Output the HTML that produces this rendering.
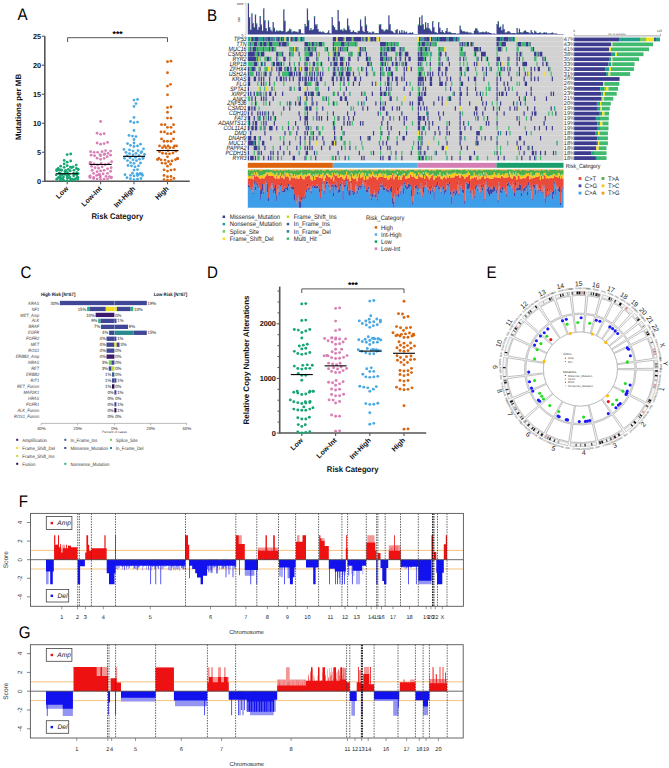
<!DOCTYPE html>
<html><head><meta charset="utf-8"><title>Figure</title>
<style>
html,body{margin:0;padding:0;background:#fff;}
body{width:669px;height:768px;overflow:hidden;}
svg{display:block;font-family:"Liberation Sans", sans-serif;text-rendering:geometricPrecision;}
</style></head><body>
<svg width="669" height="768" viewBox="0 0 669 768" font-family='"Liberation Sans", sans-serif'>
<rect width="669" height="768" fill="#fff"/>
<text transform="translate(17.6 19.8) scale(0.9 1)" font-size="16.8">A</text>
<line x1="44.8" y1="36.2" x2="44.8" y2="181.9" stroke="#555" stroke-width="1.6"/>
<line x1="44.2" y1="181.3" x2="189.8" y2="181.3" stroke="#555" stroke-width="1.6"/>
<line x1="41.8" y1="181.3" x2="44.8" y2="181.3" stroke="#555" stroke-width="1.1"/>
<text x="41" y="183.9" font-size="7.3" text-anchor="end" font-weight="bold" fill="#111">0</text>
<line x1="41.8" y1="152.28" x2="44.8" y2="152.28" stroke="#555" stroke-width="1.1"/>
<text x="41" y="154.88" font-size="7.3" text-anchor="end" font-weight="bold" fill="#111">5</text>
<line x1="41.8" y1="123.26" x2="44.8" y2="123.26" stroke="#555" stroke-width="1.1"/>
<text x="41" y="125.86" font-size="7.3" text-anchor="end" font-weight="bold" fill="#111">10</text>
<line x1="41.8" y1="94.24" x2="44.8" y2="94.24" stroke="#555" stroke-width="1.1"/>
<text x="41" y="96.84" font-size="7.3" text-anchor="end" font-weight="bold" fill="#111">15</text>
<line x1="41.8" y1="65.22" x2="44.8" y2="65.22" stroke="#555" stroke-width="1.1"/>
<text x="41" y="67.82" font-size="7.3" text-anchor="end" font-weight="bold" fill="#111">20</text>
<line x1="41.8" y1="36.2" x2="44.8" y2="36.2" stroke="#555" stroke-width="1.1"/>
<text x="41" y="38.8" font-size="7.3" text-anchor="end" font-weight="bold" fill="#111">25</text>
<text transform="translate(21 107) rotate(-90)" font-size="7.9" text-anchor="middle" font-weight="bold" fill="#111">Mutations per MB</text>
<line x1="67.2" y1="181.3" x2="67.2" y2="184.3" stroke="#555" stroke-width="1.1"/>
<text transform="translate(68.8 189.1) rotate(-45)" font-size="7.1" text-anchor="end" font-weight="bold" fill="#111">Low</text>
<line x1="100.6" y1="181.3" x2="100.6" y2="184.3" stroke="#555" stroke-width="1.1"/>
<text transform="translate(102.2 189.1) rotate(-45)" font-size="7.1" text-anchor="end" font-weight="bold" fill="#111">Low-Int</text>
<line x1="134" y1="181.3" x2="134" y2="184.3" stroke="#555" stroke-width="1.1"/>
<text transform="translate(135.6 189.1) rotate(-45)" font-size="7.1" text-anchor="end" font-weight="bold" fill="#111">Int-High</text>
<line x1="167.5" y1="181.3" x2="167.5" y2="184.3" stroke="#555" stroke-width="1.1"/>
<text transform="translate(169.1 189.1) rotate(-45)" font-size="7.1" text-anchor="end" font-weight="bold" fill="#111">High</text>
<text transform="translate(117.4 218.6) scale(0.94 1)" font-size="8.2" text-anchor="middle" font-weight="bold" fill="#111">Risk Category</text>
<path d="M67.6 42 V37.7 H167.5 V42" fill="none" stroke="#444" stroke-width="0.9"/>
<text x="117.6" y="36.6" font-size="8.6" text-anchor="middle" font-weight="bold">***</text>
<circle cx="67.2" cy="180.72" r="1.4" fill="#17a673"/>
<circle cx="70.7" cy="180.51" r="1.4" fill="#17a673"/>
<circle cx="63.7" cy="180.3" r="1.4" fill="#17a673"/>
<circle cx="74.2" cy="180.23" r="1.4" fill="#17a673"/>
<circle cx="60.2" cy="180.21" r="1.4" fill="#17a673"/>
<circle cx="77.7" cy="179.39" r="1.4" fill="#17a673"/>
<circle cx="56.7" cy="179.26" r="1.4" fill="#17a673"/>
<circle cx="70.57" cy="179.12" r="1.4" fill="#17a673"/>
<circle cx="72.55" cy="179.03" r="1.4" fill="#17a673"/>
<circle cx="62.72" cy="178.78" r="1.4" fill="#17a673"/>
<circle cx="75.48" cy="178.71" r="1.4" fill="#17a673"/>
<circle cx="60.83" cy="178.52" r="1.4" fill="#17a673"/>
<circle cx="67.53" cy="178.03" r="1.4" fill="#17a673"/>
<circle cx="58.02" cy="177.95" r="1.4" fill="#17a673"/>
<circle cx="67.65" cy="177.93" r="1.4" fill="#17a673"/>
<circle cx="77.29" cy="177.65" r="1.4" fill="#17a673"/>
<circle cx="77.43" cy="177.53" r="1.4" fill="#17a673"/>
<circle cx="77.85" cy="177.49" r="1.4" fill="#17a673"/>
<circle cx="69.81" cy="177.45" r="1.4" fill="#17a673"/>
<circle cx="59.42" cy="177.24" r="1.4" fill="#17a673"/>
<circle cx="63.43" cy="177.1" r="1.4" fill="#17a673"/>
<circle cx="60.15" cy="176.26" r="1.4" fill="#17a673"/>
<circle cx="67.15" cy="176.11" r="1.4" fill="#17a673"/>
<circle cx="73.7" cy="175.79" r="1.4" fill="#17a673"/>
<circle cx="67.35" cy="175.38" r="1.4" fill="#17a673"/>
<circle cx="56.2" cy="174.87" r="1.4" fill="#17a673"/>
<circle cx="69.09" cy="174.85" r="1.4" fill="#17a673"/>
<circle cx="76.81" cy="174.82" r="1.4" fill="#17a673"/>
<circle cx="62.41" cy="174.82" r="1.4" fill="#17a673"/>
<circle cx="64.75" cy="174.38" r="1.4" fill="#17a673"/>
<circle cx="61.22" cy="174.05" r="1.4" fill="#17a673"/>
<circle cx="76.95" cy="173.89" r="1.4" fill="#17a673"/>
<circle cx="75.29" cy="173.78" r="1.4" fill="#17a673"/>
<circle cx="77.23" cy="173.77" r="1.4" fill="#17a673"/>
<circle cx="78.15" cy="173.65" r="1.4" fill="#17a673"/>
<circle cx="73.53" cy="173.48" r="1.4" fill="#17a673"/>
<circle cx="59.92" cy="173.15" r="1.4" fill="#17a673"/>
<circle cx="59.27" cy="173.13" r="1.4" fill="#17a673"/>
<circle cx="76.82" cy="172.7" r="1.4" fill="#17a673"/>
<circle cx="67.36" cy="172.52" r="1.4" fill="#17a673"/>
<circle cx="64.93" cy="171.73" r="1.4" fill="#17a673"/>
<circle cx="70.2" cy="170.74" r="1.4" fill="#17a673"/>
<circle cx="56.7" cy="170.65" r="1.4" fill="#17a673"/>
<circle cx="73.96" cy="170.37" r="1.4" fill="#17a673"/>
<circle cx="65.68" cy="170.34" r="1.4" fill="#17a673"/>
<circle cx="61.7" cy="170.23" r="1.4" fill="#17a673"/>
<circle cx="59.25" cy="170.02" r="1.4" fill="#17a673"/>
<circle cx="60.95" cy="169.83" r="1.4" fill="#17a673"/>
<circle cx="56.71" cy="169.65" r="1.4" fill="#17a673"/>
<circle cx="78.2" cy="169.55" r="1.4" fill="#17a673"/>
<circle cx="68.3" cy="169.39" r="1.4" fill="#17a673"/>
<circle cx="78.02" cy="169.13" r="1.4" fill="#17a673"/>
<circle cx="76.35" cy="168.46" r="1.4" fill="#17a673"/>
<circle cx="58.11" cy="168.35" r="1.4" fill="#17a673"/>
<circle cx="71.7" cy="167.59" r="1.4" fill="#17a673"/>
<circle cx="64.2" cy="167.32" r="1.4" fill="#17a673"/>
<circle cx="70.48" cy="167.2" r="1.4" fill="#17a673"/>
<circle cx="73.17" cy="166.79" r="1.4" fill="#17a673"/>
<circle cx="60.7" cy="166.21" r="1.4" fill="#17a673"/>
<circle cx="67.2" cy="165.63" r="1.4" fill="#17a673"/>
<circle cx="76.2" cy="165.05" r="1.4" fill="#17a673"/>
<circle cx="64.2" cy="163.89" r="1.4" fill="#17a673"/>
<circle cx="67.2" cy="162.15" r="1.4" fill="#17a673"/>
<circle cx="70.7" cy="160.99" r="1.4" fill="#17a673"/>
<circle cx="64.2" cy="160.41" r="1.4" fill="#17a673"/>
<circle cx="67.2" cy="154.6" r="1.4" fill="#17a673"/>
<circle cx="70.7" cy="154.02" r="1.4" fill="#17a673"/>
<line x1="56.2" y1="173.75" x2="78.2" y2="173.75" stroke="#000" stroke-width="1.1"/>
<circle cx="100.6" cy="179.53" r="1.4" fill="#d97fb4"/>
<circle cx="104.1" cy="179.26" r="1.4" fill="#d97fb4"/>
<circle cx="97.1" cy="179.09" r="1.4" fill="#d97fb4"/>
<circle cx="107.6" cy="178.83" r="1.4" fill="#d97fb4"/>
<circle cx="93.6" cy="178.59" r="1.4" fill="#d97fb4"/>
<circle cx="111.1" cy="177.83" r="1.4" fill="#d97fb4"/>
<circle cx="90.1" cy="177.62" r="1.4" fill="#d97fb4"/>
<circle cx="93.74" cy="177.3" r="1.4" fill="#d97fb4"/>
<circle cx="100.23" cy="177.26" r="1.4" fill="#d97fb4"/>
<circle cx="111.44" cy="177.25" r="1.4" fill="#d97fb4"/>
<circle cx="109.48" cy="176.77" r="1.4" fill="#d97fb4"/>
<circle cx="89.67" cy="176.52" r="1.4" fill="#d97fb4"/>
<circle cx="106.04" cy="176.34" r="1.4" fill="#d97fb4"/>
<circle cx="90.18" cy="175.9" r="1.4" fill="#d97fb4"/>
<circle cx="100.21" cy="175.78" r="1.4" fill="#d97fb4"/>
<circle cx="96.6" cy="175.37" r="1.4" fill="#d97fb4"/>
<circle cx="98.78" cy="174.68" r="1.4" fill="#d97fb4"/>
<circle cx="99.44" cy="174.31" r="1.4" fill="#d97fb4"/>
<circle cx="103.1" cy="173.88" r="1.4" fill="#d97fb4"/>
<circle cx="93.6" cy="173.45" r="1.4" fill="#d97fb4"/>
<circle cx="107.6" cy="173.35" r="1.4" fill="#d97fb4"/>
<circle cx="97.1" cy="171.63" r="1.4" fill="#d97fb4"/>
<circle cx="110.6" cy="171.25" r="1.4" fill="#d97fb4"/>
<circle cx="100.6" cy="170.95" r="1.4" fill="#d97fb4"/>
<circle cx="104.1" cy="170.29" r="1.4" fill="#d97fb4"/>
<circle cx="92.1" cy="170.26" r="1.4" fill="#d97fb4"/>
<circle cx="107.6" cy="168.83" r="1.4" fill="#d97fb4"/>
<circle cx="98.6" cy="168.16" r="1.4" fill="#d97fb4"/>
<circle cx="95.1" cy="167.77" r="1.4" fill="#d97fb4"/>
<circle cx="111.1" cy="167.66" r="1.4" fill="#d97fb4"/>
<circle cx="102.1" cy="166.83" r="1.4" fill="#d97fb4"/>
<circle cx="91.6" cy="166.34" r="1.4" fill="#d97fb4"/>
<circle cx="97.6" cy="164.94" r="1.4" fill="#d97fb4"/>
<circle cx="105.1" cy="164.64" r="1.4" fill="#d97fb4"/>
<circle cx="94.1" cy="163.98" r="1.4" fill="#d97fb4"/>
<circle cx="108.6" cy="163.76" r="1.4" fill="#d97fb4"/>
<circle cx="89.97" cy="163.65" r="1.4" fill="#d97fb4"/>
<circle cx="101.1" cy="163.51" r="1.4" fill="#d97fb4"/>
<circle cx="90.34" cy="162.47" r="1.4" fill="#d97fb4"/>
<circle cx="90.27" cy="162.28" r="1.4" fill="#d97fb4"/>
<circle cx="111.6" cy="161.77" r="1.4" fill="#d97fb4"/>
<circle cx="100.6" cy="159.35" r="1.4" fill="#d97fb4"/>
<circle cx="104.1" cy="158.31" r="1.4" fill="#d97fb4"/>
<circle cx="97.1" cy="158.14" r="1.4" fill="#d97fb4"/>
<circle cx="107.1" cy="156.63" r="1.4" fill="#d97fb4"/>
<circle cx="100.6" cy="155.76" r="1.4" fill="#d97fb4"/>
<circle cx="94.6" cy="155.76" r="1.4" fill="#d97fb4"/>
<circle cx="91.1" cy="155.18" r="1.4" fill="#d97fb4"/>
<circle cx="110.6" cy="155.18" r="1.4" fill="#d97fb4"/>
<circle cx="104.1" cy="154.6" r="1.4" fill="#d97fb4"/>
<circle cx="100.07" cy="154.6" r="1.4" fill="#d97fb4"/>
<circle cx="104.68" cy="154.02" r="1.4" fill="#d97fb4"/>
<circle cx="108.08" cy="153.44" r="1.4" fill="#d97fb4"/>
<circle cx="97.6" cy="152.28" r="1.4" fill="#d97fb4"/>
<circle cx="94.1" cy="152.28" r="1.4" fill="#d97fb4"/>
<circle cx="102.1" cy="151.7" r="1.4" fill="#d97fb4"/>
<circle cx="90.6" cy="151.7" r="1.4" fill="#d97fb4"/>
<circle cx="110.6" cy="151.12" r="1.4" fill="#d97fb4"/>
<circle cx="105.6" cy="150.54" r="1.4" fill="#d97fb4"/>
<circle cx="100.6" cy="144.15" r="1.4" fill="#d97fb4"/>
<circle cx="104.1" cy="143.57" r="1.4" fill="#d97fb4"/>
<circle cx="97.1" cy="142.99" r="1.4" fill="#d97fb4"/>
<circle cx="107.6" cy="142.41" r="1.4" fill="#d97fb4"/>
<circle cx="100.6" cy="134.29" r="1.4" fill="#d97fb4"/>
<circle cx="104.1" cy="133.71" r="1.4" fill="#d97fb4"/>
<circle cx="97.1" cy="133.13" r="1.4" fill="#d97fb4"/>
<circle cx="100.6" cy="121.52" r="1.4" fill="#d97fb4"/>
<line x1="89.6" y1="164.47" x2="111.6" y2="164.47" stroke="#000" stroke-width="1.1"/>
<circle cx="134" cy="179.74" r="1.4" fill="#4ba9e3"/>
<circle cx="137.5" cy="179.22" r="1.4" fill="#4ba9e3"/>
<circle cx="130.5" cy="178.7" r="1.4" fill="#4ba9e3"/>
<circle cx="141" cy="178.5" r="1.4" fill="#4ba9e3"/>
<circle cx="127" cy="177.67" r="1.4" fill="#4ba9e3"/>
<circle cx="134" cy="175.96" r="1.4" fill="#4ba9e3"/>
<circle cx="137.5" cy="175.62" r="1.4" fill="#4ba9e3"/>
<circle cx="142.5" cy="175.46" r="1.4" fill="#4ba9e3"/>
<circle cx="130.5" cy="175.29" r="1.4" fill="#4ba9e3"/>
<circle cx="125" cy="174.7" r="1.4" fill="#4ba9e3"/>
<circle cx="137.68" cy="174.47" r="1.4" fill="#4ba9e3"/>
<circle cx="140.22" cy="174.2" r="1.4" fill="#4ba9e3"/>
<circle cx="142.03" cy="174.02" r="1.4" fill="#4ba9e3"/>
<circle cx="137.05" cy="173.73" r="1.4" fill="#4ba9e3"/>
<circle cx="140.16" cy="173.47" r="1.4" fill="#4ba9e3"/>
<circle cx="132.44" cy="173.16" r="1.4" fill="#4ba9e3"/>
<circle cx="134" cy="170.11" r="1.4" fill="#4ba9e3"/>
<circle cx="137.5" cy="169.53" r="1.4" fill="#4ba9e3"/>
<circle cx="135" cy="166.83" r="1.4" fill="#4ba9e3"/>
<circle cx="131.5" cy="165.95" r="1.4" fill="#4ba9e3"/>
<circle cx="138.5" cy="165.78" r="1.4" fill="#4ba9e3"/>
<circle cx="128" cy="165.52" r="1.4" fill="#4ba9e3"/>
<circle cx="134" cy="163.37" r="1.4" fill="#4ba9e3"/>
<circle cx="140.5" cy="163" r="1.4" fill="#4ba9e3"/>
<circle cx="130.5" cy="162.54" r="1.4" fill="#4ba9e3"/>
<circle cx="136.5" cy="160.68" r="1.4" fill="#4ba9e3"/>
<circle cx="127.5" cy="160.54" r="1.4" fill="#4ba9e3"/>
<circle cx="133" cy="159.86" r="1.4" fill="#4ba9e3"/>
<circle cx="139.5" cy="159.15" r="1.4" fill="#4ba9e3"/>
<circle cx="143" cy="158.52" r="1.4" fill="#4ba9e3"/>
<circle cx="124.5" cy="158.31" r="1.4" fill="#4ba9e3"/>
<circle cx="130" cy="157.76" r="1.4" fill="#4ba9e3"/>
<circle cx="143.01" cy="157.53" r="1.4" fill="#4ba9e3"/>
<circle cx="135.5" cy="157.23" r="1.4" fill="#4ba9e3"/>
<circle cx="127" cy="155.85" r="1.4" fill="#4ba9e3"/>
<circle cx="139" cy="155.76" r="1.4" fill="#4ba9e3"/>
<circle cx="133" cy="154.8" r="1.4" fill="#4ba9e3"/>
<circle cx="144.5" cy="154.51" r="1.4" fill="#4ba9e3"/>
<circle cx="129.5" cy="153.58" r="1.4" fill="#4ba9e3"/>
<circle cx="136" cy="153.28" r="1.4" fill="#4ba9e3"/>
<circle cx="141" cy="152.86" r="1.4" fill="#4ba9e3"/>
<circle cx="126" cy="152.28" r="1.4" fill="#4ba9e3"/>
<circle cx="141.68" cy="151.7" r="1.4" fill="#4ba9e3"/>
<circle cx="133" cy="151.12" r="1.4" fill="#4ba9e3"/>
<circle cx="138" cy="150.54" r="1.4" fill="#4ba9e3"/>
<circle cx="129.5" cy="149.96" r="1.4" fill="#4ba9e3"/>
<circle cx="124" cy="149.38" r="1.4" fill="#4ba9e3"/>
<circle cx="143.5" cy="148.8" r="1.4" fill="#4ba9e3"/>
<circle cx="134" cy="146.48" r="1.4" fill="#4ba9e3"/>
<circle cx="137.5" cy="145.9" r="1.4" fill="#4ba9e3"/>
<circle cx="130.5" cy="145.32" r="1.4" fill="#4ba9e3"/>
<circle cx="140.5" cy="144.15" r="1.4" fill="#4ba9e3"/>
<circle cx="127.5" cy="143.57" r="1.4" fill="#4ba9e3"/>
<circle cx="134" cy="142.99" r="1.4" fill="#4ba9e3"/>
<circle cx="134" cy="139.51" r="1.4" fill="#4ba9e3"/>
<circle cx="136" cy="136.61" r="1.4" fill="#4ba9e3"/>
<circle cx="132.5" cy="136.03" r="1.4" fill="#4ba9e3"/>
<circle cx="129" cy="135.45" r="1.4" fill="#4ba9e3"/>
<circle cx="134" cy="130.51" r="1.4" fill="#4ba9e3"/>
<circle cx="134" cy="122.68" r="1.4" fill="#4ba9e3"/>
<circle cx="137.5" cy="122.1" r="1.4" fill="#4ba9e3"/>
<circle cx="130.5" cy="121.52" r="1.4" fill="#4ba9e3"/>
<circle cx="134" cy="117.46" r="1.4" fill="#4ba9e3"/>
<circle cx="134" cy="106.43" r="1.4" fill="#4ba9e3"/>
<circle cx="136" cy="103.53" r="1.4" fill="#4ba9e3"/>
<circle cx="134" cy="100.04" r="1.4" fill="#4ba9e3"/>
<circle cx="137.5" cy="99.46" r="1.4" fill="#4ba9e3"/>
<line x1="123" y1="156.34" x2="145" y2="156.34" stroke="#000" stroke-width="1.1"/>
<circle cx="167.5" cy="180.18" r="1.4" fill="#d9650f"/>
<circle cx="171" cy="180.08" r="1.4" fill="#d9650f"/>
<circle cx="164" cy="179.66" r="1.4" fill="#d9650f"/>
<circle cx="174" cy="178.45" r="1.4" fill="#d9650f"/>
<circle cx="167.5" cy="176.75" r="1.4" fill="#d9650f"/>
<circle cx="171" cy="176.48" r="1.4" fill="#d9650f"/>
<circle cx="164" cy="175.4" r="1.4" fill="#d9650f"/>
<circle cx="167.5" cy="171.09" r="1.4" fill="#d9650f"/>
<circle cx="171" cy="170.1" r="1.4" fill="#d9650f"/>
<circle cx="164" cy="169.79" r="1.4" fill="#d9650f"/>
<circle cx="174.5" cy="169.59" r="1.4" fill="#d9650f"/>
<circle cx="167.5" cy="166.17" r="1.4" fill="#d9650f"/>
<circle cx="170.5" cy="164.24" r="1.4" fill="#d9650f"/>
<circle cx="165.5" cy="163.45" r="1.4" fill="#d9650f"/>
<circle cx="162" cy="163.08" r="1.4" fill="#d9650f"/>
<circle cx="168.5" cy="161.52" r="1.4" fill="#d9650f"/>
<circle cx="172" cy="160.89" r="1.4" fill="#d9650f"/>
<circle cx="165" cy="160.04" r="1.4" fill="#d9650f"/>
<circle cx="161" cy="159.86" r="1.4" fill="#d9650f"/>
<circle cx="175.5" cy="159.56" r="1.4" fill="#d9650f"/>
<circle cx="157.5" cy="159.48" r="1.4" fill="#d9650f"/>
<circle cx="177.76" cy="158.67" r="1.4" fill="#d9650f"/>
<circle cx="158.81" cy="158.48" r="1.4" fill="#d9650f"/>
<circle cx="177.42" cy="158.47" r="1.4" fill="#d9650f"/>
<circle cx="167.5" cy="156.78" r="1.4" fill="#d9650f"/>
<circle cx="169.5" cy="153.83" r="1.4" fill="#d9650f"/>
<circle cx="166" cy="153.55" r="1.4" fill="#d9650f"/>
<circle cx="162.5" cy="153.25" r="1.4" fill="#d9650f"/>
<circle cx="173" cy="153.1" r="1.4" fill="#d9650f"/>
<circle cx="159.5" cy="151.66" r="1.4" fill="#d9650f"/>
<circle cx="176" cy="151.13" r="1.4" fill="#d9650f"/>
<circle cx="168" cy="150.56" r="1.4" fill="#d9650f"/>
<circle cx="166" cy="147.64" r="1.4" fill="#d9650f"/>
<circle cx="170" cy="147.64" r="1.4" fill="#d9650f"/>
<circle cx="162.5" cy="147.64" r="1.4" fill="#d9650f"/>
<circle cx="173.5" cy="147.64" r="1.4" fill="#d9650f"/>
<circle cx="159.5" cy="145.9" r="1.4" fill="#d9650f"/>
<circle cx="176.5" cy="145.9" r="1.4" fill="#d9650f"/>
<circle cx="168.1" cy="145.9" r="1.4" fill="#d9650f"/>
<circle cx="174.53" cy="145.9" r="1.4" fill="#d9650f"/>
<circle cx="164.4" cy="145.9" r="1.4" fill="#d9650f"/>
<circle cx="167.5" cy="141.25" r="1.4" fill="#d9650f"/>
<circle cx="171" cy="141.25" r="1.4" fill="#d9650f"/>
<circle cx="164" cy="141.25" r="1.4" fill="#d9650f"/>
<circle cx="173.5" cy="138.93" r="1.4" fill="#d9650f"/>
<circle cx="161.5" cy="138.93" r="1.4" fill="#d9650f"/>
<circle cx="167.5" cy="133.71" r="1.4" fill="#d9650f"/>
<circle cx="171" cy="133.71" r="1.4" fill="#d9650f"/>
<circle cx="164.5" cy="131.97" r="1.4" fill="#d9650f"/>
<circle cx="174" cy="131.97" r="1.4" fill="#d9650f"/>
<circle cx="161" cy="131.97" r="1.4" fill="#d9650f"/>
<circle cx="167.5" cy="127.32" r="1.4" fill="#d9650f"/>
<circle cx="171" cy="127.32" r="1.4" fill="#d9650f"/>
<circle cx="165" cy="124.71" r="1.4" fill="#d9650f"/>
<circle cx="173.5" cy="124.71" r="1.4" fill="#d9650f"/>
<circle cx="161.5" cy="124.71" r="1.4" fill="#d9650f"/>
<circle cx="167.5" cy="118.04" r="1.4" fill="#d9650f"/>
<circle cx="171" cy="118.04" r="1.4" fill="#d9650f"/>
<circle cx="167.5" cy="112.23" r="1.4" fill="#d9650f"/>
<circle cx="167.5" cy="107.59" r="1.4" fill="#d9650f"/>
<circle cx="171" cy="107.01" r="1.4" fill="#d9650f"/>
<circle cx="167.5" cy="94.82" r="1.4" fill="#d9650f"/>
<circle cx="167.5" cy="86.11" r="1.4" fill="#d9650f"/>
<circle cx="170.5" cy="84.37" r="1.4" fill="#d9650f"/>
<circle cx="167.5" cy="72.77" r="1.4" fill="#d9650f"/>
<circle cx="167.5" cy="61.74" r="1.4" fill="#d9650f"/>
<circle cx="171" cy="61.16" r="1.4" fill="#d9650f"/>
<line x1="156.5" y1="150.54" x2="178.5" y2="150.54" stroke="#000" stroke-width="1.1"/>
<text transform="translate(206.9 20.9) scale(0.9 1)" font-size="16.8">B</text>
<rect x="247.8" y="36.7" width="315.7" height="123.9" fill="#d2d2d2"/>
<path fill="#21a08a" d="M247.8 37h2.36v4.59h-2.36zM253.7 37h1.18v4.59h-1.18zM258.43 37h4.72v4.59h-4.72zM264.33 37h1.18v4.59h-1.18zM266.69 37h1.18v4.59h-1.18zM270.23 37h1.18v4.59h-1.18zM272.59 37h2.36v4.59h-2.36zM282.04 37h1.18v4.59h-1.18zM285.58 37h1.18v4.59h-1.18zM292.66 37h2.36v4.59h-2.36zM297.38 37h1.18v4.59h-1.18zM299.74 37h1.18v4.59h-1.18zM302.11 37h2.36v4.59h-2.36zM343.43 37h1.18v4.59h-1.18zM352.87 37h1.18v4.59h-1.18zM364.68 37h1.18v4.59h-1.18zM367.04 37h1.18v4.59h-1.18zM369.4 37h1.18v4.59h-1.18zM372.94 37h1.18v4.59h-1.18zM378.84 37h1.18v4.59h-1.18zM420.18 37h1.19v4.59h-1.19zM422.57 37h1.19v4.59h-1.19zM432.11 37h2.38v4.59h-2.38zM435.69 37h1.19v4.59h-1.19zM438.07 37h1.19v4.59h-1.19zM446.42 37h2.38v4.59h-2.38zM453.57 37h2.38v4.59h-2.38zM457.15 37h2.38v4.59h-2.38zM500.03 37h1.18v4.59h-1.18zM502.38 37h1.18v4.59h-1.18zM508.25 37h1.18v4.59h-1.18zM510.61 37h2.35v4.59h-2.35zM514.13 37h1.18v4.59h-1.18zM290.3 51.83h1.18v4.59h-1.18zM384.74 51.83h1.18v4.59h-1.18zM429.72 51.83h1.19v4.59h-1.19zM251.34 61.72h1.18v4.59h-1.18zM261.97 61.72h1.18v4.59h-1.18zM279.68 61.72h1.18v4.59h-1.18zM547.04 61.72h1.18v4.59h-1.18zM300.93 66.66h1.18v4.59h-1.18zM332.8 66.66h1.18v4.59h-1.18zM348.15 66.66h1.18v4.59h-1.18zM371.76 66.66h1.18v4.59h-1.18zM500.03 66.66h1.18v4.59h-1.18zM507.08 66.66h1.18v4.59h-1.18zM287.94 71.61h1.18v4.59h-1.18zM335.16 71.61h1.18v4.59h-1.18zM464.3 71.61h1.19v4.59h-1.19zM264.33 86.44h1.18v4.59h-1.18zM317.45 86.44h1.18v4.59h-1.18zM390.65 86.44h1.18v4.59h-1.18zM489.35 86.44h1.19v4.59h-1.19zM332.8 91.38h1.18v4.59h-1.18zM349.33 91.38h1.18v4.59h-1.18zM286.76 101.27h1.18v4.59h-1.18zM290.3 101.27h1.18v4.59h-1.18zM304.47 101.27h1.18v4.59h-1.18zM312.73 101.27h1.18v4.59h-1.18zM357.59 101.27h1.18v4.59h-1.18zM363.49 101.27h1.18v4.59h-1.18zM516.48 101.27h1.18v4.59h-1.18zM524.71 101.27h1.18v4.59h-1.18zM254.88 106.22h1.18v4.59h-1.18zM304.47 106.22h1.18v4.59h-1.18zM350.51 106.22h1.18v4.59h-1.18zM554.1 106.22h1.18v4.59h-1.18zM387.11 111.16h1.18v4.59h-1.18zM426.15 111.16h1.19v4.59h-1.19zM259.61 116.1h1.18v4.59h-1.18zM247.8 121.05h1.18v4.59h-1.18zM467.88 121.05h1.19v4.59h-1.19zM259.61 125.99h1.18v4.59h-1.18zM423.76 125.99h1.19v4.59h-1.19zM289.12 130.94h1.18v4.59h-1.18zM500.03 130.94h1.18v4.59h-1.18zM418.99 135.88h1.19v4.59h-1.19zM460.73 135.88h1.19v4.59h-1.19zM464.3 135.88h1.19v4.59h-1.19zM496.5 135.88h1.18v4.59h-1.18zM253.7 140.82h1.18v4.59h-1.18zM378.84 140.82h1.18v4.59h-1.18zM556.45 140.82h1.18v4.59h-1.18zM257.24 150.71h1.18v4.59h-1.18zM298.56 150.71h1.18v4.59h-1.18zM555.27 150.71h1.18v4.59h-1.18zM348.15 155.66h1.18v4.59h-1.18zM446.42 155.66h1.19v4.59h-1.19z"/>
<path fill="#74c95a" d="M250.16 37h1.18v4.59h-1.18zM274.95 37h1.18v4.59h-1.18zM279.68 37h1.18v4.59h-1.18zM298.56 37h1.18v4.59h-1.18zM351.69 37h1.18v4.59h-1.18zM361.13 37h1.18v4.59h-1.18zM363.49 37h1.18v4.59h-1.18zM273.77 86.44h1.18v4.59h-1.18z"/>
<path fill="#3d3b8e" d="M251.34 37h2.36v4.59h-2.36zM254.88 37h3.54v4.59h-3.54zM263.15 37h1.18v4.59h-1.18zM265.51 37h1.18v4.59h-1.18zM267.87 37h2.36v4.59h-2.36zM271.41 37h1.18v4.59h-1.18zM277.31 37h2.36v4.59h-2.36zM280.86 37h1.18v4.59h-1.18zM283.22 37h1.18v4.59h-1.18zM286.76 37h1.18v4.59h-1.18zM290.3 37h2.36v4.59h-2.36zM295.02 37h2.36v4.59h-2.36zM300.93 37h1.18v4.59h-1.18zM332.8 37h3.54v4.59h-3.54zM337.52 37h5.9v4.59h-5.9zM345.79 37h5.9v4.59h-5.9zM354.05 37h7.08v4.59h-7.08zM362.31 37h1.18v4.59h-1.18zM365.86 37h1.18v4.59h-1.18zM370.58 37h2.36v4.59h-2.36zM374.12 37h2.36v4.59h-2.36zM418.99 37h1.19v4.59h-1.19zM426.15 37h3.58v4.59h-3.58zM430.92 37h1.19v4.59h-1.19zM434.49 37h1.19v4.59h-1.19zM436.88 37h1.19v4.59h-1.19zM439.26 37h7.15v4.59h-7.15zM448.8 37h4.77v4.59h-4.77zM455.96 37h1.19v4.59h-1.19zM496.5 37h3.53v4.59h-3.53zM501.2 37h1.18v4.59h-1.18zM503.55 37h4.7v4.59h-4.7zM509.43 37h1.18v4.59h-1.18zM250.16 41.94h1.18v4.59h-1.18zM253.7 41.94h3.54v4.59h-3.54zM259.61 41.94h2.36v4.59h-2.36zM263.15 41.94h3.54v4.59h-3.54zM269.05 41.94h3.54v4.59h-3.54zM278.49 41.94h2.36v4.59h-2.36zM282.04 41.94h4.72v4.59h-4.72zM304.47 41.94h3.54v4.59h-3.54zM309.19 41.94h1.18v4.59h-1.18zM311.55 41.94h2.36v4.59h-2.36zM316.27 41.94h1.18v4.59h-1.18zM318.63 41.94h3.54v4.59h-3.54zM332.8 41.94h1.18v4.59h-1.18zM341.06 41.94h3.54v4.59h-3.54zM348.15 41.94h1.18v4.59h-1.18zM355.23 41.94h1.18v4.59h-1.18zM380.02 41.94h5.9v4.59h-5.9zM387.11 41.94h1.18v4.59h-1.18zM390.65 41.94h1.18v4.59h-1.18zM394.19 41.94h1.18v4.59h-1.18zM418.99 41.94h1.19v4.59h-1.19zM421.38 41.94h3.58v4.59h-3.58zM427.34 41.94h1.19v4.59h-1.19zM429.72 41.94h1.19v4.59h-1.19zM434.49 41.94h1.19v4.59h-1.19zM459.53 41.94h1.19v4.59h-1.19zM461.92 41.94h1.19v4.59h-1.19zM464.3 41.94h1.19v4.59h-1.19zM466.69 41.94h2.38v4.59h-2.38zM470.27 41.94h2.38v4.59h-2.38zM496.5 41.94h2.35v4.59h-2.35zM501.2 41.94h4.7v4.59h-4.7zM517.66 41.94h3.53v4.59h-3.53zM525.89 41.94h2.35v4.59h-2.35zM529.41 41.94h1.18v4.59h-1.18zM250.16 46.89h1.18v4.59h-1.18zM252.52 46.89h3.54v4.59h-3.54zM257.24 46.89h1.18v4.59h-1.18zM263.15 46.89h1.18v4.59h-1.18zM269.05 46.89h1.18v4.59h-1.18zM271.41 46.89h2.36v4.59h-2.36zM292.66 46.89h1.18v4.59h-1.18zM296.2 46.89h1.18v4.59h-1.18zM304.47 46.89h1.18v4.59h-1.18zM308.01 46.89h2.36v4.59h-2.36zM311.55 46.89h1.18v4.59h-1.18zM315.09 46.89h1.18v4.59h-1.18zM326.9 46.89h1.18v4.59h-1.18zM332.8 46.89h1.18v4.59h-1.18zM335.16 46.89h1.18v4.59h-1.18zM337.52 46.89h1.18v4.59h-1.18zM339.88 46.89h1.18v4.59h-1.18zM342.24 46.89h1.18v4.59h-1.18zM346.97 46.89h1.18v4.59h-1.18zM359.95 46.89h1.18v4.59h-1.18zM362.31 46.89h1.18v4.59h-1.18zM364.68 46.89h1.18v4.59h-1.18zM381.2 46.89h1.18v4.59h-1.18zM383.56 46.89h1.18v4.59h-1.18zM387.11 46.89h2.36v4.59h-2.36zM390.65 46.89h4.72v4.59h-4.72zM400.09 46.89h1.18v4.59h-1.18zM402.45 46.89h1.18v4.59h-1.18zM420.18 46.89h2.38v4.59h-2.38zM424.95 46.89h2.38v4.59h-2.38zM428.53 46.89h1.19v4.59h-1.19zM439.26 46.89h1.19v4.59h-1.19zM460.73 46.89h1.19v4.59h-1.19zM473.84 46.89h4.77v4.59h-4.77zM479.81 46.89h1.19v4.59h-1.19zM497.68 46.89h3.53v4.59h-3.53zM532.94 46.89h1.18v4.59h-1.18zM247.8 51.83h7.08v4.59h-7.08zM257.24 51.83h2.36v4.59h-2.36zM260.79 51.83h3.54v4.59h-3.54zM276.13 51.83h2.36v4.59h-2.36zM282.04 51.83h1.18v4.59h-1.18zM289.12 51.83h1.18v4.59h-1.18zM298.56 51.83h1.18v4.59h-1.18zM309.19 51.83h3.54v4.59h-3.54zM316.27 51.83h1.18v4.59h-1.18zM333.98 51.83h2.36v4.59h-2.36zM337.52 51.83h2.36v4.59h-2.36zM350.51 51.83h1.18v4.59h-1.18zM358.77 51.83h2.36v4.59h-2.36zM365.86 51.83h1.18v4.59h-1.18zM380.02 51.83h2.36v4.59h-2.36zM383.56 51.83h1.18v4.59h-1.18zM385.93 51.83h1.18v4.59h-1.18zM398.91 51.83h2.36v4.59h-2.36zM404.81 51.83h3.54v4.59h-3.54zM417.8 51.83h1.19v4.59h-1.19zM420.18 51.83h2.38v4.59h-2.38zM439.26 51.83h2.38v4.59h-2.38zM445.23 51.83h1.19v4.59h-1.19zM464.3 51.83h1.19v4.59h-1.19zM475.04 51.83h1.19v4.59h-1.19zM481 51.83h4.77v4.59h-4.77zM516.48 51.83h1.18v4.59h-1.18zM520.01 51.83h1.18v4.59h-1.18zM534.11 51.83h2.35v4.59h-2.35zM537.64 51.83h1.18v4.59h-1.18zM539.99 51.83h2.35v4.59h-2.35zM247.8 56.78h8.26v4.59h-8.26zM257.24 56.78h1.18v4.59h-1.18zM266.69 56.78h2.36v4.59h-2.36zM276.13 56.78h1.18v4.59h-1.18zM283.22 56.78h2.36v4.59h-2.36zM305.65 56.78h3.54v4.59h-3.54zM316.27 56.78h1.18v4.59h-1.18zM328.08 56.78h1.18v4.59h-1.18zM332.8 56.78h2.36v4.59h-2.36zM336.34 56.78h1.18v4.59h-1.18zM339.88 56.78h3.54v4.59h-3.54zM348.15 56.78h2.36v4.59h-2.36zM357.59 56.78h1.18v4.59h-1.18zM365.86 56.78h2.36v4.59h-2.36zM369.4 56.78h1.18v4.59h-1.18zM380.02 56.78h3.54v4.59h-3.54zM385.93 56.78h1.18v4.59h-1.18zM388.29 56.78h1.18v4.59h-1.18zM390.65 56.78h1.18v4.59h-1.18zM395.37 56.78h1.18v4.59h-1.18zM400.09 56.78h1.18v4.59h-1.18zM404.81 56.78h1.18v4.59h-1.18zM408.36 56.78h2.36v4.59h-2.36zM417.8 56.78h5.96v4.59h-5.96zM424.95 56.78h1.19v4.59h-1.19zM439.26 56.78h1.19v4.59h-1.19zM447.61 56.78h1.19v4.59h-1.19zM459.53 56.78h1.19v4.59h-1.19zM463.11 56.78h1.19v4.59h-1.19zM477.42 56.78h1.19v4.59h-1.19zM481 56.78h1.19v4.59h-1.19zM486.96 56.78h1.19v4.59h-1.19zM496.5 56.78h3.53v4.59h-3.53zM508.25 56.78h1.18v4.59h-1.18zM516.48 56.78h1.18v4.59h-1.18zM518.83 56.78h1.18v4.59h-1.18zM542.34 56.78h1.18v4.59h-1.18zM544.69 56.78h1.18v4.59h-1.18zM253.7 61.72h3.54v4.59h-3.54zM260.79 61.72h1.18v4.59h-1.18zM264.33 61.72h1.18v4.59h-1.18zM272.59 61.72h2.36v4.59h-2.36zM276.13 61.72h3.54v4.59h-3.54zM280.86 61.72h1.18v4.59h-1.18zM289.12 61.72h1.18v4.59h-1.18zM298.56 61.72h1.18v4.59h-1.18zM304.47 61.72h1.18v4.59h-1.18zM312.73 61.72h2.36v4.59h-2.36zM320.99 61.72h1.18v4.59h-1.18zM330.44 61.72h1.18v4.59h-1.18zM333.98 61.72h3.54v4.59h-3.54zM339.88 61.72h3.54v4.59h-3.54zM345.79 61.72h1.18v4.59h-1.18zM348.15 61.72h1.18v4.59h-1.18zM367.04 61.72h2.36v4.59h-2.36zM370.58 61.72h1.18v4.59h-1.18zM381.2 61.72h2.36v4.59h-2.36zM384.74 61.72h1.18v4.59h-1.18zM391.83 61.72h1.18v4.59h-1.18zM395.37 61.72h2.36v4.59h-2.36zM402.45 61.72h1.18v4.59h-1.18zM404.81 61.72h2.36v4.59h-2.36zM417.8 61.72h1.19v4.59h-1.19zM420.18 61.72h1.19v4.59h-1.19zM429.72 61.72h1.19v4.59h-1.19zM439.26 61.72h1.19v4.59h-1.19zM441.65 61.72h1.19v4.59h-1.19zM448.8 61.72h1.19v4.59h-1.19zM473.84 61.72h1.19v4.59h-1.19zM476.23 61.72h1.19v4.59h-1.19zM496.5 61.72h1.18v4.59h-1.18zM500.03 61.72h1.18v4.59h-1.18zM516.48 61.72h1.18v4.59h-1.18zM522.36 61.72h4.7v4.59h-4.7zM542.34 61.72h1.18v4.59h-1.18zM545.87 61.72h1.18v4.59h-1.18zM247.8 66.66h1.18v4.59h-1.18zM251.34 66.66h3.54v4.59h-3.54zM259.61 66.66h1.18v4.59h-1.18zM271.41 66.66h1.18v4.59h-1.18zM276.13 66.66h1.18v4.59h-1.18zM278.49 66.66h3.54v4.59h-3.54zM284.4 66.66h1.18v4.59h-1.18zM286.76 66.66h2.36v4.59h-2.36zM290.3 66.66h1.18v4.59h-1.18zM295.02 66.66h1.18v4.59h-1.18zM298.56 66.66h1.18v4.59h-1.18zM304.47 66.66h3.54v4.59h-3.54zM311.55 66.66h1.18v4.59h-1.18zM317.45 66.66h1.18v4.59h-1.18zM333.98 66.66h1.18v4.59h-1.18zM337.52 66.66h1.18v4.59h-1.18zM342.24 66.66h1.18v4.59h-1.18zM346.97 66.66h1.18v4.59h-1.18zM361.13 66.66h1.18v4.59h-1.18zM365.86 66.66h1.18v4.59h-1.18zM380.02 66.66h1.18v4.59h-1.18zM385.93 66.66h1.18v4.59h-1.18zM388.29 66.66h2.36v4.59h-2.36zM403.63 66.66h1.18v4.59h-1.18zM405.99 66.66h1.18v4.59h-1.18zM410.72 66.66h1.18v4.59h-1.18zM421.38 66.66h1.19v4.59h-1.19zM438.07 66.66h2.38v4.59h-2.38zM445.23 66.66h2.38v4.59h-2.38zM459.53 66.66h2.38v4.59h-2.38zM466.69 66.66h2.38v4.59h-2.38zM482.19 66.66h1.19v4.59h-1.19zM485.77 66.66h1.19v4.59h-1.19zM490.54 66.66h1.19v4.59h-1.19zM501.2 66.66h1.18v4.59h-1.18zM503.55 66.66h1.18v4.59h-1.18zM509.43 66.66h1.18v4.59h-1.18zM518.83 66.66h1.18v4.59h-1.18zM530.59 66.66h1.18v4.59h-1.18zM534.11 66.66h1.18v4.59h-1.18zM537.64 66.66h2.35v4.59h-2.35zM548.22 66.66h1.18v4.59h-1.18zM247.8 71.61h1.18v4.59h-1.18zM256.06 71.61h1.18v4.59h-1.18zM258.43 71.61h1.18v4.59h-1.18zM264.33 71.61h2.36v4.59h-2.36zM270.23 71.61h1.18v4.59h-1.18zM278.49 71.61h1.18v4.59h-1.18zM289.12 71.61h3.54v4.59h-3.54zM293.84 71.61h1.18v4.59h-1.18zM296.2 71.61h1.18v4.59h-1.18zM298.56 71.61h2.36v4.59h-2.36zM305.65 71.61h1.18v4.59h-1.18zM309.19 71.61h1.18v4.59h-1.18zM311.55 71.61h1.18v4.59h-1.18zM313.91 71.61h1.18v4.59h-1.18zM317.45 71.61h1.18v4.59h-1.18zM319.81 71.61h1.18v4.59h-1.18zM322.18 71.61h1.18v4.59h-1.18zM332.8 71.61h2.36v4.59h-2.36zM338.7 71.61h1.18v4.59h-1.18zM341.06 71.61h2.36v4.59h-2.36zM345.79 71.61h4.72v4.59h-4.72zM352.87 71.61h1.18v4.59h-1.18zM365.86 71.61h1.18v4.59h-1.18zM380.02 71.61h1.18v4.59h-1.18zM390.65 71.61h2.36v4.59h-2.36zM403.63 71.61h1.18v4.59h-1.18zM418.99 71.61h2.38v4.59h-2.38zM427.34 71.61h1.19v4.59h-1.19zM429.72 71.61h1.19v4.59h-1.19zM432.11 71.61h1.19v4.59h-1.19zM438.07 71.61h1.19v4.59h-1.19zM441.65 71.61h1.19v4.59h-1.19zM445.23 71.61h1.19v4.59h-1.19zM460.73 71.61h1.19v4.59h-1.19zM485.77 71.61h1.19v4.59h-1.19zM498.85 71.61h1.18v4.59h-1.18zM508.25 71.61h1.18v4.59h-1.18zM518.83 71.61h1.18v4.59h-1.18zM524.71 71.61h1.18v4.59h-1.18zM530.59 71.61h1.18v4.59h-1.18zM247.8 76.55h2.36v4.59h-2.36zM253.7 76.55h2.36v4.59h-2.36zM258.43 76.55h1.18v4.59h-1.18zM260.79 76.55h1.18v4.59h-1.18zM263.15 76.55h1.18v4.59h-1.18zM269.05 76.55h1.18v4.59h-1.18zM276.13 76.55h1.18v4.59h-1.18zM279.68 76.55h2.36v4.59h-2.36zM283.22 76.55h1.18v4.59h-1.18zM285.58 76.55h1.18v4.59h-1.18zM289.12 76.55h1.18v4.59h-1.18zM292.66 76.55h1.18v4.59h-1.18zM298.56 76.55h2.36v4.59h-2.36zM302.11 76.55h1.18v4.59h-1.18zM304.47 76.55h2.36v4.59h-2.36zM308.01 76.55h1.18v4.59h-1.18zM310.37 76.55h2.36v4.59h-2.36zM313.91 76.55h1.18v4.59h-1.18zM316.27 76.55h1.18v4.59h-1.18zM319.81 76.55h2.36v4.59h-2.36zM331.62 76.55h2.36v4.59h-2.36zM336.34 76.55h1.18v4.59h-1.18zM339.88 76.55h2.36v4.59h-2.36zM343.43 76.55h1.18v4.59h-1.18zM346.97 76.55h2.36v4.59h-2.36zM354.05 76.55h2.36v4.59h-2.36zM359.95 76.55h1.18v4.59h-1.18zM380.02 76.55h1.18v4.59h-1.18zM387.11 76.55h2.36v4.59h-2.36zM391.83 76.55h1.18v4.59h-1.18zM395.37 76.55h2.36v4.59h-2.36zM401.27 76.55h1.18v4.59h-1.18zM403.63 76.55h1.18v4.59h-1.18zM417.8 76.55h5.96v4.59h-5.96zM424.95 76.55h1.19v4.59h-1.19zM429.72 76.55h2.38v4.59h-2.38zM439.26 76.55h1.19v4.59h-1.19zM446.42 76.55h1.19v4.59h-1.19zM450 76.55h1.19v4.59h-1.19zM459.53 76.55h1.19v4.59h-1.19zM467.88 76.55h1.19v4.59h-1.19zM473.84 76.55h2.38v4.59h-2.38zM483.38 76.55h1.19v4.59h-1.19zM496.5 76.55h1.18v4.59h-1.18zM500.03 76.55h1.18v4.59h-1.18zM510.61 76.55h1.18v4.59h-1.18zM523.54 76.55h1.18v4.59h-1.18zM530.59 76.55h1.18v4.59h-1.18zM534.11 76.55h1.18v4.59h-1.18zM537.64 76.55h1.18v4.59h-1.18zM551.75 76.55h1.18v4.59h-1.18zM247.8 81.5h2.36v4.59h-2.36zM260.79 81.5h1.18v4.59h-1.18zM263.15 81.5h1.18v4.59h-1.18zM269.05 81.5h1.18v4.59h-1.18zM298.56 81.5h1.18v4.59h-1.18zM304.47 81.5h2.36v4.59h-2.36zM316.27 81.5h2.36v4.59h-2.36zM332.8 81.5h1.18v4.59h-1.18zM343.43 81.5h1.18v4.59h-1.18zM352.87 81.5h1.18v4.59h-1.18zM358.77 81.5h1.18v4.59h-1.18zM371.76 81.5h1.18v4.59h-1.18zM375.3 81.5h1.18v4.59h-1.18zM387.11 81.5h2.36v4.59h-2.36zM396.55 81.5h1.18v4.59h-1.18zM405.99 81.5h1.18v4.59h-1.18zM417.8 81.5h1.19v4.59h-1.19zM420.18 81.5h1.19v4.59h-1.19zM422.57 81.5h1.19v4.59h-1.19zM429.72 81.5h2.38v4.59h-2.38zM439.26 81.5h3.58v4.59h-3.58zM445.23 81.5h1.19v4.59h-1.19zM460.73 81.5h2.38v4.59h-2.38zM496.5 81.5h1.18v4.59h-1.18zM503.55 81.5h1.18v4.59h-1.18zM507.08 81.5h1.18v4.59h-1.18zM524.71 81.5h2.35v4.59h-2.35zM247.8 86.44h1.18v4.59h-1.18zM271.41 86.44h1.18v4.59h-1.18zM290.3 86.44h1.18v4.59h-1.18zM298.56 86.44h2.36v4.59h-2.36zM328.08 86.44h1.18v4.59h-1.18zM345.79 86.44h1.18v4.59h-1.18zM380.02 86.44h1.18v4.59h-1.18zM385.93 86.44h1.18v4.59h-1.18zM388.29 86.44h1.18v4.59h-1.18zM403.63 86.44h1.18v4.59h-1.18zM422.57 86.44h1.19v4.59h-1.19zM424.95 86.44h1.19v4.59h-1.19zM450 86.44h1.19v4.59h-1.19zM459.53 86.44h1.19v4.59h-1.19zM466.69 86.44h1.19v4.59h-1.19zM475.04 86.44h1.19v4.59h-1.19zM496.5 86.44h1.18v4.59h-1.18zM504.73 86.44h1.18v4.59h-1.18zM508.25 86.44h1.18v4.59h-1.18zM530.59 86.44h1.18v4.59h-1.18zM247.8 91.38h1.18v4.59h-1.18zM250.16 91.38h1.18v4.59h-1.18zM253.7 91.38h1.18v4.59h-1.18zM257.24 91.38h1.18v4.59h-1.18zM259.61 91.38h1.18v4.59h-1.18zM265.51 91.38h1.18v4.59h-1.18zM269.05 91.38h2.36v4.59h-2.36zM274.95 91.38h1.18v4.59h-1.18zM282.04 91.38h1.18v4.59h-1.18zM304.47 91.38h2.36v4.59h-2.36zM308.01 91.38h1.18v4.59h-1.18zM310.37 91.38h3.54v4.59h-3.54zM317.45 91.38h2.36v4.59h-2.36zM337.52 91.38h1.18v4.59h-1.18zM343.43 91.38h1.18v4.59h-1.18zM361.13 91.38h1.18v4.59h-1.18zM371.76 91.38h1.18v4.59h-1.18zM380.02 91.38h2.36v4.59h-2.36zM383.56 91.38h2.36v4.59h-2.36zM388.29 91.38h1.18v4.59h-1.18zM409.54 91.38h1.18v4.59h-1.18zM418.99 91.38h1.19v4.59h-1.19zM421.38 91.38h1.19v4.59h-1.19zM423.76 91.38h2.38v4.59h-2.38zM453.57 91.38h1.19v4.59h-1.19zM459.53 91.38h2.38v4.59h-2.38zM466.69 91.38h1.19v4.59h-1.19zM476.23 91.38h1.19v4.59h-1.19zM479.81 91.38h1.19v4.59h-1.19zM496.5 91.38h1.18v4.59h-1.18zM498.85 91.38h1.18v4.59h-1.18zM501.2 91.38h2.35v4.59h-2.35zM505.9 91.38h1.18v4.59h-1.18zM516.48 91.38h1.18v4.59h-1.18zM525.89 91.38h1.18v4.59h-1.18zM530.59 91.38h1.18v4.59h-1.18zM550.57 91.38h1.18v4.59h-1.18zM552.92 91.38h1.18v4.59h-1.18zM251.34 96.33h1.18v4.59h-1.18zM254.88 96.33h1.18v4.59h-1.18zM260.79 96.33h1.18v4.59h-1.18zM263.15 96.33h1.18v4.59h-1.18zM265.51 96.33h1.18v4.59h-1.18zM272.59 96.33h1.18v4.59h-1.18zM299.74 96.33h1.18v4.59h-1.18zM305.65 96.33h1.18v4.59h-1.18zM311.55 96.33h1.18v4.59h-1.18zM325.72 96.33h1.18v4.59h-1.18zM339.88 96.33h2.36v4.59h-2.36zM344.61 96.33h2.36v4.59h-2.36zM365.86 96.33h1.18v4.59h-1.18zM389.47 96.33h2.36v4.59h-2.36zM417.8 96.33h4.77v4.59h-4.77zM438.07 96.33h1.19v4.59h-1.19zM441.65 96.33h1.19v4.59h-1.19zM448.8 96.33h2.38v4.59h-2.38zM459.53 96.33h1.19v4.59h-1.19zM481 96.33h1.19v4.59h-1.19zM496.5 96.33h1.18v4.59h-1.18zM518.83 96.33h1.18v4.59h-1.18zM524.71 96.33h1.18v4.59h-1.18zM534.11 96.33h1.18v4.59h-1.18zM545.87 96.33h1.18v4.59h-1.18zM254.88 101.27h1.18v4.59h-1.18zM269.05 101.27h1.18v4.59h-1.18zM289.12 101.27h1.18v4.59h-1.18zM295.02 101.27h1.18v4.59h-1.18zM298.56 101.27h2.36v4.59h-2.36zM311.55 101.27h1.18v4.59h-1.18zM316.27 101.27h1.18v4.59h-1.18zM332.8 101.27h1.18v4.59h-1.18zM346.97 101.27h1.18v4.59h-1.18zM361.13 101.27h1.18v4.59h-1.18zM375.3 101.27h1.18v4.59h-1.18zM380.02 101.27h1.18v4.59h-1.18zM384.74 101.27h1.18v4.59h-1.18zM409.54 101.27h1.18v4.59h-1.18zM411.9 101.27h1.18v4.59h-1.18zM417.8 101.27h2.38v4.59h-2.38zM422.57 101.27h1.19v4.59h-1.19zM433.3 101.27h1.19v4.59h-1.19zM441.65 101.27h1.19v4.59h-1.19zM459.53 101.27h1.19v4.59h-1.19zM469.07 101.27h1.19v4.59h-1.19zM482.19 101.27h1.19v4.59h-1.19zM485.77 101.27h1.19v4.59h-1.19zM500.03 101.27h1.18v4.59h-1.18zM512.96 101.27h1.18v4.59h-1.18zM520.01 101.27h1.18v4.59h-1.18zM247.8 106.22h2.36v4.59h-2.36zM251.34 106.22h1.18v4.59h-1.18zM253.7 106.22h1.18v4.59h-1.18zM283.22 106.22h1.18v4.59h-1.18zM289.12 106.22h1.18v4.59h-1.18zM305.65 106.22h2.36v4.59h-2.36zM309.19 106.22h2.36v4.59h-2.36zM322.18 106.22h1.18v4.59h-1.18zM362.31 106.22h1.18v4.59h-1.18zM367.04 106.22h1.18v4.59h-1.18zM380.02 106.22h1.18v4.59h-1.18zM382.38 106.22h2.36v4.59h-2.36zM391.83 106.22h1.18v4.59h-1.18zM396.55 106.22h1.18v4.59h-1.18zM398.91 106.22h1.18v4.59h-1.18zM417.8 106.22h1.19v4.59h-1.19zM420.18 106.22h1.19v4.59h-1.19zM423.76 106.22h1.19v4.59h-1.19zM426.15 106.22h1.19v4.59h-1.19zM454.77 106.22h1.19v4.59h-1.19zM475.04 106.22h2.38v4.59h-2.38zM484.58 106.22h1.19v4.59h-1.19zM492.92 106.22h1.19v4.59h-1.19zM498.85 106.22h1.18v4.59h-1.18zM509.43 106.22h1.18v4.59h-1.18zM514.13 106.22h1.18v4.59h-1.18zM516.48 106.22h1.18v4.59h-1.18zM527.06 106.22h1.18v4.59h-1.18zM534.11 106.22h1.18v4.59h-1.18zM550.57 106.22h1.18v4.59h-1.18zM247.8 111.16h1.18v4.59h-1.18zM251.34 111.16h1.18v4.59h-1.18zM257.24 111.16h1.18v4.59h-1.18zM259.61 111.16h1.18v4.59h-1.18zM261.97 111.16h1.18v4.59h-1.18zM264.33 111.16h1.18v4.59h-1.18zM267.87 111.16h1.18v4.59h-1.18zM272.59 111.16h1.18v4.59h-1.18zM298.56 111.16h1.18v4.59h-1.18zM306.83 111.16h1.18v4.59h-1.18zM316.27 111.16h1.18v4.59h-1.18zM332.8 111.16h1.18v4.59h-1.18zM346.97 111.16h1.18v4.59h-1.18zM354.05 111.16h1.18v4.59h-1.18zM377.66 111.16h1.18v4.59h-1.18zM385.93 111.16h1.18v4.59h-1.18zM401.27 111.16h1.18v4.59h-1.18zM417.8 111.16h1.19v4.59h-1.19zM427.34 111.16h1.19v4.59h-1.19zM438.07 111.16h1.19v4.59h-1.19zM442.84 111.16h1.19v4.59h-1.19zM459.53 111.16h1.19v4.59h-1.19zM473.84 111.16h1.19v4.59h-1.19zM476.23 111.16h1.19v4.59h-1.19zM482.19 111.16h1.19v4.59h-1.19zM496.5 111.16h1.18v4.59h-1.18zM503.55 111.16h1.18v4.59h-1.18zM523.54 111.16h1.18v4.59h-1.18zM531.76 111.16h1.18v4.59h-1.18zM534.11 111.16h2.35v4.59h-2.35zM555.27 111.16h1.18v4.59h-1.18zM247.8 116.1h2.36v4.59h-2.36zM253.7 116.1h1.18v4.59h-1.18zM258.43 116.1h1.18v4.59h-1.18zM263.15 116.1h1.18v4.59h-1.18zM267.87 116.1h1.18v4.59h-1.18zM270.23 116.1h1.18v4.59h-1.18zM274.95 116.1h1.18v4.59h-1.18zM299.74 116.1h1.18v4.59h-1.18zM304.47 116.1h3.54v4.59h-3.54zM316.27 116.1h1.18v4.59h-1.18zM318.63 116.1h1.18v4.59h-1.18zM320.99 116.1h1.18v4.59h-1.18zM326.9 116.1h1.18v4.59h-1.18zM337.52 116.1h1.18v4.59h-1.18zM343.43 116.1h1.18v4.59h-1.18zM348.15 116.1h1.18v4.59h-1.18zM352.87 116.1h1.18v4.59h-1.18zM382.38 116.1h1.18v4.59h-1.18zM389.47 116.1h1.18v4.59h-1.18zM398.91 116.1h1.18v4.59h-1.18zM403.63 116.1h1.18v4.59h-1.18zM405.99 116.1h1.18v4.59h-1.18zM417.8 116.1h3.58v4.59h-3.58zM422.57 116.1h2.38v4.59h-2.38zM427.34 116.1h1.19v4.59h-1.19zM439.26 116.1h1.19v4.59h-1.19zM459.53 116.1h1.19v4.59h-1.19zM477.42 116.1h1.19v4.59h-1.19zM486.96 116.1h1.19v4.59h-1.19zM516.48 116.1h1.18v4.59h-1.18zM530.59 116.1h1.18v4.59h-1.18zM544.69 116.1h1.18v4.59h-1.18zM248.98 121.05h1.18v4.59h-1.18zM252.52 121.05h1.18v4.59h-1.18zM254.88 121.05h2.36v4.59h-2.36zM263.15 121.05h1.18v4.59h-1.18zM265.51 121.05h1.18v4.59h-1.18zM273.77 121.05h1.18v4.59h-1.18zM295.02 121.05h1.18v4.59h-1.18zM304.47 121.05h1.18v4.59h-1.18zM306.83 121.05h1.18v4.59h-1.18zM332.8 121.05h1.18v4.59h-1.18zM343.43 121.05h1.18v4.59h-1.18zM346.97 121.05h1.18v4.59h-1.18zM349.33 121.05h1.18v4.59h-1.18zM359.95 121.05h1.18v4.59h-1.18zM362.31 121.05h1.18v4.59h-1.18zM381.2 121.05h1.18v4.59h-1.18zM387.11 121.05h1.18v4.59h-1.18zM403.63 121.05h1.18v4.59h-1.18zM417.8 121.05h2.38v4.59h-2.38zM424.95 121.05h1.19v4.59h-1.19zM428.53 121.05h1.19v4.59h-1.19zM432.11 121.05h1.19v4.59h-1.19zM448.8 121.05h1.19v4.59h-1.19zM459.53 121.05h1.19v4.59h-1.19zM463.11 121.05h1.19v4.59h-1.19zM485.77 121.05h1.19v4.59h-1.19zM488.15 121.05h1.19v4.59h-1.19zM496.5 121.05h1.18v4.59h-1.18zM518.83 121.05h1.18v4.59h-1.18zM543.52 121.05h1.18v4.59h-1.18zM247.8 125.99h1.18v4.59h-1.18zM251.34 125.99h2.36v4.59h-2.36zM254.88 125.99h2.36v4.59h-2.36zM264.33 125.99h1.18v4.59h-1.18zM269.05 125.99h3.54v4.59h-3.54zM276.13 125.99h1.18v4.59h-1.18zM287.94 125.99h1.18v4.59h-1.18zM297.38 125.99h1.18v4.59h-1.18zM305.65 125.99h1.18v4.59h-1.18zM308.01 125.99h1.18v4.59h-1.18zM316.27 125.99h1.18v4.59h-1.18zM333.98 125.99h1.18v4.59h-1.18zM341.06 125.99h1.18v4.59h-1.18zM387.11 125.99h1.18v4.59h-1.18zM390.65 125.99h1.18v4.59h-1.18zM417.8 125.99h2.38v4.59h-2.38zM422.57 125.99h1.19v4.59h-1.19zM428.53 125.99h1.19v4.59h-1.19zM438.07 125.99h1.19v4.59h-1.19zM446.42 125.99h1.19v4.59h-1.19zM459.53 125.99h1.19v4.59h-1.19zM464.3 125.99h1.19v4.59h-1.19zM470.27 125.99h1.19v4.59h-1.19zM534.11 125.99h1.18v4.59h-1.18zM538.82 125.99h1.18v4.59h-1.18zM545.87 125.99h1.18v4.59h-1.18zM551.75 125.99h1.18v4.59h-1.18zM250.16 130.94h1.18v4.59h-1.18zM264.33 130.94h1.18v4.59h-1.18zM284.4 130.94h1.18v4.59h-1.18zM296.2 130.94h1.18v4.59h-1.18zM304.47 130.94h1.18v4.59h-1.18zM306.83 130.94h1.18v4.59h-1.18zM312.73 130.94h1.18v4.59h-1.18zM318.63 130.94h1.18v4.59h-1.18zM333.98 130.94h1.18v4.59h-1.18zM343.43 130.94h1.18v4.59h-1.18zM372.94 130.94h1.18v4.59h-1.18zM381.2 130.94h1.18v4.59h-1.18zM388.29 130.94h1.18v4.59h-1.18zM398.91 130.94h1.18v4.59h-1.18zM405.99 130.94h1.18v4.59h-1.18zM421.38 130.94h1.19v4.59h-1.19zM434.49 130.94h1.19v4.59h-1.19zM439.26 130.94h1.19v4.59h-1.19zM446.42 130.94h1.19v4.59h-1.19zM448.8 130.94h1.19v4.59h-1.19zM459.53 130.94h2.38v4.59h-2.38zM476.23 130.94h3.58v4.59h-3.58zM497.68 130.94h1.18v4.59h-1.18zM505.9 130.94h1.18v4.59h-1.18zM525.89 130.94h1.18v4.59h-1.18zM247.8 135.88h3.54v4.59h-3.54zM253.7 135.88h2.36v4.59h-2.36zM259.61 135.88h1.18v4.59h-1.18zM270.23 135.88h1.18v4.59h-1.18zM299.74 135.88h1.18v4.59h-1.18zM304.47 135.88h1.18v4.59h-1.18zM309.19 135.88h1.18v4.59h-1.18zM312.73 135.88h1.18v4.59h-1.18zM316.27 135.88h1.18v4.59h-1.18zM322.18 135.88h1.18v4.59h-1.18zM333.98 135.88h1.18v4.59h-1.18zM341.06 135.88h1.18v4.59h-1.18zM359.95 135.88h1.18v4.59h-1.18zM368.22 135.88h2.36v4.59h-2.36zM387.11 135.88h1.18v4.59h-1.18zM402.45 135.88h2.36v4.59h-2.36zM421.38 135.88h1.19v4.59h-1.19zM459.53 135.88h1.19v4.59h-1.19zM476.23 135.88h1.19v4.59h-1.19zM484.58 135.88h1.19v4.59h-1.19zM490.54 135.88h1.19v4.59h-1.19zM518.83 135.88h2.35v4.59h-2.35zM539.99 135.88h1.18v4.59h-1.18zM247.8 140.82h5.9v4.59h-5.9zM254.88 140.82h1.18v4.59h-1.18zM261.97 140.82h2.36v4.59h-2.36zM283.22 140.82h1.18v4.59h-1.18zM289.12 140.82h1.18v4.59h-1.18zM299.74 140.82h1.18v4.59h-1.18zM309.19 140.82h1.18v4.59h-1.18zM323.36 140.82h1.18v4.59h-1.18zM331.62 140.82h2.36v4.59h-2.36zM335.16 140.82h1.18v4.59h-1.18zM382.38 140.82h1.18v4.59h-1.18zM385.93 140.82h1.18v4.59h-1.18zM396.55 140.82h1.18v4.59h-1.18zM417.8 140.82h1.19v4.59h-1.19zM421.38 140.82h1.19v4.59h-1.19zM446.42 140.82h1.19v4.59h-1.19zM459.53 140.82h1.19v4.59h-1.19zM476.23 140.82h2.38v4.59h-2.38zM496.5 140.82h1.18v4.59h-1.18zM516.48 140.82h1.18v4.59h-1.18zM523.54 140.82h1.18v4.59h-1.18zM247.8 145.77h1.18v4.59h-1.18zM253.7 145.77h3.54v4.59h-3.54zM258.43 145.77h1.18v4.59h-1.18zM264.33 145.77h1.18v4.59h-1.18zM279.68 145.77h1.18v4.59h-1.18zM296.2 145.77h1.18v4.59h-1.18zM304.47 145.77h1.18v4.59h-1.18zM306.83 145.77h1.18v4.59h-1.18zM309.19 145.77h1.18v4.59h-1.18zM311.55 145.77h1.18v4.59h-1.18zM320.99 145.77h1.18v4.59h-1.18zM329.26 145.77h1.18v4.59h-1.18zM341.06 145.77h1.18v4.59h-1.18zM349.33 145.77h1.18v4.59h-1.18zM380.02 145.77h1.18v4.59h-1.18zM387.11 145.77h1.18v4.59h-1.18zM389.47 145.77h1.18v4.59h-1.18zM417.8 145.77h1.19v4.59h-1.19zM420.18 145.77h1.19v4.59h-1.19zM427.34 145.77h1.19v4.59h-1.19zM441.65 145.77h2.38v4.59h-2.38zM460.73 145.77h1.19v4.59h-1.19zM466.69 145.77h1.19v4.59h-1.19zM517.66 145.77h1.18v4.59h-1.18zM520.01 145.77h1.18v4.59h-1.18zM528.24 145.77h1.18v4.59h-1.18zM531.76 145.77h1.18v4.59h-1.18zM247.8 150.71h1.18v4.59h-1.18zM258.43 150.71h1.18v4.59h-1.18zM260.79 150.71h1.18v4.59h-1.18zM270.23 150.71h1.18v4.59h-1.18zM272.59 150.71h1.18v4.59h-1.18zM277.31 150.71h1.18v4.59h-1.18zM283.22 150.71h1.18v4.59h-1.18zM289.12 150.71h1.18v4.59h-1.18zM305.65 150.71h2.36v4.59h-2.36zM313.91 150.71h1.18v4.59h-1.18zM337.52 150.71h1.18v4.59h-1.18zM358.77 150.71h1.18v4.59h-1.18zM372.94 150.71h1.18v4.59h-1.18zM395.37 150.71h1.18v4.59h-1.18zM410.72 150.71h1.18v4.59h-1.18zM420.18 150.71h1.19v4.59h-1.19zM423.76 150.71h1.19v4.59h-1.19zM435.69 150.71h1.19v4.59h-1.19zM473.84 150.71h1.19v4.59h-1.19zM496.5 150.71h1.18v4.59h-1.18zM523.54 150.71h1.18v4.59h-1.18zM531.76 150.71h2.35v4.59h-2.35zM535.29 150.71h1.18v4.59h-1.18zM539.99 150.71h1.18v4.59h-1.18zM544.69 150.71h1.18v4.59h-1.18zM552.92 150.71h1.18v4.59h-1.18zM247.8 155.66h1.18v4.59h-1.18zM250.16 155.66h3.54v4.59h-3.54zM254.88 155.66h1.18v4.59h-1.18zM263.15 155.66h1.18v4.59h-1.18zM267.87 155.66h1.18v4.59h-1.18zM270.23 155.66h1.18v4.59h-1.18zM277.31 155.66h1.18v4.59h-1.18zM292.66 155.66h2.36v4.59h-2.36zM304.47 155.66h1.18v4.59h-1.18zM315.09 155.66h1.18v4.59h-1.18zM335.16 155.66h1.18v4.59h-1.18zM344.61 155.66h1.18v4.59h-1.18zM361.13 155.66h1.18v4.59h-1.18zM363.49 155.66h1.18v4.59h-1.18zM380.02 155.66h1.18v4.59h-1.18zM382.38 155.66h1.18v4.59h-1.18zM388.29 155.66h2.36v4.59h-2.36zM401.27 155.66h1.18v4.59h-1.18zM418.99 155.66h1.19v4.59h-1.19zM421.38 155.66h2.38v4.59h-2.38zM451.19 155.66h1.19v4.59h-1.19zM459.53 155.66h1.19v4.59h-1.19zM469.07 155.66h2.38v4.59h-2.38zM497.68 155.66h1.18v4.59h-1.18zM503.55 155.66h1.18v4.59h-1.18zM521.18 155.66h1.18v4.59h-1.18zM529.41 155.66h1.18v4.59h-1.18zM534.11 155.66h1.18v4.59h-1.18z"/>
<path fill="#3a5f96" d="M276.13 37h1.18v4.59h-1.18zM287.94 37h1.18v4.59h-1.18zM421.38 37h1.19v4.59h-1.19zM423.76 37h2.38v4.59h-2.38zM512.96 37h1.18v4.59h-1.18z"/>
<path fill="#f7e21f" d="M284.4 37h1.18v4.59h-1.18zM289.12 37h1.18v4.59h-1.18zM336.34 37h1.18v4.59h-1.18zM344.61 37h1.18v4.59h-1.18zM368.22 37h1.18v4.59h-1.18zM376.48 37h2.36v4.59h-2.36zM417.8 37h1.19v4.59h-1.19zM429.72 37h1.19v4.59h-1.19zM515.31 37h1.18v4.59h-1.18zM436.88 41.94h1.19v4.59h-1.19zM469.07 41.94h1.19v4.59h-1.19zM293.84 46.89h1.18v4.59h-1.18zM336.34 46.89h1.18v4.59h-1.18zM357.59 46.89h1.18v4.59h-1.18zM444.03 46.89h1.19v4.59h-1.19zM317.45 51.83h1.18v4.59h-1.18zM329.26 51.83h1.18v4.59h-1.18zM258.43 56.78h1.18v4.59h-1.18zM344.61 61.72h1.18v4.59h-1.18zM478.61 61.72h1.19v4.59h-1.19zM502.38 61.72h1.18v4.59h-1.18zM260.79 66.66h1.18v4.59h-1.18zM267.87 66.66h1.18v4.59h-1.18zM272.59 66.66h1.18v4.59h-1.18zM299.74 66.66h1.18v4.59h-1.18zM310.37 66.66h1.18v4.59h-1.18zM318.63 66.66h1.18v4.59h-1.18zM352.87 66.66h1.18v4.59h-1.18zM408.36 66.66h1.18v4.59h-1.18zM422.57 71.61h1.19v4.59h-1.19zM475.04 71.61h1.19v4.59h-1.19zM528.24 71.61h1.18v4.59h-1.18zM543.52 71.61h1.18v4.59h-1.18zM376.48 81.5h1.18v4.59h-1.18zM258.43 86.44h1.18v4.59h-1.18zM265.51 86.44h2.36v4.59h-2.36zM304.47 86.44h1.18v4.59h-1.18zM304.47 96.33h1.18v4.59h-1.18zM403.63 96.33h1.18v4.59h-1.18zM446.42 101.27h1.19v4.59h-1.19zM475.04 101.27h1.19v4.59h-1.19zM459.53 106.22h1.19v4.59h-1.19zM518.83 106.22h1.18v4.59h-1.18zM332.8 130.94h1.18v4.59h-1.18zM417.8 130.94h1.19v4.59h-1.19zM306.83 140.82h1.18v4.59h-1.18zM316.27 140.82h1.18v4.59h-1.18zM333.98 140.82h1.18v4.59h-1.18zM428.53 140.82h1.19v4.59h-1.19zM445.23 145.77h2.38v4.59h-2.38zM475.04 145.77h1.19v4.59h-1.19zM516.48 145.77h1.18v4.59h-1.18z"/>
<path fill="#3fba6f" d="M247.8 41.94h2.36v4.59h-2.36zM251.34 41.94h2.36v4.59h-2.36zM257.24 41.94h2.36v4.59h-2.36zM261.97 41.94h1.18v4.59h-1.18zM266.69 41.94h2.36v4.59h-2.36zM272.59 41.94h5.9v4.59h-5.9zM280.86 41.94h1.18v4.59h-1.18zM286.76 41.94h2.36v4.59h-2.36zM308.01 41.94h1.18v4.59h-1.18zM310.37 41.94h1.18v4.59h-1.18zM313.91 41.94h2.36v4.59h-2.36zM317.45 41.94h1.18v4.59h-1.18zM322.18 41.94h2.36v4.59h-2.36zM333.98 41.94h7.08v4.59h-7.08zM344.61 41.94h3.54v4.59h-3.54zM349.33 41.94h5.9v4.59h-5.9zM356.41 41.94h1.18v4.59h-1.18zM385.93 41.94h1.18v4.59h-1.18zM388.29 41.94h2.36v4.59h-2.36zM391.83 41.94h2.36v4.59h-2.36zM395.37 41.94h3.54v4.59h-3.54zM417.8 41.94h1.19v4.59h-1.19zM420.18 41.94h1.19v4.59h-1.19zM424.95 41.94h2.38v4.59h-2.38zM428.53 41.94h1.19v4.59h-1.19zM430.92 41.94h3.58v4.59h-3.58zM435.69 41.94h1.19v4.59h-1.19zM460.73 41.94h1.19v4.59h-1.19zM463.11 41.94h1.19v4.59h-1.19zM465.5 41.94h1.19v4.59h-1.19zM472.65 41.94h1.19v4.59h-1.19zM498.85 41.94h2.35v4.59h-2.35zM516.48 41.94h1.18v4.59h-1.18zM521.18 41.94h4.7v4.59h-4.7zM528.24 41.94h1.18v4.59h-1.18zM247.8 46.89h2.36v4.59h-2.36zM251.34 46.89h1.18v4.59h-1.18zM256.06 46.89h1.18v4.59h-1.18zM258.43 46.89h4.72v4.59h-4.72zM264.33 46.89h4.72v4.59h-4.72zM270.23 46.89h1.18v4.59h-1.18zM273.77 46.89h2.36v4.59h-2.36zM289.12 46.89h3.54v4.59h-3.54zM295.02 46.89h1.18v4.59h-1.18zM297.38 46.89h1.18v4.59h-1.18zM305.65 46.89h2.36v4.59h-2.36zM310.37 46.89h1.18v4.59h-1.18zM312.73 46.89h2.36v4.59h-2.36zM324.54 46.89h2.36v4.59h-2.36zM333.98 46.89h1.18v4.59h-1.18zM338.7 46.89h1.18v4.59h-1.18zM341.06 46.89h1.18v4.59h-1.18zM343.43 46.89h3.54v4.59h-3.54zM358.77 46.89h1.18v4.59h-1.18zM361.13 46.89h1.18v4.59h-1.18zM363.49 46.89h1.18v4.59h-1.18zM380.02 46.89h1.18v4.59h-1.18zM382.38 46.89h1.18v4.59h-1.18zM384.74 46.89h2.36v4.59h-2.36zM389.47 46.89h1.18v4.59h-1.18zM398.91 46.89h1.18v4.59h-1.18zM401.27 46.89h1.18v4.59h-1.18zM403.63 46.89h1.18v4.59h-1.18zM417.8 46.89h2.38v4.59h-2.38zM422.57 46.89h2.38v4.59h-2.38zM427.34 46.89h1.19v4.59h-1.19zM438.07 46.89h1.19v4.59h-1.19zM440.46 46.89h3.58v4.59h-3.58zM459.53 46.89h1.19v4.59h-1.19zM461.92 46.89h1.19v4.59h-1.19zM478.61 46.89h1.19v4.59h-1.19zM496.5 46.89h1.18v4.59h-1.18zM501.2 46.89h1.18v4.59h-1.18zM505.9 46.89h1.18v4.59h-1.18zM516.48 46.89h2.35v4.59h-2.35zM530.59 46.89h2.35v4.59h-2.35zM254.88 51.83h2.36v4.59h-2.36zM259.61 51.83h1.18v4.59h-1.18zM278.49 51.83h3.54v4.59h-3.54zM291.48 51.83h2.36v4.59h-2.36zM304.47 51.83h4.72v4.59h-4.72zM318.63 51.83h1.18v4.59h-1.18zM328.08 51.83h1.18v4.59h-1.18zM332.8 51.83h1.18v4.59h-1.18zM336.34 51.83h1.18v4.59h-1.18zM348.15 51.83h2.36v4.59h-2.36zM351.69 51.83h1.18v4.59h-1.18zM357.59 51.83h1.18v4.59h-1.18zM382.38 51.83h1.18v4.59h-1.18zM395.37 51.83h2.36v4.59h-2.36zM401.27 51.83h1.18v4.59h-1.18zM418.99 51.83h1.19v4.59h-1.19zM422.57 51.83h5.96v4.59h-5.96zM430.92 51.83h1.19v4.59h-1.19zM438.07 51.83h1.19v4.59h-1.19zM459.53 51.83h4.77v4.59h-4.77zM473.84 51.83h1.19v4.59h-1.19zM496.5 51.83h1.18v4.59h-1.18zM518.83 51.83h1.18v4.59h-1.18zM521.18 51.83h1.18v4.59h-1.18zM536.46 51.83h1.18v4.59h-1.18zM538.82 51.83h1.18v4.59h-1.18zM256.06 56.78h1.18v4.59h-1.18zM259.61 56.78h1.18v4.59h-1.18zM264.33 56.78h2.36v4.59h-2.36zM269.05 56.78h2.36v4.59h-2.36zM277.31 56.78h1.18v4.59h-1.18zM289.12 56.78h1.18v4.59h-1.18zM299.74 56.78h1.18v4.59h-1.18zM304.47 56.78h1.18v4.59h-1.18zM317.45 56.78h1.18v4.59h-1.18zM335.16 56.78h1.18v4.59h-1.18zM343.43 56.78h1.18v4.59h-1.18zM368.22 56.78h1.18v4.59h-1.18zM383.56 56.78h2.36v4.59h-2.36zM387.11 56.78h1.18v4.59h-1.18zM389.47 56.78h1.18v4.59h-1.18zM398.91 56.78h1.18v4.59h-1.18zM423.76 56.78h1.19v4.59h-1.19zM429.72 56.78h1.19v4.59h-1.19zM438.07 56.78h1.19v4.59h-1.19zM446.42 56.78h1.19v4.59h-1.19zM465.5 56.78h1.19v4.59h-1.19zM476.23 56.78h1.19v4.59h-1.19zM485.77 56.78h1.19v4.59h-1.19zM507.08 56.78h1.18v4.59h-1.18zM522.36 56.78h1.18v4.59h-1.18zM534.11 56.78h2.35v4.59h-2.35zM543.52 56.78h1.18v4.59h-1.18zM247.8 61.72h3.54v4.59h-3.54zM252.52 61.72h1.18v4.59h-1.18zM257.24 61.72h1.18v4.59h-1.18zM271.41 61.72h1.18v4.59h-1.18zM283.22 61.72h1.18v4.59h-1.18zM293.84 61.72h1.18v4.59h-1.18zM305.65 61.72h2.36v4.59h-2.36zM309.19 61.72h1.18v4.59h-1.18zM316.27 61.72h2.36v4.59h-2.36zM319.81 61.72h1.18v4.59h-1.18zM332.8 61.72h1.18v4.59h-1.18zM369.4 61.72h1.18v4.59h-1.18zM380.02 61.72h1.18v4.59h-1.18zM383.56 61.72h1.18v4.59h-1.18zM387.11 61.72h1.18v4.59h-1.18zM393.01 61.72h1.18v4.59h-1.18zM398.91 61.72h1.18v4.59h-1.18zM401.27 61.72h1.18v4.59h-1.18zM418.99 61.72h1.19v4.59h-1.19zM421.38 61.72h1.19v4.59h-1.19zM426.15 61.72h1.19v4.59h-1.19zM438.07 61.72h1.19v4.59h-1.19zM459.53 61.72h1.19v4.59h-1.19zM463.11 61.72h1.19v4.59h-1.19zM466.69 61.72h1.19v4.59h-1.19zM488.15 61.72h1.19v4.59h-1.19zM497.68 61.72h1.18v4.59h-1.18zM507.08 61.72h2.35v4.59h-2.35zM536.46 61.72h1.18v4.59h-1.18zM248.98 66.66h2.36v4.59h-2.36zM254.88 66.66h1.18v4.59h-1.18zM258.43 66.66h1.18v4.59h-1.18zM264.33 66.66h3.54v4.59h-3.54zM285.58 66.66h1.18v4.59h-1.18zM293.84 66.66h1.18v4.59h-1.18zM309.19 66.66h1.18v4.59h-1.18zM312.73 66.66h1.18v4.59h-1.18zM315.09 66.66h2.36v4.59h-2.36zM322.18 66.66h1.18v4.59h-1.18zM328.08 66.66h1.18v4.59h-1.18zM335.16 66.66h1.18v4.59h-1.18zM339.88 66.66h2.36v4.59h-2.36zM344.61 66.66h1.18v4.59h-1.18zM349.33 66.66h2.36v4.59h-2.36zM357.59 66.66h1.18v4.59h-1.18zM362.31 66.66h1.18v4.59h-1.18zM381.2 66.66h2.36v4.59h-2.36zM395.37 66.66h2.36v4.59h-2.36zM417.8 66.66h3.58v4.59h-3.58zM422.57 66.66h1.19v4.59h-1.19zM429.72 66.66h1.19v4.59h-1.19zM465.5 66.66h1.19v4.59h-1.19zM475.04 66.66h1.19v4.59h-1.19zM489.35 66.66h1.19v4.59h-1.19zM497.68 66.66h1.18v4.59h-1.18zM523.54 66.66h1.18v4.59h-1.18zM549.39 66.66h1.18v4.59h-1.18zM248.98 71.61h4.72v4.59h-4.72zM260.79 71.61h1.18v4.59h-1.18zM263.15 71.61h1.18v4.59h-1.18zM269.05 71.61h1.18v4.59h-1.18zM282.04 71.61h5.9v4.59h-5.9zM304.47 71.61h1.18v4.59h-1.18zM306.83 71.61h1.18v4.59h-1.18zM310.37 71.61h1.18v4.59h-1.18zM316.27 71.61h1.18v4.59h-1.18zM339.88 71.61h1.18v4.59h-1.18zM358.77 71.61h1.18v4.59h-1.18zM367.04 71.61h1.18v4.59h-1.18zM372.94 71.61h2.36v4.59h-2.36zM381.2 71.61h3.54v4.59h-3.54zM387.11 71.61h3.54v4.59h-3.54zM417.8 71.61h1.19v4.59h-1.19zM421.38 71.61h1.19v4.59h-1.19zM423.76 71.61h1.19v4.59h-1.19zM459.53 71.61h1.19v4.59h-1.19zM476.23 71.61h1.19v4.59h-1.19zM483.38 71.61h1.19v4.59h-1.19zM496.5 71.61h1.18v4.59h-1.18zM500.03 71.61h1.18v4.59h-1.18zM516.48 71.61h1.18v4.59h-1.18zM527.06 71.61h1.18v4.59h-1.18zM550.57 71.61h1.18v4.59h-1.18zM257.24 81.5h1.18v4.59h-1.18zM265.51 81.5h1.18v4.59h-1.18zM273.77 81.5h1.18v4.59h-1.18zM283.22 81.5h1.18v4.59h-1.18zM306.83 81.5h4.72v4.59h-4.72zM315.09 81.5h1.18v4.59h-1.18zM324.54 81.5h1.18v4.59h-1.18zM339.88 81.5h1.18v4.59h-1.18zM348.15 81.5h1.18v4.59h-1.18zM380.02 81.5h1.18v4.59h-1.18zM384.74 81.5h1.18v4.59h-1.18zM390.65 81.5h1.18v4.59h-1.18zM409.54 81.5h1.18v4.59h-1.18zM418.99 81.5h1.19v4.59h-1.19zM451.19 81.5h1.19v4.59h-1.19zM459.53 81.5h1.19v4.59h-1.19zM475.04 81.5h1.19v4.59h-1.19zM488.15 81.5h1.19v4.59h-1.19zM516.48 81.5h1.18v4.59h-1.18zM518.83 81.5h1.18v4.59h-1.18zM259.61 86.44h1.18v4.59h-1.18zM289.12 86.44h1.18v4.59h-1.18zM293.84 86.44h1.18v4.59h-1.18zM306.83 86.44h1.18v4.59h-1.18zM315.09 86.44h2.36v4.59h-2.36zM339.88 86.44h1.18v4.59h-1.18zM411.9 86.44h1.18v4.59h-1.18zM417.8 86.44h2.38v4.59h-2.38zM445.23 86.44h1.19v4.59h-1.19zM485.77 86.44h1.19v4.59h-1.19zM488.15 86.44h1.19v4.59h-1.19zM511.78 86.44h1.18v4.59h-1.18zM256.06 91.38h1.18v4.59h-1.18zM258.43 91.38h1.18v4.59h-1.18zM260.79 91.38h1.18v4.59h-1.18zM263.15 91.38h1.18v4.59h-1.18zM309.19 91.38h1.18v4.59h-1.18zM316.27 91.38h1.18v4.59h-1.18zM333.98 91.38h1.18v4.59h-1.18zM363.49 91.38h2.36v4.59h-2.36zM385.93 91.38h1.18v4.59h-1.18zM389.47 91.38h1.18v4.59h-1.18zM417.8 91.38h1.19v4.59h-1.19zM452.38 91.38h1.19v4.59h-1.19zM482.19 91.38h1.19v4.59h-1.19zM485.77 91.38h1.19v4.59h-1.19zM247.8 96.33h2.36v4.59h-2.36zM297.38 96.33h1.18v4.59h-1.18zM306.83 96.33h1.18v4.59h-1.18zM322.18 96.33h2.36v4.59h-2.36zM328.08 96.33h1.18v4.59h-1.18zM380.02 96.33h1.18v4.59h-1.18zM396.55 96.33h1.18v4.59h-1.18zM447.61 96.33h1.19v4.59h-1.19zM523.54 96.33h1.18v4.59h-1.18zM251.34 101.27h1.18v4.59h-1.18zM256.06 101.27h1.18v4.59h-1.18zM263.15 101.27h1.18v4.59h-1.18zM265.51 101.27h1.18v4.59h-1.18zM279.68 101.27h1.18v4.59h-1.18zM305.65 101.27h1.18v4.59h-1.18zM328.08 101.27h1.18v4.59h-1.18zM333.98 101.27h1.18v4.59h-1.18zM336.34 101.27h1.18v4.59h-1.18zM382.38 101.27h1.18v4.59h-1.18zM401.27 101.27h1.18v4.59h-1.18zM491.73 101.27h1.19v4.59h-1.19zM496.5 101.27h1.18v4.59h-1.18zM258.43 106.22h1.18v4.59h-1.18zM316.27 106.22h1.18v4.59h-1.18zM352.87 106.22h1.18v4.59h-1.18zM411.9 106.22h1.18v4.59h-1.18zM496.5 106.22h1.18v4.59h-1.18zM265.51 111.16h1.18v4.59h-1.18zM280.86 111.16h1.18v4.59h-1.18zM304.47 111.16h1.18v4.59h-1.18zM326.9 111.16h1.18v4.59h-1.18zM380.02 111.16h1.18v4.59h-1.18zM461.92 111.16h1.19v4.59h-1.19zM548.22 111.16h1.18v4.59h-1.18zM551.75 111.16h1.18v4.59h-1.18zM257.24 116.1h1.18v4.59h-1.18zM265.51 116.1h1.18v4.59h-1.18zM273.77 116.1h1.18v4.59h-1.18zM312.73 116.1h1.18v4.59h-1.18zM333.98 116.1h1.18v4.59h-1.18zM338.7 116.1h1.18v4.59h-1.18zM393.01 116.1h1.18v4.59h-1.18zM475.04 116.1h1.19v4.59h-1.19zM483.38 116.1h1.19v4.59h-1.19zM496.5 116.1h1.18v4.59h-1.18zM518.83 116.1h1.18v4.59h-1.18zM525.89 116.1h1.18v4.59h-1.18zM260.79 121.05h1.18v4.59h-1.18zM287.94 121.05h1.18v4.59h-1.18zM333.98 121.05h1.18v4.59h-1.18zM351.69 121.05h1.18v4.59h-1.18zM411.9 121.05h1.18v4.59h-1.18zM446.42 121.05h1.19v4.59h-1.19zM248.98 125.99h1.18v4.59h-1.18zM260.79 125.99h1.18v4.59h-1.18zM263.15 125.99h1.18v4.59h-1.18zM282.04 125.99h1.18v4.59h-1.18zM292.66 125.99h1.18v4.59h-1.18zM306.83 125.99h1.18v4.59h-1.18zM310.37 125.99h1.18v4.59h-1.18zM317.45 125.99h1.18v4.59h-1.18zM322.18 125.99h1.18v4.59h-1.18zM332.8 125.99h1.18v4.59h-1.18zM380.02 125.99h1.18v4.59h-1.18zM405.99 125.99h1.18v4.59h-1.18zM421.38 125.99h1.19v4.59h-1.19zM479.81 125.99h2.38v4.59h-2.38zM496.5 125.99h1.18v4.59h-1.18zM508.25 125.99h1.18v4.59h-1.18zM524.71 125.99h1.18v4.59h-1.18zM290.3 130.94h1.18v4.59h-1.18zM310.37 130.94h2.36v4.59h-2.36zM319.81 130.94h1.18v4.59h-1.18zM342.24 130.94h1.18v4.59h-1.18zM380.02 130.94h1.18v4.59h-1.18zM418.99 130.94h1.19v4.59h-1.19zM424.95 130.94h1.19v4.59h-1.19zM509.43 130.94h1.18v4.59h-1.18zM530.59 130.94h1.18v4.59h-1.18zM258.43 135.88h1.18v4.59h-1.18zM279.68 135.88h1.18v4.59h-1.18zM283.22 135.88h1.18v4.59h-1.18zM295.02 135.88h1.18v4.59h-1.18zM310.37 135.88h1.18v4.59h-1.18zM335.16 135.88h1.18v4.59h-1.18zM339.88 135.88h1.18v4.59h-1.18zM367.04 135.88h1.18v4.59h-1.18zM380.02 135.88h1.18v4.59h-1.18zM388.29 135.88h1.18v4.59h-1.18zM396.55 135.88h1.18v4.59h-1.18zM417.8 135.88h1.19v4.59h-1.19zM420.18 135.88h1.19v4.59h-1.19zM433.3 135.88h1.19v4.59h-1.19zM445.23 135.88h1.19v4.59h-1.19zM481 135.88h1.19v4.59h-1.19zM258.43 140.82h1.18v4.59h-1.18zM304.47 140.82h1.18v4.59h-1.18zM343.43 140.82h2.36v4.59h-2.36zM349.33 140.82h1.18v4.59h-1.18zM361.13 140.82h1.18v4.59h-1.18zM413.08 140.82h1.18v4.59h-1.18zM420.18 140.82h1.19v4.59h-1.19zM438.07 140.82h1.19v4.59h-1.19zM475.04 140.82h1.19v4.59h-1.19zM507.08 140.82h1.18v4.59h-1.18zM257.24 145.77h1.18v4.59h-1.18zM272.59 145.77h1.18v4.59h-1.18zM286.76 145.77h1.18v4.59h-1.18zM299.74 145.77h1.18v4.59h-1.18zM344.61 145.77h1.18v4.59h-1.18zM355.23 145.77h1.18v4.59h-1.18zM362.31 145.77h1.18v4.59h-1.18zM411.9 145.77h1.18v4.59h-1.18zM418.99 145.77h1.19v4.59h-1.19zM496.5 145.77h1.18v4.59h-1.18zM500.03 145.77h1.18v4.59h-1.18zM527.06 145.77h1.18v4.59h-1.18zM253.7 150.71h1.18v4.59h-1.18zM316.27 150.71h1.18v4.59h-1.18zM370.58 150.71h1.18v4.59h-1.18zM380.02 150.71h1.18v4.59h-1.18zM390.65 150.71h1.18v4.59h-1.18zM401.27 150.71h1.18v4.59h-1.18zM417.8 150.71h2.38v4.59h-2.38zM424.95 150.71h1.19v4.59h-1.19zM434.49 150.71h1.19v4.59h-1.19zM445.23 150.71h1.19v4.59h-1.19zM459.53 150.71h1.19v4.59h-1.19zM494.12 150.71h1.19v4.59h-1.19zM500.03 150.71h1.18v4.59h-1.18zM518.83 150.71h1.18v4.59h-1.18zM257.24 155.66h2.36v4.59h-2.36zM272.59 155.66h1.18v4.59h-1.18zM280.86 155.66h1.18v4.59h-1.18zM305.65 155.66h1.18v4.59h-1.18zM310.37 155.66h1.18v4.59h-1.18zM331.62 155.66h2.36v4.59h-2.36zM338.7 155.66h1.18v4.59h-1.18zM395.37 155.66h1.18v4.59h-1.18zM417.8 155.66h1.19v4.59h-1.19zM420.18 155.66h1.19v4.59h-1.19zM424.95 155.66h2.38v4.59h-2.38zM428.53 155.66h1.19v4.59h-1.19zM430.92 155.66h1.19v4.59h-1.19zM476.23 155.66h2.38v4.59h-2.38zM486.96 155.66h1.19v4.59h-1.19zM516.48 155.66h1.18v4.59h-1.18zM535.29 155.66h1.18v4.59h-1.18zM539.99 155.66h1.18v4.59h-1.18z"/>
<path fill="#fff" d="M247.8 41.59h315.7v0.35h-315.7zM247.8 46.54h315.7v0.35h-315.7zM247.8 51.48h315.7v0.35h-315.7zM247.8 56.43h315.7v0.35h-315.7zM247.8 61.37h315.7v0.35h-315.7zM247.8 66.31h315.7v0.35h-315.7zM247.8 71.26h315.7v0.35h-315.7zM247.8 76.2h315.7v0.35h-315.7zM247.8 81.15h315.7v0.35h-315.7zM247.8 86.09h315.7v0.35h-315.7zM247.8 91.03h315.7v0.35h-315.7zM247.8 95.98h315.7v0.35h-315.7zM247.8 100.92h315.7v0.35h-315.7zM247.8 105.87h315.7v0.35h-315.7zM247.8 110.81h315.7v0.35h-315.7zM247.8 115.75h315.7v0.35h-315.7zM247.8 120.7h315.7v0.35h-315.7zM247.8 125.64h315.7v0.35h-315.7zM247.8 130.59h315.7v0.35h-315.7zM247.8 135.53h315.7v0.35h-315.7zM247.8 140.47h315.7v0.35h-315.7zM247.8 145.42h315.7v0.35h-315.7zM247.8 150.36h315.7v0.35h-315.7zM247.8 155.31h315.7v0.35h-315.7z" opacity="0.35"/>
<text transform="translate(246.6 41.2) scale(0.85 1)" font-size="6.3" text-anchor="end" font-style="italic" fill="#111">TP53</text>
<text x="563.8" y="40.9" font-size="5.6" fill="#333">47%</text>
<text transform="translate(246.6 46.14) scale(0.85 1)" font-size="6.3" text-anchor="end" font-style="italic" fill="#111">TTN</text>
<text x="563.8" y="45.84" font-size="5.6" fill="#333">43%</text>
<text transform="translate(246.6 51.09) scale(0.85 1)" font-size="6.3" text-anchor="end" font-style="italic" fill="#111">MUC16</text>
<text x="563.8" y="50.79" font-size="5.6" fill="#333">41%</text>
<text transform="translate(246.6 56.03) scale(0.85 1)" font-size="6.3" text-anchor="end" font-style="italic" fill="#111">CSMD3</text>
<text x="563.8" y="55.73" font-size="5.6" fill="#333">38%</text>
<text transform="translate(246.6 60.98) scale(0.85 1)" font-size="6.3" text-anchor="end" font-style="italic" fill="#111">RYR2</text>
<text x="563.8" y="60.68" font-size="5.6" fill="#333">35%</text>
<text transform="translate(246.6 65.92) scale(0.85 1)" font-size="6.3" text-anchor="end" font-style="italic" fill="#111">LRP1B</text>
<text x="563.8" y="65.62" font-size="5.6" fill="#333">33%</text>
<text transform="translate(246.6 70.86) scale(0.85 1)" font-size="6.3" text-anchor="end" font-style="italic" fill="#111">ZFHX4</text>
<text x="563.8" y="70.56" font-size="5.6" fill="#333">32%</text>
<text transform="translate(246.6 75.81) scale(0.85 1)" font-size="6.3" text-anchor="end" font-style="italic" fill="#111">USH2A</text>
<text x="563.8" y="75.51" font-size="5.6" fill="#333">31%</text>
<text transform="translate(246.6 80.75) scale(0.85 1)" font-size="6.3" text-anchor="end" font-style="italic" fill="#111">KRAS</text>
<text x="563.8" y="80.45" font-size="5.6" fill="#333">26%</text>
<text transform="translate(246.6 85.7) scale(0.85 1)" font-size="6.3" text-anchor="end" font-style="italic" fill="#111">FLG</text>
<text x="563.8" y="85.4" font-size="5.6" fill="#333">26%</text>
<text transform="translate(246.6 90.64) scale(0.85 1)" font-size="6.3" text-anchor="end" font-style="italic" fill="#111">SPTA1</text>
<text x="563.8" y="90.34" font-size="5.6" fill="#333">24%</text>
<text transform="translate(246.6 95.58) scale(0.85 1)" font-size="6.3" text-anchor="end" font-style="italic" fill="#111">XIRP2</text>
<text x="563.8" y="95.28" font-size="5.6" fill="#333">23%</text>
<text transform="translate(246.6 100.53) scale(0.85 1)" font-size="6.3" text-anchor="end" font-style="italic" fill="#111">ANK2</text>
<text x="563.8" y="100.23" font-size="5.6" fill="#333">21%</text>
<text transform="translate(246.6 105.47) scale(0.85 1)" font-size="6.3" text-anchor="end" font-style="italic" fill="#111">ZNF536</text>
<text x="563.8" y="105.17" font-size="5.6" fill="#333">20%</text>
<text transform="translate(246.6 110.42) scale(0.85 1)" font-size="6.3" text-anchor="end" font-style="italic" fill="#111">CSMD1</text>
<text x="563.8" y="110.12" font-size="5.6" fill="#333">19%</text>
<text transform="translate(246.6 115.36) scale(0.85 1)" font-size="6.3" text-anchor="end" font-style="italic" fill="#111">CDH10</text>
<text x="563.8" y="115.06" font-size="5.6" fill="#333">19%</text>
<text transform="translate(246.6 120.3) scale(0.85 1)" font-size="6.3" text-anchor="end" font-style="italic" fill="#111">FAT3</text>
<text x="563.8" y="120" font-size="5.6" fill="#333">19%</text>
<text transform="translate(246.6 125.25) scale(0.85 1)" font-size="6.3" text-anchor="end" font-style="italic" fill="#111">ADAMTS12</text>
<text x="563.8" y="124.95" font-size="5.6" fill="#333">19%</text>
<text transform="translate(246.6 130.19) scale(0.85 1)" font-size="6.3" text-anchor="end" font-style="italic" fill="#111">COL11A1</text>
<text x="563.8" y="129.89" font-size="5.6" fill="#333">19%</text>
<text transform="translate(246.6 135.14) scale(0.85 1)" font-size="6.3" text-anchor="end" font-style="italic" fill="#111">DMD</text>
<text x="563.8" y="134.84" font-size="5.6" fill="#333">18%</text>
<text transform="translate(246.6 140.08) scale(0.85 1)" font-size="6.3" text-anchor="end" font-style="italic" fill="#111">DNAH9</text>
<text x="563.8" y="139.78" font-size="5.6" fill="#333">18%</text>
<text transform="translate(246.6 145.02) scale(0.85 1)" font-size="6.3" text-anchor="end" font-style="italic" fill="#111">MUC17</text>
<text x="563.8" y="144.72" font-size="5.6" fill="#333">18%</text>
<text transform="translate(246.6 149.97) scale(0.85 1)" font-size="6.3" text-anchor="end" font-style="italic" fill="#111">PAPPA2</text>
<text x="563.8" y="149.67" font-size="5.6" fill="#333">18%</text>
<text transform="translate(246.6 154.91) scale(0.85 1)" font-size="6.3" text-anchor="end" font-style="italic" fill="#111">PCDH15</text>
<text x="563.8" y="154.61" font-size="5.6" fill="#333">18%</text>
<text transform="translate(246.6 159.86) scale(0.85 1)" font-size="6.3" text-anchor="end" font-style="italic" fill="#111">RYR3</text>
<text x="563.8" y="159.56" font-size="5.6" fill="#333">18%</text>
<rect x="574.2" y="37.55" width="45.4" height="3.75" fill="#3d3b8e"/>
<rect x="619.6" y="37.55" width="20.4" height="3.75" fill="#21a08a"/>
<rect x="640" y="37.55" width="6" height="3.75" fill="#74c95a"/>
<rect x="646" y="37.55" width="8" height="3.75" fill="#f7e21f"/>
<rect x="654" y="37.55" width="2" height="3.75" fill="#3a5f96"/>
<rect x="656" y="37.55" width="4" height="3.75" fill="#21a08a"/>
<rect x="574.2" y="42.49" width="36.8" height="3.75" fill="#3d3b8e"/>
<rect x="611" y="42.49" width="1.5" height="3.75" fill="#f7e21f"/>
<rect x="612.5" y="42.49" width="40.5" height="3.75" fill="#3fba6f"/>
<rect x="574.2" y="47.44" width="34.8" height="3.75" fill="#3d3b8e"/>
<rect x="609" y="47.44" width="2" height="3.75" fill="#f7e21f"/>
<rect x="611" y="47.44" width="38" height="3.75" fill="#3fba6f"/>
<rect x="574.2" y="52.38" width="36.8" height="3.75" fill="#3d3b8e"/>
<rect x="611" y="52.38" width="4" height="3.75" fill="#21a08a"/>
<rect x="615" y="52.38" width="2" height="3.75" fill="#f7e21f"/>
<rect x="617" y="52.38" width="26.5" height="3.75" fill="#3fba6f"/>
<rect x="574.2" y="57.33" width="34.8" height="3.75" fill="#3d3b8e"/>
<rect x="609" y="57.33" width="2" height="3.75" fill="#21a08a"/>
<rect x="611" y="57.33" width="1.5" height="3.75" fill="#f7e21f"/>
<rect x="612.5" y="57.33" width="26.5" height="3.75" fill="#3fba6f"/>
<rect x="574.2" y="62.27" width="34.3" height="3.75" fill="#3d3b8e"/>
<rect x="608.5" y="62.27" width="2.5" height="3.75" fill="#21a08a"/>
<rect x="611" y="62.27" width="1.3" height="3.75" fill="#f7e21f"/>
<rect x="612.3" y="62.27" width="22.2" height="3.75" fill="#3fba6f"/>
<rect x="574.2" y="67.21" width="31.4" height="3.75" fill="#3d3b8e"/>
<rect x="605.6" y="67.21" width="3.4" height="3.75" fill="#21a08a"/>
<rect x="609" y="67.21" width="2" height="3.75" fill="#f7e21f"/>
<rect x="611" y="67.21" width="22.9" height="3.75" fill="#3fba6f"/>
<rect x="574.2" y="72.16" width="31.8" height="3.75" fill="#3d3b8e"/>
<rect x="606" y="72.16" width="2.5" height="3.75" fill="#21a08a"/>
<rect x="608.5" y="72.16" width="1.8" height="3.75" fill="#f7e21f"/>
<rect x="610.3" y="72.16" width="19.9" height="3.75" fill="#3fba6f"/>
<rect x="574.2" y="77.1" width="44.8" height="3.75" fill="#3d3b8e"/>
<rect x="619" y="77.1" width="1" height="3.75" fill="#3fba6f"/>
<rect x="574.2" y="82.05" width="29" height="3.75" fill="#3d3b8e"/>
<rect x="603.2" y="82.05" width="1.1" height="3.75" fill="#f7e21f"/>
<rect x="604.3" y="82.05" width="15.1" height="3.75" fill="#3fba6f"/>
<rect x="574.2" y="86.99" width="26" height="3.75" fill="#3d3b8e"/>
<rect x="600.2" y="86.99" width="3.8" height="3.75" fill="#21a08a"/>
<rect x="604" y="86.99" width="2" height="3.75" fill="#74c95a"/>
<rect x="606" y="86.99" width="2.5" height="3.75" fill="#f7e21f"/>
<rect x="608.5" y="86.99" width="9.6" height="3.75" fill="#3fba6f"/>
<rect x="574.2" y="91.93" width="27.1" height="3.75" fill="#3d3b8e"/>
<rect x="601.3" y="91.93" width="1.7" height="3.75" fill="#21a08a"/>
<rect x="603" y="91.93" width="2" height="3.75" fill="#f7e21f"/>
<rect x="605" y="91.93" width="11.7" height="3.75" fill="#3fba6f"/>
<rect x="574.2" y="96.88" width="27.1" height="3.75" fill="#3d3b8e"/>
<rect x="601.3" y="96.88" width="1.2" height="3.75" fill="#21a08a"/>
<rect x="602.5" y="96.88" width="1.5" height="3.75" fill="#f7e21f"/>
<rect x="604" y="96.88" width="9.3" height="3.75" fill="#3fba6f"/>
<rect x="574.2" y="101.82" width="22.7" height="3.75" fill="#3d3b8e"/>
<rect x="596.9" y="101.82" width="3.1" height="3.75" fill="#21a08a"/>
<rect x="600" y="101.82" width="1.3" height="3.75" fill="#f7e21f"/>
<rect x="601.3" y="101.82" width="9.5" height="3.75" fill="#3fba6f"/>
<rect x="574.2" y="106.77" width="23.6" height="3.75" fill="#3d3b8e"/>
<rect x="597.8" y="106.77" width="2.7" height="3.75" fill="#21a08a"/>
<rect x="600.5" y="106.77" width="1.5" height="3.75" fill="#f7e21f"/>
<rect x="602" y="106.77" width="7.8" height="3.75" fill="#3fba6f"/>
<rect x="574.2" y="111.71" width="25.6" height="3.75" fill="#3d3b8e"/>
<rect x="599.8" y="111.71" width="2.2" height="3.75" fill="#21a08a"/>
<rect x="602" y="111.71" width="2.5" height="3.75" fill="#f7e21f"/>
<rect x="604.5" y="111.71" width="4.5" height="3.75" fill="#3fba6f"/>
<rect x="574.2" y="116.65" width="21.7" height="3.75" fill="#3d3b8e"/>
<rect x="595.9" y="116.65" width="4.1" height="3.75" fill="#21a08a"/>
<rect x="600" y="116.65" width="8.8" height="3.75" fill="#3fba6f"/>
<rect x="574.2" y="121.6" width="23.1" height="3.75" fill="#3d3b8e"/>
<rect x="597.3" y="121.6" width="2.7" height="3.75" fill="#21a08a"/>
<rect x="600" y="121.6" width="2.5" height="3.75" fill="#f7e21f"/>
<rect x="602.5" y="121.6" width="6" height="3.75" fill="#3fba6f"/>
<rect x="574.2" y="126.54" width="23.6" height="3.75" fill="#3d3b8e"/>
<rect x="597.8" y="126.54" width="2.2" height="3.75" fill="#21a08a"/>
<rect x="600" y="126.54" width="8.5" height="3.75" fill="#3fba6f"/>
<rect x="574.2" y="131.49" width="20.8" height="3.75" fill="#3d3b8e"/>
<rect x="595" y="131.49" width="3" height="3.75" fill="#21a08a"/>
<rect x="598" y="131.49" width="1.5" height="3.75" fill="#f7e21f"/>
<rect x="599.5" y="131.49" width="8.4" height="3.75" fill="#3fba6f"/>
<rect x="574.2" y="136.43" width="23.3" height="3.75" fill="#3d3b8e"/>
<rect x="597.5" y="136.43" width="1.5" height="3.75" fill="#21a08a"/>
<rect x="599" y="136.43" width="8.9" height="3.75" fill="#3fba6f"/>
<rect x="574.2" y="141.37" width="22.7" height="3.75" fill="#3d3b8e"/>
<rect x="596.9" y="141.37" width="1.1" height="3.75" fill="#21a08a"/>
<rect x="598" y="141.37" width="1.3" height="3.75" fill="#f7e21f"/>
<rect x="599.3" y="141.37" width="8.6" height="3.75" fill="#3fba6f"/>
<rect x="574.2" y="146.32" width="22.1" height="3.75" fill="#3d3b8e"/>
<rect x="596.3" y="146.32" width="2.5" height="3.75" fill="#f7e21f"/>
<rect x="598.8" y="146.32" width="7.7" height="3.75" fill="#3fba6f"/>
<rect x="574.2" y="151.26" width="16.9" height="3.75" fill="#3d3b8e"/>
<rect x="591.1" y="151.26" width="2.9" height="3.75" fill="#21a08a"/>
<rect x="594" y="151.26" width="12.5" height="3.75" fill="#3fba6f"/>
<rect x="574.2" y="156.21" width="21.7" height="3.75" fill="#3d3b8e"/>
<rect x="595.9" y="156.21" width="1.1" height="3.75" fill="#21a08a"/>
<rect x="597" y="156.21" width="9.5" height="3.75" fill="#3fba6f"/>
<line x1="574.2" y1="35.9" x2="660.5" y2="35.9" stroke="#666" stroke-width="0.6"/>
<line x1="574.2" y1="33.8" x2="574.2" y2="35.9" stroke="#666" stroke-width="0.5"/>
<line x1="660.5" y1="33.8" x2="660.5" y2="35.9" stroke="#666" stroke-width="0.5"/>
<text x="574.2" y="32.3" font-size="3.2" text-anchor="middle" fill="#444">0</text>
<text x="659.5" y="32.3" font-size="3.2" text-anchor="middle" fill="#444">125</text>
<text x="617" y="35" font-size="2.6" text-anchor="middle" fill="#444">No. of samples</text>
<path d="M244.6 3.4H246.1V34.6H244.6" fill="none" stroke="#999" stroke-width="0.5"/>
<text x="243.4" y="4.6" font-size="3" text-anchor="end" font-weight="bold" fill="#555">1000</text>
<text transform="translate(240.3 19.5) rotate(-90)" font-size="3" text-anchor="middle" font-weight="bold" fill="#555">500</text>
<text x="243.2" y="35.6" font-size="3" text-anchor="end" font-weight="bold" fill="#555">0</text>
<path fill="#3f3f8f" d="M247.8 3.2h1.23v31.4h-1.23zM248.98 17.33h1.23v17.27h-1.23zM250.16 29.69h1.23v4.91h-1.23zM251.34 13.6h1.23v21h-1.23zM252.52 23.05h1.23v11.55h-1.23zM253.7 27.07h1.23v7.53h-1.23zM254.88 14.6h1.23v20h-1.23zM256.06 23.6h1.23v11h-1.23zM257.24 29.64h1.23v4.96h-1.23zM258.43 26.92h1.23v7.68h-1.23zM259.61 16.1h1.23v18.5h-1.23zM260.79 24.43h1.23v10.18h-1.23zM261.97 30.81h1.23v3.79h-1.23zM263.15 8.6h1.23v26h-1.23zM264.33 20.3h1.23v14.3h-1.23zM265.51 27.92h1.23v6.68h-1.23zM266.69 31.06h1.23v3.54h-1.23zM267.87 20.6h1.23v14h-1.23zM269.05 26.9h1.23v7.7h-1.23zM270.23 29.81h1.23v4.79h-1.23zM271.41 31.34h1.23v3.26h-1.23zM272.59 22.1h1.23v12.5h-1.23zM273.77 27.73h1.23v6.88h-1.23zM274.95 31.69h1.23v2.91h-1.23zM276.13 30.31h1.23v4.29h-1.23zM277.31 30.98h1.23v3.62h-1.23zM278.49 30.66h1.23v3.94h-1.23zM279.68 30.52h1.23v4.08h-1.23zM280.86 31.08h1.23v3.52h-1.23zM282.04 31.05h1.23v3.55h-1.23zM283.22 9.6h1.23v25h-1.23zM284.4 20.85h1.23v13.75h-1.23zM285.58 32.28h1.23v2.32h-1.23zM286.76 31.57h1.23v3.03h-1.23zM287.94 30.78h1.23v3.82h-1.23zM289.12 28.63h1.23v5.97h-1.23zM290.3 29.58h1.23v5.02h-1.23zM291.48 32.33h1.23v2.27h-1.23zM292.66 31.29h1.23v3.31h-1.23zM293.84 30.98h1.23v3.62h-1.23zM295.02 31.82h1.23v2.78h-1.23zM296.2 31.78h1.23v2.82h-1.23zM297.38 32.36h1.23v2.24h-1.23zM298.56 29.48h1.23v5.12h-1.23zM299.74 29.17h1.23v5.43h-1.23zM300.93 33.24h1.23v1.36h-1.23zM302.11 33.2h1.23v1.4h-1.23zM303.29 33.67h1.23v0.93h-1.23zM304.47 24.1h1.23v10.5h-1.23zM305.65 26h1.23v8.6h-1.23zM306.83 8.6h1.23v26h-1.23zM308.01 20.3h1.23v14.3h-1.23zM309.19 29.93h1.23v4.67h-1.23zM310.37 28.25h1.23v6.35h-1.23zM311.55 29.95h1.23v4.65h-1.23zM312.73 29.23h1.23v5.37h-1.23zM313.91 16.1h1.23v18.5h-1.23zM315.09 24.43h1.23v10.18h-1.23zM316.27 24.49h1.23v10.11h-1.23zM317.45 29.09h1.23v5.51h-1.23zM318.63 31.64h1.23v2.96h-1.23zM319.81 31.45h1.23v3.15h-1.23zM320.99 32.16h1.23v2.44h-1.23zM322.18 31.54h1.23v3.06h-1.23zM323.36 32.37h1.23v2.23h-1.23zM324.54 32.99h1.23v1.61h-1.23zM325.72 33.03h1.23v1.57h-1.23zM326.9 32.41h1.23v2.19h-1.23zM328.08 30.62h1.23v3.98h-1.23zM329.26 32.98h1.23v1.62h-1.23zM330.44 33.54h1.23v1.06h-1.23zM331.62 17.1h1.23v17.5h-1.23zM332.8 24.98h1.23v9.62h-1.23zM333.98 26.9h1.23v7.7h-1.23zM335.16 29.75h1.23v4.85h-1.23zM336.34 30.06h1.23v4.54h-1.23zM337.52 10.1h1.23v24.5h-1.23zM338.7 21.12h1.23v13.48h-1.23zM339.88 29.71h1.23v4.89h-1.23zM341.06 29.49h1.23v5.11h-1.23zM342.24 30.68h1.23v3.92h-1.23zM343.43 28.62h1.23v5.98h-1.23zM344.61 29.63h1.23v4.97h-1.23zM345.79 30.18h1.23v4.42h-1.23zM346.97 18.6h1.23v16h-1.23zM348.15 25.8h1.23v8.8h-1.23zM349.33 29.73h1.23v4.87h-1.23zM350.51 31.89h1.23v2.71h-1.23zM351.69 31.78h1.23v2.82h-1.23zM352.87 30.43h1.23v4.17h-1.23zM354.05 31.9h1.23v2.7h-1.23zM355.23 31.97h1.23v2.63h-1.23zM356.41 32.91h1.23v1.69h-1.23zM357.59 31.11h1.23v3.49h-1.23zM358.77 30.8h1.23v3.8h-1.23zM359.95 19.6h1.23v15h-1.23zM361.13 26.35h1.23v8.25h-1.23zM362.31 30.64h1.23v3.96h-1.23zM363.49 32.05h1.23v2.55h-1.23zM364.68 16.6h1.23v18h-1.23zM365.86 24.7h1.23v9.9h-1.23zM367.04 31.02h1.23v3.58h-1.23zM368.22 32.65h1.23v1.95h-1.23zM369.4 31.94h1.23v2.66h-1.23zM370.58 32.97h1.23v1.63h-1.23zM371.76 31.87h1.23v2.73h-1.23zM372.94 31.82h1.23v2.78h-1.23zM374.12 33.32h1.23v1.28h-1.23zM375.3 33.01h1.23v1.59h-1.23zM376.48 32.98h1.23v1.62h-1.23zM377.66 33.32h1.23v1.28h-1.23zM378.84 24.6h1.23v10h-1.23zM380.02 24.1h1.23v10.5h-1.23zM381.2 29.11h1.23v5.49h-1.23zM382.38 29.75h1.23v4.85h-1.23zM383.56 31.23h1.23v3.37h-1.23zM384.74 29.98h1.23v4.62h-1.23zM385.93 29.06h1.23v5.54h-1.23zM387.11 29.79h1.23v4.81h-1.23zM388.29 15.6h1.23v19h-1.23zM389.47 24.15h1.23v10.45h-1.23zM390.65 30.86h1.23v3.74h-1.23zM391.83 31.28h1.23v3.32h-1.23zM393.01 32.44h1.23v2.16h-1.23zM394.19 33.18h1.23v1.42h-1.23zM395.37 29.88h1.23v4.72h-1.23zM396.55 28.92h1.23v5.68h-1.23zM397.73 33.49h1.23v1.11h-1.23zM398.91 30.85h1.23v3.75h-1.23zM400.09 32.79h1.23v1.81h-1.23zM401.27 30.03h1.23v4.57h-1.23zM402.45 32.69h1.23v1.91h-1.23zM403.63 30.79h1.23v3.81h-1.23zM404.81 32.58h1.23v2.02h-1.23zM405.99 31.65h1.23v2.95h-1.23zM407.18 33.51h1.23v1.09h-1.23zM408.36 32.94h1.23v1.66h-1.23zM409.54 32.6h1.23v2h-1.23zM410.72 32.9h1.23v1.7h-1.23zM411.9 32.2h1.23v2.4h-1.23zM413.08 33.65h1.23v0.95h-1.23zM414.26 34h1.23v0.6h-1.23zM415.44 34h1.23v0.6h-1.23zM416.62 34h1.23v0.6h-1.23zM417.8 24.71h1.24v9.89h-1.24zM418.99 17.1h1.24v17.5h-1.24zM420.18 24.98h1.24v9.62h-1.24zM421.38 15.6h1.24v19h-1.24zM422.57 24.15h1.24v10.45h-1.24zM423.76 29.35h1.24v5.25h-1.24zM424.95 22.1h1.24v12.5h-1.24zM426.15 27.73h1.24v6.88h-1.24zM427.34 23.1h1.24v11.5h-1.24zM428.53 28.28h1.24v6.33h-1.24zM429.72 29.84h1.24v4.76h-1.24zM430.92 31.15h1.24v3.45h-1.24zM432.11 21.1h1.24v13.5h-1.24zM433.3 27.18h1.24v7.43h-1.24zM434.49 32.12h1.24v2.48h-1.24zM435.69 32.38h1.24v2.22h-1.24zM436.88 33.08h1.24v1.52h-1.24zM438.07 22.1h1.24v12.5h-1.24zM439.26 27.73h1.24v6.88h-1.24zM440.46 31.94h1.24v2.66h-1.24zM441.65 29.95h1.24v4.65h-1.24zM442.84 32.11h1.24v2.49h-1.24zM444.03 32.92h1.24v1.68h-1.24zM445.23 30.96h1.24v3.64h-1.24zM446.42 27.95h1.24v6.65h-1.24zM447.61 32.34h1.24v2.26h-1.24zM448.8 31.82h1.24v2.78h-1.24zM450 32.14h1.24v2.46h-1.24zM451.19 32.88h1.24v1.72h-1.24zM452.38 33.18h1.24v1.42h-1.24zM453.57 33.1h1.24v1.5h-1.24zM454.77 32.97h1.24v1.63h-1.24zM455.96 33.67h1.24v0.93h-1.24zM457.15 33.62h1.24v0.98h-1.24zM458.34 33.47h1.24v1.13h-1.24zM459.53 25.8h1.24v8.8h-1.24zM460.73 29.66h1.24v4.94h-1.24zM461.92 31.35h1.24v3.25h-1.24zM463.11 31.29h1.24v3.31h-1.24zM464.3 31.42h1.24v3.18h-1.24zM465.5 32.33h1.24v2.27h-1.24zM466.69 31.86h1.24v2.74h-1.24zM467.88 32.62h1.24v1.98h-1.24zM469.07 32.78h1.24v1.82h-1.24zM470.27 32.57h1.24v2.03h-1.24zM471.46 33.49h1.24v1.11h-1.24zM472.65 33.57h1.24v1.03h-1.24zM473.84 30.63h1.24v3.97h-1.24zM475.04 28.23h1.24v6.37h-1.24zM476.23 28.59h1.24v6.01h-1.24zM477.42 30.71h1.24v3.89h-1.24zM478.61 32.56h1.24v2.04h-1.24zM479.81 32.33h1.24v2.27h-1.24zM481 32.19h1.24v2.41h-1.24zM482.19 31.63h1.24v2.97h-1.24zM483.38 32.27h1.24v2.33h-1.24zM484.58 32.32h1.24v2.28h-1.24zM485.77 31.3h1.24v3.3h-1.24zM486.96 32.43h1.24v2.17h-1.24zM488.15 32.32h1.24v2.28h-1.24zM489.35 32.89h1.24v1.71h-1.24zM490.54 32.9h1.24v1.7h-1.24zM491.73 33.65h1.24v0.95h-1.24zM492.92 33.46h1.24v1.14h-1.24zM494.12 33.49h1.24v1.11h-1.24zM495.31 34h1.24v0.6h-1.24zM496.5 24.1h1.23v10.5h-1.23zM497.68 21.1h1.23v13.5h-1.23zM498.85 27.18h1.23v7.43h-1.23zM500.03 26.6h1.23v8h-1.23zM501.2 30.2h1.23v4.4h-1.23zM502.38 24.6h1.23v10h-1.23zM503.55 29.1h1.23v5.5h-1.23zM504.73 32.51h1.23v2.09h-1.23zM505.9 32.4h1.23v2.2h-1.23zM507.08 31.44h1.23v3.16h-1.23zM508.25 30.98h1.23v3.62h-1.23zM509.43 32.26h1.23v2.34h-1.23zM510.61 33.14h1.23v1.46h-1.23zM511.78 33.09h1.23v1.51h-1.23zM512.96 33.12h1.23v1.48h-1.23zM514.13 32.91h1.23v1.69h-1.23zM515.31 33.5h1.23v1.1h-1.23zM516.48 28.04h1.23v6.56h-1.23zM517.66 32.82h1.23v1.78h-1.23zM518.83 28.77h1.23v5.83h-1.23zM520.01 32.11h1.23v2.49h-1.23zM521.18 32.66h1.23v1.94h-1.23zM522.36 32.34h1.23v2.26h-1.23zM523.54 30.92h1.23v3.68h-1.23zM524.71 30.27h1.23v4.33h-1.23zM525.89 31.63h1.23v2.97h-1.23zM527.06 31.91h1.23v2.69h-1.23zM528.24 32.44h1.23v2.16h-1.23zM529.41 33.31h1.23v1.29h-1.23zM530.59 30.04h1.23v4.56h-1.23zM531.76 32.34h1.23v2.26h-1.23zM532.94 33.19h1.23v1.41h-1.23zM534.11 30.82h1.23v3.78h-1.23zM535.29 31.83h1.23v2.77h-1.23zM536.46 33.12h1.23v1.48h-1.23zM537.64 32.9h1.23v1.7h-1.23zM538.82 32.5h1.23v2.1h-1.23zM539.99 32.51h1.23v2.09h-1.23zM541.17 33.62h1.23v0.98h-1.23zM542.34 33.06h1.23v1.54h-1.23zM543.52 32.34h1.23v2.26h-1.23zM544.69 32.85h1.23v1.75h-1.23zM545.87 32.6h1.23v2h-1.23zM547.04 33.5h1.23v1.1h-1.23zM548.22 33.31h1.23v1.29h-1.23zM549.39 33.56h1.23v1.04h-1.23zM550.57 32.92h1.23v1.68h-1.23zM551.75 32.47h1.23v2.13h-1.23zM552.92 33.19h1.23v1.41h-1.23zM554.1 33.65h1.23v0.95h-1.23zM555.27 33.24h1.23v1.36h-1.23zM556.45 33.63h1.23v0.97h-1.23zM557.62 34h1.23v0.6h-1.23zM558.8 34h1.23v0.6h-1.23zM559.97 34h1.23v0.6h-1.23zM561.15 34h1.23v0.6h-1.23zM562.32 34h1.23v0.6h-1.23z"/>
<path fill="#3bb56e" d="M247.8 3.2h1.23v1h-1.23zM248.98 17.33h1.23v1h-1.23zM250.16 29.69h1.23v0.59h-1.23zM251.34 13.6h1.23v1h-1.23zM252.52 23.05h1.23v1h-1.23zM253.7 27.07h1.23v0.9h-1.23zM254.88 14.6h1.23v1h-1.23zM256.06 23.6h1.23v1h-1.23zM257.24 29.64h1.23v0.59h-1.23zM258.43 26.92h1.23v0.92h-1.23zM259.61 16.1h1.23v1h-1.23zM260.79 24.43h1.23v1h-1.23zM261.97 30.81h1.23v0.45h-1.23zM263.15 8.6h1.23v1h-1.23zM264.33 20.3h1.23v1h-1.23zM265.51 27.92h1.23v0.8h-1.23zM266.69 31.06h1.23v0.42h-1.23zM267.87 20.6h1.23v1h-1.23zM269.05 26.9h1.23v0.92h-1.23zM270.23 29.81h1.23v0.58h-1.23zM271.41 31.34h1.23v0.39h-1.23zM272.59 22.1h1.23v1h-1.23zM273.77 27.73h1.23v0.83h-1.23zM274.95 31.69h1.23v0.35h-1.23zM276.13 30.31h1.23v0.52h-1.23zM277.31 30.98h1.23v0.43h-1.23zM278.49 30.66h1.23v0.47h-1.23zM279.68 30.52h1.23v0.49h-1.23zM280.86 31.08h1.23v0.42h-1.23zM282.04 31.05h1.23v0.43h-1.23zM283.22 9.6h1.23v1h-1.23zM284.4 20.85h1.23v1h-1.23zM285.58 32.28h1.23v0.28h-1.23zM286.76 31.57h1.23v0.36h-1.23zM287.94 30.78h1.23v0.46h-1.23zM289.12 28.63h1.23v0.72h-1.23zM290.3 29.58h1.23v0.6h-1.23zM291.48 32.33h1.23v0.27h-1.23zM292.66 31.29h1.23v0.4h-1.23zM293.84 30.98h1.23v0.43h-1.23zM295.02 31.82h1.23v0.33h-1.23zM296.2 31.78h1.23v0.34h-1.23zM297.38 32.36h1.23v0.27h-1.23zM298.56 29.48h1.23v0.61h-1.23zM299.74 29.17h1.23v0.65h-1.23zM300.93 33.24h1.23v0.16h-1.23zM302.11 33.2h1.23v0.17h-1.23zM303.29 33.67h1.23v0.11h-1.23zM304.47 24.1h1.23v1h-1.23zM305.65 26h1.23v1h-1.23zM306.83 8.6h1.23v1h-1.23zM308.01 20.3h1.23v1h-1.23zM309.19 29.93h1.23v0.56h-1.23zM310.37 28.25h1.23v0.76h-1.23zM311.55 29.95h1.23v0.56h-1.23zM312.73 29.23h1.23v0.64h-1.23zM313.91 16.1h1.23v1h-1.23zM315.09 24.43h1.23v1h-1.23zM316.27 24.49h1.23v1h-1.23zM317.45 29.09h1.23v0.66h-1.23zM318.63 31.64h1.23v0.36h-1.23zM319.81 31.45h1.23v0.38h-1.23zM320.99 32.16h1.23v0.29h-1.23zM322.18 31.54h1.23v0.37h-1.23zM323.36 32.37h1.23v0.27h-1.23zM324.54 32.99h1.23v0.19h-1.23zM325.72 33.03h1.23v0.19h-1.23zM326.9 32.41h1.23v0.26h-1.23zM328.08 30.62h1.23v0.48h-1.23zM329.26 32.98h1.23v0.19h-1.23zM330.44 33.54h1.23v0.13h-1.23zM331.62 17.1h1.23v1h-1.23zM332.8 24.98h1.23v1h-1.23zM333.98 26.9h1.23v0.92h-1.23zM335.16 29.75h1.23v0.58h-1.23zM336.34 30.06h1.23v0.54h-1.23zM337.52 10.1h1.23v1h-1.23zM338.7 21.12h1.23v1h-1.23zM339.88 29.71h1.23v0.59h-1.23zM341.06 29.49h1.23v0.61h-1.23zM342.24 30.68h1.23v0.47h-1.23zM343.43 28.62h1.23v0.72h-1.23zM344.61 29.63h1.23v0.6h-1.23zM345.79 30.18h1.23v0.53h-1.23zM346.97 18.6h1.23v1h-1.23zM348.15 25.8h1.23v1h-1.23zM349.33 29.73h1.23v0.58h-1.23zM350.51 31.89h1.23v0.33h-1.23zM351.69 31.78h1.23v0.34h-1.23zM352.87 30.43h1.23v0.5h-1.23zM354.05 31.9h1.23v0.32h-1.23zM355.23 31.97h1.23v0.32h-1.23zM356.41 32.91h1.23v0.2h-1.23zM357.59 31.11h1.23v0.42h-1.23zM358.77 30.8h1.23v0.46h-1.23zM359.95 19.6h1.23v1h-1.23zM361.13 26.35h1.23v0.99h-1.23zM362.31 30.64h1.23v0.48h-1.23zM363.49 32.05h1.23v0.31h-1.23zM364.68 16.6h1.23v1h-1.23zM365.86 24.7h1.23v1h-1.23zM367.04 31.02h1.23v0.43h-1.23zM368.22 32.65h1.23v0.23h-1.23zM369.4 31.94h1.23v0.32h-1.23zM370.58 32.97h1.23v0.2h-1.23zM371.76 31.87h1.23v0.33h-1.23zM372.94 31.82h1.23v0.33h-1.23zM374.12 33.32h1.23v0.15h-1.23zM375.3 33.01h1.23v0.19h-1.23zM376.48 32.98h1.23v0.19h-1.23zM377.66 33.32h1.23v0.15h-1.23zM378.84 24.6h1.23v1h-1.23zM380.02 24.1h1.23v1h-1.23zM381.2 29.11h1.23v0.66h-1.23zM382.38 29.75h1.23v0.58h-1.23zM383.56 31.23h1.23v0.4h-1.23zM384.74 29.98h1.23v0.55h-1.23zM385.93 29.06h1.23v0.66h-1.23zM387.11 29.79h1.23v0.58h-1.23zM388.29 15.6h1.23v1h-1.23zM389.47 24.15h1.23v1h-1.23zM390.65 30.86h1.23v0.45h-1.23zM391.83 31.28h1.23v0.4h-1.23zM393.01 32.44h1.23v0.26h-1.23zM394.19 33.18h1.23v0.17h-1.23zM395.37 29.88h1.23v0.57h-1.23zM396.55 28.92h1.23v0.68h-1.23zM397.73 33.49h1.23v0.13h-1.23zM398.91 30.85h1.23v0.45h-1.23zM400.09 32.79h1.23v0.22h-1.23zM401.27 30.03h1.23v0.55h-1.23zM402.45 32.69h1.23v0.23h-1.23zM403.63 30.79h1.23v0.46h-1.23zM404.81 32.58h1.23v0.24h-1.23zM405.99 31.65h1.23v0.35h-1.23zM407.18 33.51h1.23v0.13h-1.23zM408.36 32.94h1.23v0.2h-1.23zM409.54 32.6h1.23v0.24h-1.23zM410.72 32.9h1.23v0.2h-1.23zM411.9 32.2h1.23v0.29h-1.23zM413.08 33.65h1.23v0.11h-1.23zM414.26 34h1.23v0.07h-1.23zM415.44 34h1.23v0.07h-1.23zM416.62 34h1.23v0.07h-1.23zM417.8 24.71h1.24v1h-1.24zM418.99 17.1h1.24v1h-1.24zM420.18 24.98h1.24v1h-1.24zM421.38 15.6h1.24v1h-1.24zM422.57 24.15h1.24v1h-1.24zM423.76 29.35h1.24v0.63h-1.24zM424.95 22.1h1.24v1h-1.24zM426.15 27.73h1.24v0.83h-1.24zM427.34 23.1h1.24v1h-1.24zM428.53 28.28h1.24v0.76h-1.24zM429.72 29.84h1.24v0.57h-1.24zM430.92 31.15h1.24v0.41h-1.24zM432.11 21.1h1.24v1h-1.24zM433.3 27.18h1.24v0.89h-1.24zM434.49 32.12h1.24v0.3h-1.24zM435.69 32.38h1.24v0.27h-1.24zM436.88 33.08h1.24v0.18h-1.24zM438.07 22.1h1.24v1h-1.24zM439.26 27.73h1.24v0.83h-1.24zM440.46 31.94h1.24v0.32h-1.24zM441.65 29.95h1.24v0.56h-1.24zM442.84 32.11h1.24v0.3h-1.24zM444.03 32.92h1.24v0.2h-1.24zM445.23 30.96h1.24v0.44h-1.24zM446.42 27.95h1.24v0.8h-1.24zM447.61 32.34h1.24v0.27h-1.24zM448.8 31.82h1.24v0.33h-1.24zM450 32.14h1.24v0.3h-1.24zM451.19 32.88h1.24v0.21h-1.24zM452.38 33.18h1.24v0.17h-1.24zM453.57 33.1h1.24v0.18h-1.24zM454.77 32.97h1.24v0.2h-1.24zM455.96 33.67h1.24v0.11h-1.24zM457.15 33.62h1.24v0.12h-1.24zM458.34 33.47h1.24v0.14h-1.24zM459.53 25.8h1.24v1h-1.24zM460.73 29.66h1.24v0.59h-1.24zM461.92 31.35h1.24v0.39h-1.24zM463.11 31.29h1.24v0.4h-1.24zM464.3 31.42h1.24v0.38h-1.24zM465.5 32.33h1.24v0.27h-1.24zM466.69 31.86h1.24v0.33h-1.24zM467.88 32.62h1.24v0.24h-1.24zM469.07 32.78h1.24v0.22h-1.24zM470.27 32.57h1.24v0.24h-1.24zM471.46 33.49h1.24v0.13h-1.24zM472.65 33.57h1.24v0.12h-1.24zM473.84 30.63h1.24v0.48h-1.24zM475.04 28.23h1.24v0.76h-1.24zM476.23 28.59h1.24v0.72h-1.24zM477.42 30.71h1.24v0.47h-1.24zM478.61 32.56h1.24v0.24h-1.24zM479.81 32.33h1.24v0.27h-1.24zM481 32.19h1.24v0.29h-1.24zM482.19 31.63h1.24v0.36h-1.24zM483.38 32.27h1.24v0.28h-1.24zM484.58 32.32h1.24v0.27h-1.24zM485.77 31.3h1.24v0.4h-1.24zM486.96 32.43h1.24v0.26h-1.24zM488.15 32.32h1.24v0.27h-1.24zM489.35 32.89h1.24v0.21h-1.24zM490.54 32.9h1.24v0.2h-1.24zM491.73 33.65h1.24v0.11h-1.24zM492.92 33.46h1.24v0.14h-1.24zM494.12 33.49h1.24v0.13h-1.24zM495.31 34h1.24v0.07h-1.24zM496.5 24.1h1.23v1h-1.23zM497.68 21.1h1.23v1h-1.23zM498.85 27.18h1.23v0.89h-1.23zM500.03 26.6h1.23v0.96h-1.23zM501.2 30.2h1.23v0.53h-1.23zM502.38 24.6h1.23v1h-1.23zM503.55 29.1h1.23v0.66h-1.23zM504.73 32.51h1.23v0.25h-1.23zM505.9 32.4h1.23v0.26h-1.23zM507.08 31.44h1.23v0.38h-1.23zM508.25 30.98h1.23v0.43h-1.23zM509.43 32.26h1.23v0.28h-1.23zM510.61 33.14h1.23v0.18h-1.23zM511.78 33.09h1.23v0.18h-1.23zM512.96 33.12h1.23v0.18h-1.23zM514.13 32.91h1.23v0.2h-1.23zM515.31 33.5h1.23v0.13h-1.23zM516.48 28.04h1.23v0.79h-1.23zM517.66 32.82h1.23v0.21h-1.23zM518.83 28.77h1.23v0.7h-1.23zM520.01 32.11h1.23v0.3h-1.23zM521.18 32.66h1.23v0.23h-1.23zM522.36 32.34h1.23v0.27h-1.23zM523.54 30.92h1.23v0.44h-1.23zM524.71 30.27h1.23v0.52h-1.23zM525.89 31.63h1.23v0.36h-1.23zM527.06 31.91h1.23v0.32h-1.23zM528.24 32.44h1.23v0.26h-1.23zM529.41 33.31h1.23v0.15h-1.23zM530.59 30.04h1.23v0.55h-1.23zM531.76 32.34h1.23v0.27h-1.23zM532.94 33.19h1.23v0.17h-1.23zM534.11 30.82h1.23v0.45h-1.23zM535.29 31.83h1.23v0.33h-1.23zM536.46 33.12h1.23v0.18h-1.23zM537.64 32.9h1.23v0.2h-1.23zM538.82 32.5h1.23v0.25h-1.23zM539.99 32.51h1.23v0.25h-1.23zM541.17 33.62h1.23v0.12h-1.23zM542.34 33.06h1.23v0.18h-1.23zM543.52 32.34h1.23v0.27h-1.23zM544.69 32.85h1.23v0.21h-1.23zM545.87 32.6h1.23v0.24h-1.23zM547.04 33.5h1.23v0.13h-1.23zM548.22 33.31h1.23v0.15h-1.23zM549.39 33.56h1.23v0.12h-1.23zM550.57 32.92h1.23v0.2h-1.23zM551.75 32.47h1.23v0.26h-1.23zM552.92 33.19h1.23v0.17h-1.23zM554.1 33.65h1.23v0.11h-1.23zM555.27 33.24h1.23v0.16h-1.23zM556.45 33.63h1.23v0.12h-1.23zM557.62 34h1.23v0.07h-1.23zM558.8 34h1.23v0.07h-1.23zM559.97 34h1.23v0.07h-1.23zM561.15 34h1.23v0.07h-1.23zM562.32 34h1.23v0.07h-1.23z"/>
<rect x="247.8" y="162.8" width="85" height="5" fill="#dd620b"/>
<rect x="332.8" y="162.8" width="85" height="5" fill="#56b0e6"/>
<rect x="417.8" y="162.8" width="78.7" height="5" fill="#d47fb3"/>
<rect x="496.5" y="162.8" width="67" height="5" fill="#1b9e6e"/>
<text transform="translate(565.8 167.9) scale(0.88 1)" font-size="6" fill="#222">Risk_Category</text>
<path fill="#3d9de8" d="M247.8 187h1.24v20.65h-1.24zM248.98 187.7h1.24v19.95h-1.24zM250.16 189.74h1.24v17.91h-1.24zM251.35 189.11h1.24v18.54h-1.24zM252.53 193.87h1.24v13.78h-1.24zM253.71 183.62h1.24v24.03h-1.24zM254.89 190.26h1.24v17.39h-1.24zM256.08 184.57h1.24v23.08h-1.24zM257.26 187.67h1.24v19.98h-1.24zM258.44 187.78h1.24v19.87h-1.24zM259.62 199.12h1.24v8.53h-1.24zM260.81 194.32h1.24v13.33h-1.24zM261.99 190.82h1.24v16.83h-1.24zM263.17 194.48h1.24v13.17h-1.24zM264.35 185.78h1.24v21.87h-1.24zM265.54 183.17h1.24v24.48h-1.24zM266.72 191.9h1.24v15.75h-1.24zM267.9 200.89h1.24v6.76h-1.24zM269.08 187.79h1.24v19.86h-1.24zM270.27 189.62h1.24v18.03h-1.24zM271.45 185h1.24v22.65h-1.24zM272.63 193.48h1.24v14.17h-1.24zM273.81 191.17h1.24v16.48h-1.24zM275 193.83h1.24v13.82h-1.24zM276.18 201.19h1.24v6.46h-1.24zM277.36 188.98h1.24v18.67h-1.24zM278.54 195h1.24v12.65h-1.24zM279.72 186.49h1.24v21.16h-1.24zM280.91 185.4h1.24v22.25h-1.24zM282.09 192.07h1.24v15.58h-1.24zM283.27 191.97h1.24v15.68h-1.24zM284.45 193.44h1.24v14.21h-1.24zM285.64 189.06h1.24v18.59h-1.24zM286.82 190.74h1.24v16.91h-1.24zM288 186.56h1.24v21.09h-1.24zM289.18 190.75h1.24v16.9h-1.24zM290.37 188.73h1.24v18.92h-1.24zM291.55 189.08h1.24v18.57h-1.24zM292.73 189.77h1.24v17.88h-1.24zM293.91 200.1h1.24v7.55h-1.24zM295.1 204.82h1.24v2.83h-1.24zM296.28 200.65h1.24v7h-1.24zM297.46 197.21h1.24v10.44h-1.24zM301.01 200.54h1.24v7.11h-1.24zM302.19 198.47h1.24v9.18h-1.24zM303.37 199.76h1.24v7.89h-1.24zM304.56 198.2h1.24v9.45h-1.24zM305.74 191.93h1.24v15.72h-1.24zM306.92 186.31h1.24v21.34h-1.24zM308.1 189.88h1.24v17.77h-1.24zM309.28 188.65h1.24v19h-1.24zM310.47 194.44h1.24v13.21h-1.24zM311.65 188.03h1.24v19.62h-1.24zM312.83 186.16h1.24v21.49h-1.24zM314.01 188.41h1.24v19.24h-1.24zM315.2 188.52h1.24v19.13h-1.24zM316.38 187.84h1.24v19.81h-1.24zM317.56 187.92h1.24v19.73h-1.24zM318.74 192.25h1.24v15.4h-1.24zM319.93 198.74h1.24v8.91h-1.24zM321.11 191.05h1.24v16.6h-1.24zM322.29 183.85h1.24v23.8h-1.24zM323.47 193.87h1.24v13.78h-1.24zM324.66 187.6h1.24v20.05h-1.24zM325.84 184.16h1.24v23.49h-1.24zM327.02 182.9h1.24v24.75h-1.24zM328.2 187.38h1.24v20.27h-1.24zM329.39 192.62h1.24v15.03h-1.24zM330.57 187.03h1.24v20.62h-1.24zM331.75 186.7h1.24v20.95h-1.24zM332.93 196.51h1.24v11.14h-1.24zM334.11 187.04h1.24v20.61h-1.24zM335.3 190.17h1.24v17.48h-1.24zM336.48 187.57h1.24v20.08h-1.24zM337.66 193.14h1.24v14.51h-1.24zM338.84 192.21h1.24v15.44h-1.24zM340.03 185.84h1.24v21.81h-1.24zM341.21 184.21h1.24v23.44h-1.24zM342.39 199.34h1.24v8.31h-1.24zM343.57 187.61h1.24v20.04h-1.24zM344.76 186.55h1.24v21.1h-1.24zM345.94 181.42h1.24v26.23h-1.24zM347.12 191.04h1.24v16.61h-1.24zM348.3 195.14h1.24v12.51h-1.24zM349.49 195.59h1.24v12.06h-1.24zM350.67 183.02h1.24v24.63h-1.24zM351.85 192.66h1.24v14.99h-1.24zM353.03 195.17h1.24v12.48h-1.24zM354.22 193.69h1.24v13.96h-1.24zM355.4 186.32h1.24v21.33h-1.24zM356.58 194.18h1.24v13.47h-1.24zM357.76 190.22h1.24v17.43h-1.24zM358.95 186.99h1.24v20.66h-1.24zM360.13 189.47h1.24v18.18h-1.24zM361.31 186.74h1.24v20.91h-1.24zM362.49 181.86h1.24v25.79h-1.24zM363.67 187.35h1.24v20.3h-1.24zM364.86 182.06h1.24v25.59h-1.24zM366.04 192.41h1.24v15.24h-1.24zM367.22 192.5h1.24v15.15h-1.24zM368.4 188.69h1.24v18.96h-1.24zM369.59 195.62h1.24v12.03h-1.24zM370.77 200.51h1.24v7.14h-1.24zM371.95 197.44h1.24v10.21h-1.24zM373.13 192.08h1.24v15.57h-1.24zM374.32 196.59h1.24v11.06h-1.24zM375.5 197.58h1.24v10.07h-1.24zM376.68 200.1h1.24v7.55h-1.24zM377.86 193.82h1.24v13.83h-1.24zM379.05 190.01h1.24v17.64h-1.24zM380.23 187.36h1.24v20.29h-1.24zM381.41 186.7h1.24v20.95h-1.24zM382.59 190.39h1.24v17.26h-1.24zM383.78 190.23h1.24v17.42h-1.24zM384.96 186.43h1.24v21.22h-1.24zM386.14 191.65h1.24v16h-1.24zM387.32 191.61h1.24v16.04h-1.24zM388.51 192.9h1.24v14.75h-1.24zM389.69 190.87h1.24v16.78h-1.24zM390.87 192.53h1.24v15.12h-1.24zM392.05 203.78h1.24v3.87h-1.24zM393.23 207h1.24v0.65h-1.24zM394.42 195.1h1.24v12.55h-1.24zM395.6 196.2h1.24v11.45h-1.24zM396.78 190.55h1.24v17.1h-1.24zM397.96 197.04h1.24v10.61h-1.24zM399.15 187.76h1.24v19.89h-1.24zM400.33 194.12h1.24v13.53h-1.24zM401.51 185.95h1.24v21.7h-1.24zM402.69 194.31h1.24v13.34h-1.24zM403.88 184.5h1.24v23.15h-1.24zM405.06 188.27h1.24v19.38h-1.24zM406.24 189.97h1.24v17.68h-1.24zM407.42 188.82h1.24v18.83h-1.24zM408.61 187.65h1.24v20h-1.24zM409.79 186.16h1.24v21.49h-1.24zM410.97 195.93h1.24v11.72h-1.24zM412.15 204.59h1.24v3.06h-1.24zM413.34 196.33h1.24v11.32h-1.24zM414.52 188.08h1.24v19.57h-1.24zM415.7 188.08h1.24v19.57h-1.24zM416.88 193.97h1.24v13.68h-1.24zM418.07 189.05h1.24v18.6h-1.24zM419.25 194.66h1.24v12.99h-1.24zM420.43 188.88h1.24v18.77h-1.24zM421.61 197.46h1.24v10.19h-1.24zM422.79 192.8h1.24v14.85h-1.24zM423.98 187.64h1.24v20.01h-1.24zM425.16 185.16h1.24v22.49h-1.24zM426.34 188.57h1.24v19.08h-1.24zM427.52 193.51h1.24v14.14h-1.24zM428.71 189.18h1.24v18.47h-1.24zM429.89 193.87h1.24v13.78h-1.24zM431.07 188.26h1.24v19.39h-1.24zM432.25 191.93h1.24v15.72h-1.24zM433.44 199.79h1.24v7.86h-1.24zM434.62 187.53h1.24v20.12h-1.24zM435.8 187.16h1.24v20.49h-1.24zM436.98 185.33h1.24v22.32h-1.24zM438.17 189.82h1.24v17.83h-1.24zM439.35 188.88h1.24v18.77h-1.24zM440.53 193.81h1.24v13.84h-1.24zM441.71 187.8h1.24v19.85h-1.24zM442.9 189.68h1.24v17.97h-1.24zM444.08 193.91h1.24v13.74h-1.24zM445.26 191.97h1.24v15.68h-1.24zM446.44 184.93h1.24v22.72h-1.24zM447.63 186.73h1.24v20.92h-1.24zM448.81 183.88h1.24v23.77h-1.24zM449.99 194.37h1.24v13.28h-1.24zM451.17 204.57h1.24v3.08h-1.24zM452.35 196.46h1.24v11.19h-1.24zM453.54 193.24h1.24v14.41h-1.24zM454.72 195.1h1.24v12.55h-1.24zM455.9 193.6h1.24v14.05h-1.24zM457.08 184.69h1.24v22.96h-1.24zM458.27 195.6h1.24v12.05h-1.24zM459.45 189.58h1.24v18.07h-1.24zM460.63 185.92h1.24v21.73h-1.24zM461.81 192.05h1.24v15.6h-1.24zM463 193.21h1.24v14.44h-1.24zM464.18 204.21h1.24v3.44h-1.24zM465.36 183.65h1.24v24h-1.24zM466.54 189.48h1.24v18.17h-1.24zM467.73 188.91h1.24v18.74h-1.24zM468.91 187.65h1.24v20h-1.24zM470.09 193.47h1.24v14.18h-1.24zM471.27 191.06h1.24v16.59h-1.24zM472.46 199.41h1.24v8.24h-1.24zM473.64 198.21h1.24v9.44h-1.24zM474.82 189.34h1.24v18.31h-1.24zM476 187.07h1.24v20.58h-1.24zM477.19 191.5h1.24v16.15h-1.24zM478.37 187.25h1.24v20.4h-1.24zM479.55 193.68h1.24v13.97h-1.24zM480.73 186.87h1.24v20.78h-1.24zM481.91 189.89h1.24v17.76h-1.24zM483.1 186.96h1.24v20.69h-1.24zM484.28 201.14h1.24v6.51h-1.24zM485.46 184.82h1.24v22.83h-1.24zM486.64 191.78h1.24v15.87h-1.24zM487.83 194.13h1.24v13.52h-1.24zM489.01 196.06h1.24v11.59h-1.24zM490.19 193.62h1.24v14.03h-1.24zM491.37 194.13h1.24v13.52h-1.24zM492.56 192.02h1.24v15.63h-1.24zM493.74 191.23h1.24v16.42h-1.24zM494.92 186.78h1.24v20.87h-1.24zM496.1 193.4h1.24v14.25h-1.24zM497.29 202.08h1.24v5.57h-1.24zM498.47 186.02h1.24v21.63h-1.24zM499.65 192.15h1.24v15.5h-1.24zM500.83 193.31h1.24v14.34h-1.24zM502.02 190.52h1.24v17.13h-1.24zM503.2 189.31h1.24v18.34h-1.24zM504.38 191.96h1.24v15.69h-1.24zM505.56 197.53h1.24v10.12h-1.24zM506.74 186.06h1.24v21.59h-1.24zM507.93 184.98h1.24v22.67h-1.24zM509.11 187.05h1.24v20.6h-1.24zM510.29 185.84h1.24v21.81h-1.24zM511.47 190.54h1.24v17.11h-1.24zM512.66 184.15h1.24v23.5h-1.24zM513.84 196.55h1.24v11.1h-1.24zM515.02 185.67h1.24v21.98h-1.24zM516.2 191.19h1.24v16.46h-1.24zM517.39 190.46h1.24v17.19h-1.24zM518.57 190.56h1.24v17.09h-1.24zM519.75 190.57h1.24v17.08h-1.24zM520.93 196.05h1.24v11.6h-1.24zM522.12 190.65h1.24v17h-1.24zM523.3 192.95h1.24v14.7h-1.24zM524.48 190.08h1.24v17.57h-1.24zM525.66 188.22h1.24v19.43h-1.24zM526.85 195.39h1.24v12.26h-1.24zM528.03 184.92h1.24v22.73h-1.24zM529.21 187.16h1.24v20.49h-1.24zM530.39 191.55h1.24v16.1h-1.24zM531.58 200.69h1.24v6.96h-1.24zM532.76 186.8h1.24v20.85h-1.24zM533.94 188.42h1.24v19.23h-1.24zM535.12 194.62h1.24v13.03h-1.24zM536.3 185.3h1.24v22.35h-1.24zM537.49 193.07h1.24v14.58h-1.24zM538.67 188.14h1.24v19.51h-1.24zM539.85 191.57h1.24v16.08h-1.24zM541.03 185.7h1.24v21.95h-1.24zM542.22 193.67h1.24v13.98h-1.24zM543.4 187.75h1.24v19.9h-1.24zM544.58 203.04h1.24v4.61h-1.24zM545.76 197.42h1.24v10.23h-1.24zM546.95 191.27h1.24v16.38h-1.24zM548.13 196.24h1.24v11.41h-1.24zM549.31 195.07h1.24v12.58h-1.24zM550.49 192.2h1.24v15.45h-1.24zM551.68 199.46h1.24v8.19h-1.24zM552.86 194.13h1.24v13.52h-1.24zM554.04 183.75h1.24v23.9h-1.24zM555.22 195.21h1.24v12.44h-1.24zM556.41 186.94h1.24v20.71h-1.24zM557.59 191.04h1.24v16.61h-1.24zM558.77 192.25h1.24v15.4h-1.24zM559.95 204.98h1.24v2.67h-1.24zM561.14 192.36h1.24v15.29h-1.24zM562.32 188.8h1.24v18.85h-1.24z"/>
<path fill="#4147a8" d="M247.8 184.76h1.24v2.29h-1.24zM248.98 185.74h1.24v2.01h-1.24zM250.16 188.5h1.24v1.29h-1.24zM251.35 186.93h1.24v2.24h-1.24zM252.53 192.24h1.24v1.68h-1.24zM253.71 181.11h1.24v2.57h-1.24zM254.89 186.56h1.24v3.75h-1.24zM256.08 182.37h1.24v2.26h-1.24zM257.26 183.85h1.24v3.87h-1.24zM258.44 186.38h1.24v1.45h-1.24zM259.62 190.23h1.24v8.95h-1.24zM260.81 188.99h1.24v5.38h-1.24zM261.99 183.9h1.24v6.97h-1.24zM263.17 192.06h1.24v2.48h-1.24zM264.35 184.51h1.24v1.32h-1.24zM265.54 181.01h1.24v2.21h-1.24zM266.72 183.88h1.24v8.07h-1.24zM267.9 197.91h1.24v3.03h-1.24zM269.08 185.73h1.24v2.12h-1.24zM270.27 188.31h1.24v1.36h-1.24zM271.45 183.21h1.24v1.85h-1.24zM272.63 189.4h1.24v4.12h-1.24zM273.81 187.96h1.24v3.26h-1.24zM275 185.04h1.24v8.85h-1.24zM276.18 194.89h1.24v6.34h-1.24zM277.36 185.18h1.24v3.85h-1.24zM278.54 191.82h1.24v3.23h-1.24zM279.72 184.9h1.24v1.64h-1.24zM280.91 182.78h1.24v2.66h-1.24zM282.09 190.69h1.24v1.43h-1.24zM283.27 188.69h1.24v3.33h-1.24zM284.45 186.7h1.24v6.79h-1.24zM285.64 187.87h1.24v1.24h-1.24zM286.82 187h1.24v3.79h-1.24zM288 183.89h1.24v2.73h-1.24zM289.18 189.29h1.24v1.52h-1.24zM290.37 185.41h1.24v3.36h-1.24zM291.55 186.94h1.24v2.19h-1.24zM292.73 186.98h1.24v2.84h-1.24zM293.91 193.69h1.24v6.46h-1.24zM295.1 203.52h1.24v1.35h-1.24zM296.28 196.97h1.24v3.73h-1.24zM297.46 195.45h1.24v1.81h-1.24zM298.64 200.78h1.24v6.87h-1.24zM299.83 201.92h1.24v5.73h-1.24zM301.01 197.05h1.24v3.54h-1.24zM302.19 197.28h1.24v1.24h-1.24zM303.37 197.2h1.24v2.61h-1.24zM304.56 194.34h1.24v3.92h-1.24zM305.74 189.93h1.24v2.04h-1.24zM306.92 183.22h1.24v3.15h-1.24zM308.1 187.68h1.24v2.24h-1.24zM309.28 186.49h1.24v2.21h-1.24zM310.47 190.82h1.24v3.67h-1.24zM311.65 185.69h1.24v2.4h-1.24zM312.83 184.49h1.24v1.72h-1.24zM314.01 185.86h1.24v2.6h-1.24zM315.2 186.37h1.24v2.2h-1.24zM316.38 184.28h1.24v3.61h-1.24zM317.56 186.23h1.24v1.75h-1.24zM318.74 188.87h1.24v3.43h-1.24zM319.93 197.33h1.24v1.46h-1.24zM321.11 188.65h1.24v2.45h-1.24zM322.29 181.8h1.24v2.1h-1.24zM323.47 190.9h1.24v3.02h-1.24zM324.66 184.22h1.24v3.43h-1.24zM325.84 181.28h1.24v2.93h-1.24zM327.02 181.71h1.24v1.24h-1.24zM328.2 184.41h1.24v3.02h-1.24zM329.39 189.51h1.24v3.16h-1.24zM330.57 185.18h1.24v1.9h-1.24zM331.75 184.32h1.24v2.43h-1.24zM332.93 192.21h1.24v4.36h-1.24zM334.11 184.38h1.24v2.71h-1.24zM335.3 181.78h1.24v8.44h-1.24zM336.48 185.88h1.24v1.74h-1.24zM337.66 189.42h1.24v3.77h-1.24zM338.84 188.24h1.24v4.02h-1.24zM340.03 183.49h1.24v2.4h-1.24zM341.21 181.4h1.24v2.86h-1.24zM342.39 190.41h1.24v8.98h-1.24zM343.57 185.1h1.24v2.56h-1.24zM344.76 184.16h1.24v2.45h-1.24zM345.94 180.02h1.24v1.44h-1.24zM347.12 185.37h1.24v5.72h-1.24zM348.3 190.57h1.24v4.62h-1.24zM349.49 189.72h1.24v5.92h-1.24zM350.67 180.73h1.24v2.34h-1.24zM351.85 190.53h1.24v2.18h-1.24zM353.03 192.2h1.24v3.02h-1.24zM354.22 192.03h1.24v1.71h-1.24zM355.4 184.32h1.24v2.05h-1.24zM356.58 190.43h1.24v3.8h-1.24zM357.76 186.48h1.24v3.79h-1.24zM358.95 185.18h1.24v1.87h-1.24zM360.13 185.71h1.24v3.81h-1.24zM361.31 183.99h1.24v2.81h-1.24zM362.49 180.37h1.24v1.54h-1.24zM363.67 185.78h1.24v1.62h-1.24zM364.86 180.58h1.24v1.53h-1.24zM366.04 189.9h1.24v2.56h-1.24zM367.22 186.82h1.24v5.73h-1.24zM368.4 186.18h1.24v2.56h-1.24zM369.59 193.55h1.24v2.12h-1.24zM370.77 198.62h1.24v1.94h-1.24zM371.95 193.86h1.24v3.63h-1.24zM373.13 190.56h1.24v1.57h-1.24zM374.32 194.53h1.24v2.12h-1.24zM375.5 192.6h1.24v5.03h-1.24zM376.68 198.5h1.24v1.66h-1.24zM377.86 190.99h1.24v2.88h-1.24zM379.05 188.69h1.24v1.37h-1.24zM380.23 184.14h1.24v3.27h-1.24zM381.41 185.24h1.24v1.52h-1.24zM382.59 181.88h1.24v8.56h-1.24zM383.78 187.38h1.24v2.91h-1.24zM384.96 185.1h1.24v1.38h-1.24zM386.14 189.01h1.24v2.69h-1.24zM387.32 189.53h1.24v2.13h-1.24zM388.51 190.54h1.24v2.41h-1.24zM389.69 187.91h1.24v3h-1.24zM390.87 185.54h1.24v7.04h-1.24zM392.05 197.81h1.24v6.02h-1.24zM393.23 201.82h1.24v5.22h-1.24zM394.42 193.04h1.24v2.11h-1.24zM395.6 194.99h1.24v1.26h-1.24zM396.78 187.95h1.24v2.66h-1.24zM397.96 193.59h1.24v3.51h-1.24zM399.15 186.06h1.24v1.75h-1.24zM400.33 190.97h1.24v3.19h-1.24zM401.51 184.11h1.24v1.89h-1.24zM402.69 187.48h1.24v6.88h-1.24zM403.88 182.2h1.24v2.35h-1.24zM405.06 184.47h1.24v3.85h-1.24zM406.24 186.85h1.24v3.17h-1.24zM407.42 183.15h1.24v5.72h-1.24zM408.61 184.08h1.24v3.62h-1.24zM409.79 184.8h1.24v1.41h-1.24zM410.97 190h1.24v5.98h-1.24zM412.15 201.83h1.24v2.81h-1.24zM413.34 194.7h1.24v1.67h-1.24zM414.52 185.8h1.24v2.32h-1.24zM415.7 185.12h1.24v3.01h-1.24zM416.88 191.71h1.24v2.31h-1.24zM418.07 187.82h1.24v1.29h-1.24zM419.25 192.35h1.24v2.36h-1.24zM420.43 183.32h1.24v5.61h-1.24zM421.61 196.27h1.24v1.23h-1.24zM422.79 186.49h1.24v6.36h-1.24zM423.98 186.38h1.24v1.3h-1.24zM425.16 181.51h1.24v3.71h-1.24zM426.34 187.25h1.24v1.37h-1.24zM427.52 190.03h1.24v3.52h-1.24zM428.71 186.91h1.24v2.32h-1.24zM429.89 190.84h1.24v3.07h-1.24zM431.07 185.22h1.24v3.09h-1.24zM432.25 188.33h1.24v3.64h-1.24zM433.44 191.4h1.24v8.44h-1.24zM434.62 185.97h1.24v1.6h-1.24zM435.8 184.94h1.24v2.27h-1.24zM436.98 182.04h1.24v3.34h-1.24zM438.17 185.96h1.24v3.91h-1.24zM439.35 187.19h1.24v1.74h-1.24zM440.53 191.66h1.24v2.2h-1.24zM441.71 186.14h1.24v1.71h-1.24zM442.9 186.32h1.24v3.41h-1.24zM444.08 190.26h1.24v3.69h-1.24zM445.26 189.09h1.24v2.93h-1.24zM446.44 183.34h1.24v1.64h-1.24zM447.63 183.42h1.24v3.37h-1.24zM448.81 181.87h1.24v2.06h-1.24zM449.99 191.32h1.24v3.1h-1.24zM451.17 196.98h1.24v7.64h-1.24zM452.35 191.47h1.24v5.04h-1.24zM453.54 189.7h1.24v3.59h-1.24zM454.72 192.41h1.24v2.73h-1.24zM455.9 190.22h1.24v3.43h-1.24zM457.08 181.15h1.24v3.6h-1.24zM458.27 193.54h1.24v2.11h-1.24zM459.45 186.63h1.24v3h-1.24zM460.63 184.44h1.24v1.53h-1.24zM461.81 189.26h1.24v2.83h-1.24zM463 189.81h1.24v3.45h-1.24zM464.18 200.58h1.24v3.68h-1.24zM465.36 182.37h1.24v1.33h-1.24zM466.54 182.52h1.24v7.01h-1.24zM467.73 183.8h1.24v5.16h-1.24zM468.91 180.47h1.24v7.22h-1.24zM470.09 190.87h1.24v2.65h-1.24zM471.27 189.66h1.24v1.45h-1.24zM472.46 198.24h1.24v1.23h-1.24zM473.64 195.43h1.24v2.83h-1.24zM474.82 186.99h1.24v2.4h-1.24zM476 185.19h1.24v1.93h-1.24zM477.19 188.54h1.24v3.02h-1.24zM478.37 183.97h1.24v3.33h-1.24zM479.55 192.2h1.24v1.53h-1.24zM480.73 184.54h1.24v2.39h-1.24zM481.91 187.31h1.24v2.63h-1.24zM483.1 183.66h1.24v3.36h-1.24zM484.28 198.75h1.24v2.44h-1.24zM485.46 181.07h1.24v3.79h-1.24zM486.64 188.55h1.24v3.27h-1.24zM487.83 186.7h1.24v7.48h-1.24zM489.01 189.48h1.24v6.63h-1.24zM490.19 187.49h1.24v6.17h-1.24zM491.37 189.23h1.24v4.95h-1.24zM492.56 185.92h1.24v6.16h-1.24zM493.74 186.43h1.24v4.85h-1.24zM494.92 185.28h1.24v1.54h-1.24zM496.1 189.89h1.24v3.56h-1.24zM497.29 199.9h1.24v2.23h-1.24zM498.47 182.39h1.24v3.68h-1.24zM499.65 188.88h1.24v3.33h-1.24zM500.83 190.8h1.24v2.56h-1.24zM502.02 186.9h1.24v3.67h-1.24zM503.2 188.16h1.24v1.21h-1.24zM504.38 190.42h1.24v1.59h-1.24zM505.56 193.73h1.24v3.85h-1.24zM506.74 183.41h1.24v2.69h-1.24zM507.93 182.13h1.24v2.89h-1.24zM509.11 185.83h1.24v1.27h-1.24zM510.29 184.63h1.24v1.27h-1.24zM511.47 188.62h1.24v1.97h-1.24zM512.66 182.54h1.24v1.66h-1.24zM513.84 192.91h1.24v3.69h-1.24zM515.02 181.9h1.24v3.82h-1.24zM516.2 187.39h1.24v3.85h-1.24zM517.39 188.06h1.24v2.46h-1.24zM518.57 181.92h1.24v8.69h-1.24zM519.75 184.72h1.24v5.9h-1.24zM520.93 192.42h1.24v3.68h-1.24zM522.12 189.29h1.24v1.41h-1.24zM523.3 187.63h1.24v5.38h-1.24zM524.48 186.56h1.24v3.58h-1.24zM525.66 185.08h1.24v3.19h-1.24zM526.85 191.58h1.24v3.87h-1.24zM528.03 182.12h1.24v2.85h-1.24zM529.21 185.29h1.24v1.91h-1.24zM530.39 188.72h1.24v2.88h-1.24zM531.58 198.41h1.24v2.33h-1.24zM532.76 184.36h1.24v2.49h-1.24zM533.94 184.61h1.24v3.86h-1.24zM535.12 190.06h1.24v4.61h-1.24zM536.3 184.13h1.24v1.22h-1.24zM537.49 189.92h1.24v3.2h-1.24zM538.67 185.9h1.24v2.29h-1.24zM539.85 189.91h1.24v1.71h-1.24zM541.03 184.26h1.24v1.49h-1.24zM542.22 192h1.24v1.72h-1.24zM543.4 185.01h1.24v2.8h-1.24zM544.58 197.75h1.24v5.34h-1.24zM545.76 196.03h1.24v1.44h-1.24zM546.95 188.84h1.24v2.48h-1.24zM548.13 195.04h1.24v1.26h-1.24zM549.31 192.63h1.24v2.48h-1.24zM550.49 190.24h1.24v2.01h-1.24zM551.68 191.76h1.24v7.75h-1.24zM552.86 190.91h1.24v3.27h-1.24zM554.04 181.4h1.24v2.4h-1.24zM555.22 188.8h1.24v6.45h-1.24zM556.41 185.28h1.24v1.71h-1.24zM557.59 188.54h1.24v2.55h-1.24zM558.77 186.91h1.24v5.39h-1.24zM559.95 202.24h1.24v2.79h-1.24zM561.14 188.64h1.24v3.77h-1.24zM562.32 186.48h1.24v2.37h-1.24z"/>
<path fill="#ea4a3a" d="M247.8 179.01h1.24v5.8h-1.24zM248.98 177.64h1.24v8.15h-1.24zM250.16 178.68h1.24v9.88h-1.24zM251.35 175.03h1.24v11.94h-1.24zM252.53 179.23h1.24v13.06h-1.24zM253.71 174.72h1.24v6.44h-1.24zM254.89 176.46h1.24v10.15h-1.24zM256.08 175.34h1.24v7.08h-1.24zM257.26 176.85h1.24v7.05h-1.24zM258.44 177.35h1.24v9.08h-1.24zM259.62 179.02h1.24v11.26h-1.24zM260.81 178.36h1.24v10.68h-1.24zM261.99 178.04h1.24v5.91h-1.24zM263.17 178.63h1.24v13.48h-1.24zM264.35 176.63h1.24v7.94h-1.24zM265.54 175.2h1.24v5.87h-1.24zM266.72 173.42h1.24v10.51h-1.24zM267.9 175.39h1.24v22.57h-1.24zM269.08 175.89h1.24v9.89h-1.24zM270.27 176.07h1.24v12.29h-1.24zM271.45 175.82h1.24v7.43h-1.24zM272.63 175.98h1.24v13.48h-1.24zM273.81 177.4h1.24v10.6h-1.24zM275 178.8h1.24v6.28h-1.24zM276.18 175.49h1.24v19.45h-1.24zM277.36 178.69h1.24v6.54h-1.24zM278.54 178.36h1.24v13.51h-1.24zM279.72 175.4h1.24v9.55h-1.24zM280.91 177.47h1.24v5.36h-1.24zM282.09 177.29h1.24v13.45h-1.24zM283.27 178.69h1.24v10.05h-1.24zM284.45 173.99h1.24v12.76h-1.24zM285.64 176.52h1.24v11.4h-1.24zM286.82 176.29h1.24v10.77h-1.24zM288 177.16h1.24v6.78h-1.24zM289.18 180.19h1.24v9.14h-1.24zM290.37 174.29h1.24v11.18h-1.24zM291.55 177.53h1.24v9.46h-1.24zM292.73 178.04h1.24v8.99h-1.24zM293.91 177.46h1.24v16.28h-1.24zM295.1 178.4h1.24v25.16h-1.24zM296.28 176.54h1.24v20.48h-1.24zM297.46 178.75h1.24v16.76h-1.24zM298.64 178.54h1.24v22.29h-1.24zM299.83 176.01h1.24v25.96h-1.24zM301.01 177.09h1.24v20.01h-1.24zM302.19 178.79h1.24v18.54h-1.24zM303.37 179.13h1.24v18.12h-1.24zM304.56 176.02h1.24v18.37h-1.24zM305.74 176.64h1.24v13.35h-1.24zM306.92 175.82h1.24v7.45h-1.24zM308.1 175.18h1.24v12.55h-1.24zM309.28 175.64h1.24v10.9h-1.24zM310.47 179.35h1.24v11.52h-1.24zM311.65 180.5h1.24v5.23h-1.24zM312.83 175.56h1.24v8.98h-1.24zM314.01 179.83h1.24v6.08h-1.24zM315.2 176.38h1.24v10.04h-1.24zM316.38 176.96h1.24v7.37h-1.24zM317.56 175.09h1.24v11.19h-1.24zM318.74 177.84h1.24v11.08h-1.24zM319.93 177.61h1.24v19.77h-1.24zM321.11 178.28h1.24v10.42h-1.24zM322.29 175.88h1.24v5.97h-1.24zM323.47 180.88h1.24v10.06h-1.24zM324.66 177.62h1.24v6.66h-1.24zM325.84 174.79h1.24v6.54h-1.24zM327.02 175.94h1.24v5.83h-1.24zM328.2 177.09h1.24v7.37h-1.24zM329.39 176.47h1.24v13.09h-1.24zM330.57 178.77h1.24v6.46h-1.24zM331.75 176.89h1.24v7.48h-1.24zM332.93 181.09h1.24v11.17h-1.24zM334.11 174.62h1.24v9.81h-1.24zM335.3 175.81h1.24v6.02h-1.24zM336.48 175.06h1.24v10.87h-1.24zM337.66 177.47h1.24v12h-1.24zM338.84 177.97h1.24v10.32h-1.24zM340.03 176.69h1.24v6.86h-1.24zM341.21 176.69h1.24v4.76h-1.24zM342.39 178.46h1.24v12h-1.24zM343.57 179.56h1.24v5.59h-1.24zM344.76 177.54h1.24v6.67h-1.24zM345.94 175.14h1.24v4.94h-1.24zM347.12 178.92h1.24v6.5h-1.24zM348.3 176.88h1.24v13.74h-1.24zM349.49 180.99h1.24v8.78h-1.24zM350.67 173.95h1.24v6.83h-1.24zM351.85 177.89h1.24v12.68h-1.24zM353.03 178.74h1.24v13.51h-1.24zM354.22 178.68h1.24v13.39h-1.24zM355.4 177.27h1.24v7.1h-1.24zM356.58 181.23h1.24v9.25h-1.24zM357.76 177.19h1.24v9.33h-1.24zM358.95 173.52h1.24v11.7h-1.24zM360.13 178.1h1.24v7.66h-1.24zM361.31 176.92h1.24v7.12h-1.24zM362.49 175.3h1.24v5.12h-1.24zM363.67 179.81h1.24v6.03h-1.24zM364.86 175.98h1.24v4.65h-1.24zM366.04 179.25h1.24v10.71h-1.24zM367.22 179.16h1.24v7.71h-1.24zM368.4 176.12h1.24v10.11h-1.24zM369.59 176.94h1.24v16.66h-1.24zM370.77 177.72h1.24v20.95h-1.24zM371.95 175.38h1.24v18.52h-1.24zM373.13 176.51h1.24v14.1h-1.24zM374.32 177.23h1.24v17.35h-1.24zM375.5 176.68h1.24v15.98h-1.24zM376.68 179.41h1.24v19.13h-1.24zM377.86 177.61h1.24v13.43h-1.24zM379.05 176.86h1.24v11.88h-1.24zM380.23 176.98h1.24v7.21h-1.24zM381.41 176.88h1.24v8.41h-1.24zM382.59 174.99h1.24v6.93h-1.24zM383.78 177.88h1.24v9.55h-1.24zM384.96 177.66h1.24v7.49h-1.24zM386.14 177.35h1.24v11.72h-1.24zM387.32 179.86h1.24v9.71h-1.24zM388.51 178.9h1.24v11.69h-1.24zM389.69 177.02h1.24v10.94h-1.24zM390.87 178.09h1.24v7.51h-1.24zM392.05 174.45h1.24v23.41h-1.24zM393.23 179.24h1.24v22.64h-1.24zM394.42 176.9h1.24v16.18h-1.24zM395.6 176.29h1.24v18.75h-1.24zM396.78 173.68h1.24v14.32h-1.24zM397.96 179.51h1.24v14.12h-1.24zM399.15 176.76h1.24v9.35h-1.24zM400.33 179.68h1.24v11.35h-1.24zM401.51 176.65h1.24v7.51h-1.24zM402.69 175.07h1.24v12.46h-1.24zM403.88 175.2h1.24v7.05h-1.24zM405.06 178.67h1.24v5.85h-1.24zM406.24 178.47h1.24v8.42h-1.24zM407.42 177.69h1.24v5.51h-1.24zM408.61 177.71h1.24v6.42h-1.24zM409.79 174.69h1.24v10.15h-1.24zM410.97 176.34h1.24v13.71h-1.24zM412.15 176.75h1.24v25.13h-1.24zM413.34 176.03h1.24v18.72h-1.24zM414.52 177.66h1.24v8.19h-1.24zM415.7 178.79h1.24v6.38h-1.24zM416.88 178.82h1.24v12.94h-1.24zM418.07 174.43h1.24v13.44h-1.24zM419.25 176.57h1.24v15.83h-1.24zM420.43 177.14h1.24v6.23h-1.24zM421.61 177.43h1.24v18.89h-1.24zM422.79 173.47h1.24v13.07h-1.24zM423.98 178.82h1.24v7.61h-1.24zM425.16 174.36h1.24v7.2h-1.24zM426.34 175.64h1.24v11.66h-1.24zM427.52 177.14h1.24v12.95h-1.24zM428.71 179.33h1.24v7.63h-1.24zM429.89 177.47h1.24v13.42h-1.24zM431.07 175.72h1.24v9.55h-1.24zM432.25 174.69h1.24v13.7h-1.24zM433.44 179.7h1.24v11.76h-1.24zM434.62 177.24h1.24v8.78h-1.24zM435.8 177.57h1.24v7.42h-1.24zM436.98 175.83h1.24v6.26h-1.24zM438.17 176.6h1.24v9.41h-1.24zM439.35 175.76h1.24v11.48h-1.24zM440.53 178.7h1.24v13.01h-1.24zM441.71 179.36h1.24v6.83h-1.24zM442.9 177.82h1.24v8.55h-1.24zM444.08 176.93h1.24v13.39h-1.24zM445.26 178.49h1.24v10.65h-1.24zM446.44 176.1h1.24v7.29h-1.24zM447.63 177.68h1.24v5.78h-1.24zM448.81 175.71h1.24v6.2h-1.24zM449.99 177.82h1.24v13.55h-1.24zM451.17 177.31h1.24v19.72h-1.24zM452.35 177.65h1.24v13.87h-1.24zM453.54 176.97h1.24v12.77h-1.24zM454.72 175.32h1.24v17.14h-1.24zM455.9 175.6h1.24v14.67h-1.24zM457.08 175.82h1.24v5.38h-1.24zM458.27 174.97h1.24v18.62h-1.24zM459.45 177.72h1.24v8.97h-1.24zM460.63 174.88h1.24v9.61h-1.24zM461.81 175.66h1.24v13.66h-1.24zM463 177.03h1.24v12.83h-1.24zM464.18 178.48h1.24v22.15h-1.24zM465.36 176.28h1.24v6.14h-1.24zM466.54 177.02h1.24v5.54h-1.24zM467.73 175.14h1.24v8.71h-1.24zM468.91 174.55h1.24v5.97h-1.24zM470.09 179.28h1.24v11.63h-1.24zM471.27 177.89h1.24v11.82h-1.24zM472.46 178.25h1.24v20.04h-1.24zM473.64 176.64h1.24v18.84h-1.24zM474.82 177.79h1.24v9.25h-1.24zM476 176.41h1.24v8.82h-1.24zM477.19 179.7h1.24v8.89h-1.24zM478.37 176.04h1.24v7.97h-1.24zM479.55 179.1h1.24v13.14h-1.24zM480.73 177.35h1.24v7.24h-1.24zM481.91 177.02h1.24v10.34h-1.24zM483.1 174.33h1.24v9.38h-1.24zM484.28 178.67h1.24v20.13h-1.24zM485.46 174.21h1.24v6.92h-1.24zM486.64 177.71h1.24v10.89h-1.24zM487.83 177.59h1.24v9.16h-1.24zM489.01 178.78h1.24v10.75h-1.24zM490.19 178.89h1.24v8.65h-1.24zM491.37 178.45h1.24v10.83h-1.24zM492.56 178.33h1.24v7.64h-1.24zM493.74 176.62h1.24v9.86h-1.24zM494.92 177.33h1.24v8h-1.24zM496.1 177.26h1.24v12.68h-1.24zM497.29 177.9h1.24v22.05h-1.24zM498.47 177.6h1.24v4.83h-1.24zM499.65 178.12h1.24v10.8h-1.24zM500.83 175.82h1.24v15.03h-1.24zM502.02 176.36h1.24v10.6h-1.24zM503.2 177.53h1.24v10.67h-1.24zM504.38 178.02h1.24v12.45h-1.24zM505.56 177.21h1.24v16.57h-1.24zM506.74 177.36h1.24v6.11h-1.24zM507.93 176.8h1.24v5.38h-1.24zM509.11 174.14h1.24v11.74h-1.24zM510.29 177.54h1.24v7.14h-1.24zM511.47 178.59h1.24v10.09h-1.24zM512.66 176.32h1.24v6.26h-1.24zM513.84 175.63h1.24v17.33h-1.24zM515.02 176.39h1.24v5.55h-1.24zM516.2 179.58h1.24v7.86h-1.24zM517.39 175.87h1.24v12.24h-1.24zM518.57 175.84h1.24v6.13h-1.24zM519.75 178.82h1.24v5.95h-1.24zM520.93 178.8h1.24v13.67h-1.24zM522.12 178.29h1.24v11.05h-1.24zM523.3 177.74h1.24v9.94h-1.24zM524.48 178.33h1.24v8.27h-1.24zM525.66 176.89h1.24v8.24h-1.24zM526.85 175.85h1.24v15.78h-1.24zM528.03 176.01h1.24v6.16h-1.24zM529.21 179.26h1.24v6.08h-1.24zM530.39 176.54h1.24v12.22h-1.24zM531.58 178.5h1.24v19.96h-1.24zM532.76 177.53h1.24v6.88h-1.24zM533.94 177.64h1.24v7.02h-1.24zM535.12 176.93h1.24v13.18h-1.24zM536.3 176.68h1.24v7.49h-1.24zM537.49 176.42h1.24v13.56h-1.24zM538.67 176.07h1.24v9.88h-1.24zM539.85 179.94h1.24v10.02h-1.24zM541.03 175.52h1.24v8.79h-1.24zM542.22 178.81h1.24v13.24h-1.24zM543.4 174.72h1.24v10.34h-1.24zM544.58 175.39h1.24v22.41h-1.24zM545.76 178.35h1.24v17.73h-1.24zM546.95 177.78h1.24v11.11h-1.24zM548.13 178.68h1.24v16.4h-1.24zM549.31 177.7h1.24v14.99h-1.24zM550.49 177.42h1.24v12.87h-1.24zM551.68 178.3h1.24v13.52h-1.24zM552.86 177.88h1.24v13.08h-1.24zM554.04 175.36h1.24v6.09h-1.24zM555.22 176.48h1.24v12.37h-1.24zM556.41 176.98h1.24v8.35h-1.24zM557.59 177.43h1.24v11.16h-1.24zM558.77 175.44h1.24v11.52h-1.24zM559.95 178.57h1.24v23.72h-1.24zM561.14 176.25h1.24v12.44h-1.24zM562.32 178.4h1.24v8.13h-1.24z"/>
<path fill="#f7c81a" d="M247.8 175.72h1.24v3.34h-1.24zM248.98 176.35h1.24v1.35h-1.24zM250.16 175.6h1.24v3.13h-1.24zM251.35 173.36h1.24v1.72h-1.24zM252.53 175.95h1.24v3.33h-1.24zM253.71 172.04h1.24v2.73h-1.24zM254.89 174.53h1.24v1.98h-1.24zM256.08 171.59h1.24v3.8h-1.24zM257.26 173.78h1.24v3.13h-1.24zM258.44 176.06h1.24v1.34h-1.24zM259.62 175.35h1.24v3.72h-1.24zM260.81 175.01h1.24v3.4h-1.24zM261.99 175.45h1.24v2.64h-1.24zM263.17 174.16h1.24v4.51h-1.24zM264.35 174.26h1.24v2.41h-1.24zM265.54 172.82h1.24v2.43h-1.24zM266.72 171.91h1.24v1.56h-1.24zM267.9 172.77h1.24v2.67h-1.24zM269.08 172.53h1.24v3.41h-1.24zM270.27 171.75h1.24v4.37h-1.24zM271.45 173.56h1.24v2.32h-1.24zM272.63 172.72h1.24v3.31h-1.24zM273.81 174.6h1.24v2.85h-1.24zM275 174.41h1.24v4.44h-1.24zM276.18 172.47h1.24v3.07h-1.24zM277.36 175.63h1.24v3.11h-1.24zM278.54 174.88h1.24v3.53h-1.24zM279.72 172.74h1.24v2.72h-1.24zM280.91 175.86h1.24v1.67h-1.24zM282.09 174.24h1.24v3.11h-1.24zM283.27 175.68h1.24v3.05h-1.24zM284.45 172.53h1.24v1.52h-1.24zM285.64 172.92h1.24v3.65h-1.24zM286.82 172.81h1.24v3.53h-1.24zM288 173.33h1.24v3.88h-1.24zM289.18 176.2h1.24v4.05h-1.24zM290.37 173.04h1.24v1.29h-1.24zM291.55 173.98h1.24v3.6h-1.24zM292.73 176.15h1.24v1.93h-1.24zM293.91 174.17h1.24v3.34h-1.24zM295.1 175.91h1.24v2.55h-1.24zM296.28 174.8h1.24v1.79h-1.24zM297.46 174.89h1.24v3.9h-1.24zM298.64 174.36h1.24v4.23h-1.24zM299.83 174.35h1.24v1.71h-1.24zM301.01 172.67h1.24v4.47h-1.24zM302.19 175.69h1.24v3.15h-1.24zM303.37 174.58h1.24v4.6h-1.24zM304.56 173.87h1.24v2.21h-1.24zM305.74 175.31h1.24v1.38h-1.24zM306.92 173.72h1.24v2.15h-1.24zM308.1 173.42h1.24v1.81h-1.24zM309.28 172.84h1.24v2.84h-1.24zM310.47 175.31h1.24v4.08h-1.24zM311.65 176.52h1.24v4.04h-1.24zM312.83 173.92h1.24v1.7h-1.24zM314.01 175.38h1.24v4.5h-1.24zM315.2 173.77h1.24v2.65h-1.24zM316.38 175.06h1.24v1.95h-1.24zM317.56 173.75h1.24v1.39h-1.24zM318.74 175.85h1.24v2.04h-1.24zM319.93 174.52h1.24v3.14h-1.24zM321.11 174.41h1.24v3.93h-1.24zM322.29 172.71h1.24v3.22h-1.24zM323.47 176.53h1.24v4.4h-1.24zM324.66 175.05h1.24v2.62h-1.24zM325.84 173.38h1.24v1.46h-1.24zM327.02 172.87h1.24v3.11h-1.24zM328.2 174.17h1.24v2.97h-1.24zM329.39 174.9h1.24v1.61h-1.24zM330.57 175.71h1.24v3.11h-1.24zM331.75 172.78h1.24v4.16h-1.24zM332.93 176.75h1.24v4.39h-1.24zM334.11 172.64h1.24v2.03h-1.24zM335.3 174.38h1.24v1.48h-1.24zM336.48 172.76h1.24v2.35h-1.24zM337.66 174.29h1.24v3.23h-1.24zM338.84 176.18h1.24v1.84h-1.24zM340.03 173.86h1.24v2.88h-1.24zM341.21 174.34h1.24v2.4h-1.24zM342.39 174.87h1.24v3.65h-1.24zM343.57 175.56h1.24v4.05h-1.24zM344.76 174.48h1.24v3.1h-1.24zM345.94 171.55h1.24v3.64h-1.24zM347.12 174.99h1.24v3.98h-1.24zM348.3 174.42h1.24v2.52h-1.24zM349.49 176.44h1.24v4.59h-1.24zM350.67 172.79h1.24v1.21h-1.24zM351.85 173.63h1.24v4.32h-1.24zM353.03 176.22h1.24v2.57h-1.24zM354.22 174.98h1.24v3.75h-1.24zM355.4 173.37h1.24v3.95h-1.24zM356.58 176.65h1.24v4.62h-1.24zM357.76 173.59h1.24v3.65h-1.24zM358.95 172.11h1.24v1.47h-1.24zM360.13 174.25h1.24v3.9h-1.24zM361.31 172.72h1.24v4.25h-1.24zM362.49 172.54h1.24v2.81h-1.24zM363.67 175.37h1.24v4.48h-1.24zM364.86 173.06h1.24v2.97h-1.24zM366.04 176.09h1.24v3.21h-1.24zM367.22 176.15h1.24v3.07h-1.24zM368.4 173.41h1.24v2.76h-1.24zM369.59 173.88h1.24v3.11h-1.24zM370.77 174.74h1.24v3.02h-1.24zM371.95 171.57h1.24v3.87h-1.24zM373.13 173.72h1.24v2.84h-1.24zM374.32 175.74h1.24v1.54h-1.24zM375.5 174.22h1.24v2.51h-1.24zM376.68 175.89h1.24v3.57h-1.24zM377.86 173.86h1.24v3.8h-1.24zM379.05 173.01h1.24v3.91h-1.24zM380.23 173.31h1.24v3.72h-1.24zM381.41 175.56h1.24v1.36h-1.24zM382.59 173.09h1.24v1.95h-1.24zM383.78 174.04h1.24v3.89h-1.24zM384.96 173.15h1.24v4.55h-1.24zM386.14 175.41h1.24v1.99h-1.24zM387.32 175.66h1.24v4.25h-1.24zM388.51 174.93h1.24v4.02h-1.24zM389.69 174.97h1.24v2.1h-1.24zM390.87 174.96h1.24v3.18h-1.24zM392.05 173.1h1.24v1.4h-1.24zM393.23 175.78h1.24v3.51h-1.24zM394.42 173.42h1.24v3.53h-1.24zM395.6 174.89h1.24v1.45h-1.24zM396.78 171.8h1.24v1.93h-1.24zM397.96 175.95h1.24v3.61h-1.24zM399.15 175.15h1.24v1.67h-1.24zM400.33 176.4h1.24v3.33h-1.24zM401.51 174.74h1.24v1.96h-1.24zM402.69 173.51h1.24v1.61h-1.24zM403.88 173.22h1.24v2.03h-1.24zM405.06 175.85h1.24v2.88h-1.24zM406.24 176.21h1.24v2.31h-1.24zM407.42 174.8h1.24v2.94h-1.24zM408.61 173.17h1.24v4.59h-1.24zM409.79 171.79h1.24v2.95h-1.24zM410.97 172.05h1.24v4.34h-1.24zM412.15 172.29h1.24v4.51h-1.24zM413.34 173.64h1.24v2.45h-1.24zM414.52 173.33h1.24v4.38h-1.24zM415.7 175.89h1.24v2.94h-1.24zM416.88 175.48h1.24v3.39h-1.24zM418.07 171.91h1.24v2.57h-1.24zM419.25 175.04h1.24v1.57h-1.24zM420.43 173.08h1.24v4.11h-1.24zM421.61 174.98h1.24v2.5h-1.24zM422.79 172.24h1.24v1.27h-1.24zM423.98 175.51h1.24v3.36h-1.24zM425.16 171.61h1.24v2.79h-1.24zM426.34 172.99h1.24v2.7h-1.24zM427.52 172.91h1.24v4.28h-1.24zM428.71 174.84h1.24v4.54h-1.24zM429.89 174.61h1.24v2.92h-1.24zM431.07 174.41h1.24v1.36h-1.24zM432.25 173.42h1.24v1.32h-1.24zM433.44 176.09h1.24v3.65h-1.24zM434.62 175.43h1.24v1.86h-1.24zM435.8 176h1.24v1.62h-1.24zM436.98 174.35h1.24v1.53h-1.24zM438.17 174.94h1.24v1.71h-1.24zM439.35 172.51h1.24v3.3h-1.24zM440.53 175.8h1.24v2.94h-1.24zM441.71 176.19h1.24v3.22h-1.24zM442.9 173.79h1.24v4.07h-1.24zM444.08 175.21h1.24v1.77h-1.24zM445.26 175.56h1.24v2.99h-1.24zM446.44 172.57h1.24v3.58h-1.24zM447.63 174.53h1.24v3.2h-1.24zM448.81 173.34h1.24v2.42h-1.24zM449.99 174.42h1.24v3.46h-1.24zM451.17 173.62h1.24v3.74h-1.24zM452.35 173.21h1.24v4.49h-1.24zM453.54 172.78h1.24v4.25h-1.24zM454.72 172.4h1.24v2.97h-1.24zM455.9 173.64h1.24v2.01h-1.24zM457.08 174.51h1.24v1.36h-1.24zM458.27 173.08h1.24v1.94h-1.24zM459.45 173.48h1.24v4.29h-1.24zM460.63 173.59h1.24v1.34h-1.24zM461.81 174.39h1.24v1.32h-1.24zM463 173.82h1.24v3.26h-1.24zM464.18 174.21h1.24v4.32h-1.24zM465.36 173.68h1.24v2.65h-1.24zM466.54 173.13h1.24v3.94h-1.24zM467.73 171.51h1.24v3.68h-1.24zM468.91 173.04h1.24v1.56h-1.24zM470.09 175.34h1.24v3.99h-1.24zM471.27 175.91h1.24v2.03h-1.24zM472.46 175.33h1.24v2.97h-1.24zM473.64 172.44h1.24v4.25h-1.24zM474.82 175.36h1.24v2.48h-1.24zM476 174.72h1.24v1.74h-1.24zM477.19 176.24h1.24v3.5h-1.24zM478.37 173.83h1.24v2.27h-1.24zM479.55 176h1.24v3.15h-1.24zM480.73 173.24h1.24v4.16h-1.24zM481.91 175.45h1.24v1.62h-1.24zM483.1 172.17h1.24v2.2h-1.24zM484.28 175.71h1.24v3h-1.24zM485.46 172.68h1.24v1.58h-1.24zM486.64 174.36h1.24v3.41h-1.24zM487.83 175.42h1.24v2.22h-1.24zM489.01 175.45h1.24v3.38h-1.24zM490.19 174.99h1.24v3.96h-1.24zM491.37 174.96h1.24v3.54h-1.24zM492.56 174.53h1.24v3.85h-1.24zM493.74 172.26h1.24v4.41h-1.24zM494.92 174.45h1.24v2.94h-1.24zM496.1 175.52h1.24v1.79h-1.24zM497.29 173.6h1.24v4.36h-1.24zM498.47 173.15h1.24v4.51h-1.24zM499.65 175.24h1.24v2.93h-1.24zM500.83 174.58h1.24v1.29h-1.24zM502.02 173.69h1.24v2.72h-1.24zM503.2 175.11h1.24v2.47h-1.24zM504.38 173.62h1.24v4.45h-1.24zM505.56 173.13h1.24v4.14h-1.24zM506.74 172.89h1.24v4.51h-1.24zM507.93 175.35h1.24v1.5h-1.24zM509.11 171.42h1.24v2.77h-1.24zM510.29 173.39h1.24v4.2h-1.24zM511.47 175.01h1.24v3.62h-1.24zM512.66 172.51h1.24v3.86h-1.24zM513.84 174.42h1.24v1.26h-1.24zM515.02 172.23h1.24v4.22h-1.24zM516.2 175.93h1.24v3.71h-1.24zM517.39 173.06h1.24v2.86h-1.24zM518.57 174.15h1.24v1.74h-1.24zM519.75 175.4h1.24v3.47h-1.24zM520.93 174.65h1.24v4.19h-1.24zM522.12 175.77h1.24v2.57h-1.24zM523.3 175.01h1.24v2.78h-1.24zM524.48 174.73h1.24v3.65h-1.24zM525.66 172.84h1.24v4.1h-1.24zM526.85 173.78h1.24v2.12h-1.24zM528.03 172.96h1.24v3.1h-1.24zM529.21 175.25h1.24v4.06h-1.24zM530.39 172.35h1.24v4.25h-1.24zM531.58 175.98h1.24v2.56h-1.24zM532.76 175.02h1.24v2.56h-1.24zM533.94 175.25h1.24v2.44h-1.24zM535.12 173.2h1.24v3.78h-1.24zM536.3 172.52h1.24v4.21h-1.24zM537.49 172.89h1.24v3.58h-1.24zM538.67 172.67h1.24v3.45h-1.24zM539.85 175.4h1.24v4.58h-1.24zM541.03 174.24h1.24v1.34h-1.24zM542.22 176.3h1.24v2.56h-1.24zM543.4 172.99h1.24v1.78h-1.24zM544.58 172.77h1.24v2.66h-1.24zM545.76 175.05h1.24v3.36h-1.24zM546.95 175.67h1.24v2.16h-1.24zM548.13 176.19h1.24v2.54h-1.24zM549.31 175.8h1.24v1.95h-1.24zM550.49 175.19h1.24v2.29h-1.24zM551.68 174.84h1.24v3.51h-1.24zM552.86 173.8h1.24v4.13h-1.24zM554.04 174.05h1.24v1.36h-1.24zM555.22 175.21h1.24v1.32h-1.24zM556.41 175.82h1.24v1.21h-1.24zM557.59 173.28h1.24v4.19h-1.24zM558.77 172.95h1.24v2.54h-1.24zM559.95 175.44h1.24v3.19h-1.24zM561.14 173.88h1.24v2.42h-1.24zM562.32 174.73h1.24v3.72h-1.24z"/>
<path fill="#4cae4c" d="M247.8 169.77h1.24v6h-1.24zM248.98 170.38h1.24v6.02h-1.24zM250.16 170.4h1.24v5.24h-1.24zM251.35 169.86h1.24v3.55h-1.24zM252.53 170.62h1.24v5.38h-1.24zM253.71 169.51h1.24v2.58h-1.24zM254.89 170.27h1.24v4.3h-1.24zM256.08 169.63h1.24v2.01h-1.24zM257.26 169.87h1.24v3.96h-1.24zM258.44 170.05h1.24v6.06h-1.24zM259.62 170.73h1.24v4.67h-1.24zM260.81 170.71h1.24v4.35h-1.24zM261.99 170.08h1.24v5.42h-1.24zM263.17 169.98h1.24v4.23h-1.24zM264.35 169.63h1.24v4.68h-1.24zM265.54 169.42h1.24v3.45h-1.24zM266.72 169.68h1.24v2.28h-1.24zM267.9 169.57h1.24v3.25h-1.24zM269.08 169.72h1.24v2.87h-1.24zM270.27 169.69h1.24v2.11h-1.24zM271.45 170.31h1.24v3.3h-1.24zM272.63 169.96h1.24v2.81h-1.24zM273.81 170.59h1.24v4.06h-1.24zM275 170.54h1.24v3.92h-1.24zM276.18 170.03h1.24v2.5h-1.24zM277.36 170.22h1.24v5.47h-1.24zM278.54 170.66h1.24v4.27h-1.24zM279.72 169.97h1.24v2.82h-1.24zM280.91 170.46h1.24v5.44h-1.24zM282.09 170.52h1.24v3.77h-1.24zM283.27 169.96h1.24v5.78h-1.24zM284.45 170.59h1.24v1.99h-1.24zM285.64 170.12h1.24v2.85h-1.24zM286.82 170.26h1.24v2.6h-1.24zM288 169.46h1.24v3.92h-1.24zM289.18 170.31h1.24v5.94h-1.24zM290.37 170.32h1.24v2.78h-1.24zM291.55 170.3h1.24v3.73h-1.24zM292.73 170.72h1.24v5.49h-1.24zM293.91 170.2h1.24v4.02h-1.24zM295.1 170.4h1.24v5.55h-1.24zM296.28 169.53h1.24v5.32h-1.24zM297.46 170.21h1.24v4.73h-1.24zM298.64 170.14h1.24v4.27h-1.24zM299.83 169.97h1.24v4.43h-1.24zM301.01 170.25h1.24v2.47h-1.24zM302.19 169.7h1.24v6.04h-1.24zM303.37 169.77h1.24v4.86h-1.24zM304.56 169.89h1.24v4.02h-1.24zM305.74 169.99h1.24v5.37h-1.24zM306.92 170.32h1.24v3.45h-1.24zM308.1 169.42h1.24v4.05h-1.24zM309.28 169.67h1.24v3.23h-1.24zM310.47 170.25h1.24v5.11h-1.24zM311.65 170.48h1.24v6.09h-1.24zM312.83 170.64h1.24v3.33h-1.24zM314.01 170.28h1.24v5.15h-1.24zM315.2 169.42h1.24v4.41h-1.24zM316.38 170.08h1.24v5.04h-1.24zM317.56 170.01h1.24v3.79h-1.24zM318.74 170.44h1.24v5.46h-1.24zM319.93 169.87h1.24v4.7h-1.24zM321.11 169.7h1.24v4.76h-1.24zM322.29 170.47h1.24v2.29h-1.24zM323.47 170.65h1.24v5.94h-1.24zM324.66 170.29h1.24v4.81h-1.24zM325.84 169.83h1.24v3.59h-1.24zM327.02 169.87h1.24v3.05h-1.24zM328.2 169.92h1.24v4.3h-1.24zM329.39 170.65h1.24v4.31h-1.24zM330.57 170.55h1.24v5.22h-1.24zM331.75 170.07h1.24v2.76h-1.24zM332.93 170.71h1.24v6.08h-1.24zM334.11 169.62h1.24v3.07h-1.24zM335.3 170.69h1.24v3.73h-1.24zM336.48 169.81h1.24v3h-1.24zM337.66 170.26h1.24v4.08h-1.24zM338.84 170.62h1.24v5.61h-1.24zM340.03 170.22h1.24v3.68h-1.24zM341.21 170.01h1.24v4.38h-1.24zM342.39 170.35h1.24v4.57h-1.24zM343.57 169.65h1.24v5.96h-1.24zM344.76 169.8h1.24v4.73h-1.24zM345.94 169.43h1.24v2.16h-1.24zM347.12 170.56h1.24v4.48h-1.24zM348.3 169.99h1.24v4.47h-1.24zM349.49 170.65h1.24v5.84h-1.24zM350.67 170.2h1.24v2.64h-1.24zM351.85 170.46h1.24v3.22h-1.24zM353.03 170.18h1.24v6.1h-1.24zM354.22 170.19h1.24v4.85h-1.24zM355.4 169.47h1.24v3.96h-1.24zM356.58 170.62h1.24v6.09h-1.24zM357.76 169.76h1.24v3.88h-1.24zM358.95 169.53h1.24v2.62h-1.24zM360.13 170.64h1.24v3.65h-1.24zM361.31 170.11h1.24v2.67h-1.24zM362.49 170.31h1.24v2.28h-1.24zM363.67 169.53h1.24v5.9h-1.24zM364.86 170.37h1.24v2.74h-1.24zM366.04 170.34h1.24v5.8h-1.24zM367.22 170.54h1.24v5.66h-1.24zM368.4 169.53h1.24v3.93h-1.24zM369.59 169.83h1.24v4.1h-1.24zM370.77 170.57h1.24v4.22h-1.24zM371.95 169.65h1.24v1.97h-1.24zM373.13 170.47h1.24v3.29h-1.24zM374.32 170.46h1.24v5.33h-1.24zM375.5 170.14h1.24v4.12h-1.24zM376.68 170.42h1.24v5.52h-1.24zM377.86 169.51h1.24v4.4h-1.24zM379.05 169.42h1.24v3.64h-1.24zM380.23 169.51h1.24v3.85h-1.24zM381.41 170.53h1.24v5.08h-1.24zM382.59 169.83h1.24v3.31h-1.24zM383.78 170.14h1.24v3.96h-1.24zM384.96 170.48h1.24v2.73h-1.24zM386.14 169.47h1.24v5.99h-1.24zM387.32 169.57h1.24v6.14h-1.24zM388.51 170.24h1.24v4.75h-1.24zM389.69 170.17h1.24v4.85h-1.24zM390.87 170.59h1.24v4.42h-1.24zM392.05 170.36h1.24v2.79h-1.24zM393.23 170.15h1.24v5.68h-1.24zM394.42 170.43h1.24v3.05h-1.24zM395.6 169.6h1.24v5.34h-1.24zM396.78 169.88h1.24v1.98h-1.24zM397.96 170.11h1.24v5.89h-1.24zM399.15 169.58h1.24v5.62h-1.24zM400.33 170.64h1.24v5.8h-1.24zM401.51 170.21h1.24v4.58h-1.24zM402.69 169.94h1.24v3.62h-1.24zM403.88 170.45h1.24v2.82h-1.24zM405.06 170.7h1.24v5.2h-1.24zM406.24 170.2h1.24v6.07h-1.24zM407.42 170.04h1.24v4.81h-1.24zM408.61 170.33h1.24v2.9h-1.24zM409.79 169.76h1.24v2.09h-1.24zM410.97 169.79h1.24v2.31h-1.24zM412.15 169.42h1.24v2.92h-1.24zM413.34 169.63h1.24v4.06h-1.24zM414.52 170.66h1.24v2.72h-1.24zM415.7 170.19h1.24v5.75h-1.24zM416.88 170.66h1.24v4.87h-1.24zM418.07 169.67h1.24v2.29h-1.24zM419.25 169.52h1.24v5.57h-1.24zM420.43 170.13h1.24v3h-1.24zM421.61 170.47h1.24v4.56h-1.24zM422.79 170.01h1.24v2.28h-1.24zM423.98 170.22h1.24v5.34h-1.24zM425.16 169.5h1.24v2.16h-1.24zM426.34 169.51h1.24v3.53h-1.24zM427.52 169.88h1.24v3.08h-1.24zM428.71 170.45h1.24v4.44h-1.24zM429.89 170.55h1.24v4.11h-1.24zM431.07 169.9h1.24v4.56h-1.24zM432.25 170.56h1.24v2.91h-1.24zM433.44 170.51h1.24v5.63h-1.24zM434.62 170.63h1.24v4.85h-1.24zM435.8 169.95h1.24v6.1h-1.24zM436.98 169.41h1.24v4.98h-1.24zM438.17 170.1h1.24v4.88h-1.24zM439.35 170.06h1.24v2.5h-1.24zM440.53 169.94h1.24v5.92h-1.24zM441.71 170.74h1.24v5.5h-1.24zM442.9 170.27h1.24v3.57h-1.24zM444.08 170.72h1.24v4.54h-1.24zM445.26 170.07h1.24v5.54h-1.24zM446.44 170.26h1.24v2.36h-1.24zM447.63 170.15h1.24v4.43h-1.24zM448.81 170.1h1.24v3.29h-1.24zM449.99 170.18h1.24v4.28h-1.24zM451.17 169.67h1.24v4h-1.24zM452.35 169.4h1.24v3.85h-1.24zM453.54 169.62h1.24v3.2h-1.24zM454.72 170.14h1.24v2.31h-1.24zM455.9 169.54h1.24v4.15h-1.24zM457.08 169.57h1.24v4.99h-1.24zM458.27 169.95h1.24v3.18h-1.24zM459.45 169.69h1.24v3.84h-1.24zM460.63 170.57h1.24v3.07h-1.24zM461.81 170.04h1.24v4.4h-1.24zM463 169.89h1.24v3.99h-1.24zM464.18 169.59h1.24v4.67h-1.24zM465.36 170.26h1.24v3.47h-1.24zM466.54 170.47h1.24v2.71h-1.24zM467.73 169.51h1.24v2.05h-1.24zM468.91 170.3h1.24v2.79h-1.24zM470.09 169.97h1.24v5.43h-1.24zM471.27 170.48h1.24v5.48h-1.24zM472.46 170.16h1.24v5.22h-1.24zM473.64 170.08h1.24v2.4h-1.24zM474.82 169.97h1.24v5.44h-1.24zM476 170.53h1.24v4.24h-1.24zM477.19 170.22h1.24v6.07h-1.24zM478.37 169.48h1.24v4.39h-1.24zM479.55 170.01h1.24v6.04h-1.24zM480.73 170.52h1.24v2.76h-1.24zM481.91 170.25h1.24v5.24h-1.24zM483.1 170.08h1.24v2.14h-1.24zM484.28 170.12h1.24v5.64h-1.24zM485.46 169.77h1.24v2.96h-1.24zM486.64 169.71h1.24v4.7h-1.24zM487.83 169.74h1.24v5.74h-1.24zM489.01 169.63h1.24v5.87h-1.24zM490.19 170.01h1.24v5.03h-1.24zM491.37 170.34h1.24v4.67h-1.24zM492.56 170.01h1.24v4.57h-1.24zM493.74 169.55h1.24v2.77h-1.24zM494.92 170.26h1.24v4.23h-1.24zM496.1 169.95h1.24v5.62h-1.24zM497.29 169.88h1.24v3.76h-1.24zM498.47 169.58h1.24v3.61h-1.24zM499.65 170.23h1.24v5.06h-1.24zM500.83 169.81h1.24v4.82h-1.24zM502.02 170.4h1.24v3.34h-1.24zM503.2 169.7h1.24v5.46h-1.24zM504.38 170.14h1.24v3.53h-1.24zM505.56 170.3h1.24v2.88h-1.24zM506.74 169.56h1.24v3.38h-1.24zM507.93 169.53h1.24v5.87h-1.24zM509.11 169.44h1.24v2.03h-1.24zM510.29 169.53h1.24v3.91h-1.24zM511.47 169.65h1.24v5.41h-1.24zM512.66 170.32h1.24v2.24h-1.24zM513.84 170.38h1.24v4.08h-1.24zM515.02 169.59h1.24v2.68h-1.24zM516.2 170.25h1.24v5.73h-1.24zM517.39 169.86h1.24v3.25h-1.24zM518.57 169.43h1.24v4.77h-1.24zM519.75 170.39h1.24v5.05h-1.24zM520.93 170.22h1.24v4.48h-1.24zM522.12 169.67h1.24v6.16h-1.24zM523.3 169.91h1.24v5.15h-1.24zM524.48 170.21h1.24v4.57h-1.24zM525.66 170.16h1.24v2.73h-1.24zM526.85 170.6h1.24v3.23h-1.24zM528.03 170.67h1.24v2.35h-1.24zM529.21 169.51h1.24v5.79h-1.24zM530.39 169.96h1.24v2.43h-1.24zM531.58 170.24h1.24v5.8h-1.24zM532.76 169.97h1.24v5.1h-1.24zM533.94 170.53h1.24v4.78h-1.24zM535.12 170.6h1.24v2.65h-1.24zM536.3 169.65h1.24v2.92h-1.24zM537.49 170.56h1.24v2.38h-1.24zM538.67 170.32h1.24v2.4h-1.24zM539.85 170.45h1.24v5.01h-1.24zM541.03 169.54h1.24v4.75h-1.24zM542.22 170.21h1.24v6.14h-1.24zM543.4 170.36h1.24v2.68h-1.24zM544.58 169.68h1.24v3.14h-1.24zM545.76 169.41h1.24v5.69h-1.24zM546.95 170.33h1.24v5.39h-1.24zM548.13 170.52h1.24v5.72h-1.24zM549.31 169.96h1.24v5.9h-1.24zM550.49 169.88h1.24v5.35h-1.24zM551.68 170.07h1.24v4.82h-1.24zM552.86 169.76h1.24v4.09h-1.24zM554.04 169.64h1.24v4.46h-1.24zM555.22 169.69h1.24v5.57h-1.24zM556.41 170.08h1.24v5.79h-1.24zM557.59 170.32h1.24v3.02h-1.24zM558.77 169.52h1.24v3.47h-1.24zM559.95 170.21h1.24v5.28h-1.24zM561.14 170.32h1.24v3.61h-1.24zM562.32 170.03h1.24v4.75h-1.24z"/>
<path fill="#f49a1e" d="M247.8 169.4h1.24v0.42h-1.24zM248.98 169.4h1.24v1.03h-1.24zM250.16 169.4h1.24v1.05h-1.24zM251.35 169.4h1.24v0.51h-1.24zM252.53 169.4h1.24v1.27h-1.24zM253.71 169.4h1.24v0.16h-1.24zM254.89 169.4h1.24v0.92h-1.24zM256.08 169.4h1.24v0.28h-1.24zM257.26 169.4h1.24v0.52h-1.24zM258.44 169.4h1.24v0.7h-1.24zM259.62 169.4h1.24v1.38h-1.24zM260.81 169.4h1.24v1.36h-1.24zM261.99 169.4h1.24v0.73h-1.24zM263.17 169.4h1.24v0.63h-1.24zM264.35 169.4h1.24v0.28h-1.24zM265.54 169.4h1.24v0.07h-1.24zM266.72 169.4h1.24v0.33h-1.24zM267.9 169.4h1.24v0.22h-1.24zM269.08 169.4h1.24v0.37h-1.24zM270.27 169.4h1.24v0.34h-1.24zM271.45 169.4h1.24v0.96h-1.24zM272.63 169.4h1.24v0.61h-1.24zM273.81 169.4h1.24v1.24h-1.24zM275 169.4h1.24v1.19h-1.24zM276.18 169.4h1.24v0.68h-1.24zM277.36 169.4h1.24v0.87h-1.24zM278.54 169.4h1.24v1.31h-1.24zM279.72 169.4h1.24v0.62h-1.24zM280.91 169.4h1.24v1.11h-1.24zM282.09 169.4h1.24v1.17h-1.24zM283.27 169.4h1.24v0.61h-1.24zM284.45 169.4h1.24v1.24h-1.24zM285.64 169.4h1.24v0.77h-1.24zM286.82 169.4h1.24v0.91h-1.24zM288 169.4h1.24v0.11h-1.24zM289.18 169.4h1.24v0.96h-1.24zM290.37 169.4h1.24v0.97h-1.24zM291.55 169.4h1.24v0.95h-1.24zM292.73 169.4h1.24v1.37h-1.24zM293.91 169.4h1.24v0.85h-1.24zM295.1 169.4h1.24v1.05h-1.24zM296.28 169.4h1.24v0.18h-1.24zM297.46 169.4h1.24v0.86h-1.24zM298.64 169.4h1.24v0.79h-1.24zM299.83 169.4h1.24v0.62h-1.24zM301.01 169.4h1.24v0.9h-1.24zM302.19 169.4h1.24v0.35h-1.24zM303.37 169.4h1.24v0.42h-1.24zM304.56 169.4h1.24v0.54h-1.24zM305.74 169.4h1.24v0.64h-1.24zM306.92 169.4h1.24v0.97h-1.24zM308.1 169.4h1.24v0.07h-1.24zM309.28 169.4h1.24v0.32h-1.24zM310.47 169.4h1.24v0.9h-1.24zM311.65 169.4h1.24v1.13h-1.24zM312.83 169.4h1.24v1.29h-1.24zM314.01 169.4h1.24v0.93h-1.24zM315.2 169.4h1.24v0.07h-1.24zM316.38 169.4h1.24v0.73h-1.24zM317.56 169.4h1.24v0.66h-1.24zM318.74 169.4h1.24v1.09h-1.24zM319.93 169.4h1.24v0.52h-1.24zM321.11 169.4h1.24v0.35h-1.24zM322.29 169.4h1.24v1.12h-1.24zM323.47 169.4h1.24v1.3h-1.24zM324.66 169.4h1.24v0.94h-1.24zM325.84 169.4h1.24v0.48h-1.24zM327.02 169.4h1.24v0.52h-1.24zM328.2 169.4h1.24v0.57h-1.24zM329.39 169.4h1.24v1.3h-1.24zM330.57 169.4h1.24v1.2h-1.24zM331.75 169.4h1.24v0.72h-1.24zM332.93 169.4h1.24v1.36h-1.24zM334.11 169.4h1.24v0.27h-1.24zM335.3 169.4h1.24v1.34h-1.24zM336.48 169.4h1.24v0.46h-1.24zM337.66 169.4h1.24v0.91h-1.24zM338.84 169.4h1.24v1.27h-1.24zM340.03 169.4h1.24v0.87h-1.24zM341.21 169.4h1.24v0.66h-1.24zM342.39 169.4h1.24v1h-1.24zM343.57 169.4h1.24v0.3h-1.24zM344.76 169.4h1.24v0.45h-1.24zM345.94 169.4h1.24v0.08h-1.24zM347.12 169.4h1.24v1.21h-1.24zM348.3 169.4h1.24v0.64h-1.24zM349.49 169.4h1.24v1.3h-1.24zM350.67 169.4h1.24v0.85h-1.24zM351.85 169.4h1.24v1.11h-1.24zM353.03 169.4h1.24v0.83h-1.24zM354.22 169.4h1.24v0.84h-1.24zM355.4 169.4h1.24v0.12h-1.24zM356.58 169.4h1.24v1.27h-1.24zM357.76 169.4h1.24v0.41h-1.24zM358.95 169.4h1.24v0.18h-1.24zM360.13 169.4h1.24v1.29h-1.24zM361.31 169.4h1.24v0.76h-1.24zM362.49 169.4h1.24v0.96h-1.24zM363.67 169.4h1.24v0.18h-1.24zM364.86 169.4h1.24v1.02h-1.24zM366.04 169.4h1.24v0.99h-1.24zM367.22 169.4h1.24v1.19h-1.24zM368.4 169.4h1.24v0.18h-1.24zM369.59 169.4h1.24v0.48h-1.24zM370.77 169.4h1.24v1.22h-1.24zM371.95 169.4h1.24v0.3h-1.24zM373.13 169.4h1.24v1.12h-1.24zM374.32 169.4h1.24v1.11h-1.24zM375.5 169.4h1.24v0.79h-1.24zM376.68 169.4h1.24v1.07h-1.24zM377.86 169.4h1.24v0.16h-1.24zM379.05 169.4h1.24v0.07h-1.24zM380.23 169.4h1.24v0.16h-1.24zM381.41 169.4h1.24v1.18h-1.24zM382.59 169.4h1.24v0.48h-1.24zM383.78 169.4h1.24v0.79h-1.24zM384.96 169.4h1.24v1.13h-1.24zM386.14 169.4h1.24v0.12h-1.24zM387.32 169.4h1.24v0.22h-1.24zM388.51 169.4h1.24v0.89h-1.24zM389.69 169.4h1.24v0.82h-1.24zM390.87 169.4h1.24v1.24h-1.24zM392.05 169.4h1.24v1.01h-1.24zM393.23 169.4h1.24v0.8h-1.24zM394.42 169.4h1.24v1.08h-1.24zM395.6 169.4h1.24v0.25h-1.24zM396.78 169.4h1.24v0.53h-1.24zM397.96 169.4h1.24v0.76h-1.24zM399.15 169.4h1.24v0.23h-1.24zM400.33 169.4h1.24v1.29h-1.24zM401.51 169.4h1.24v0.86h-1.24zM402.69 169.4h1.24v0.59h-1.24zM403.88 169.4h1.24v1.1h-1.24zM405.06 169.4h1.24v1.35h-1.24zM406.24 169.4h1.24v0.85h-1.24zM407.42 169.4h1.24v0.69h-1.24zM408.61 169.4h1.24v0.98h-1.24zM409.79 169.4h1.24v0.41h-1.24zM410.97 169.4h1.24v0.44h-1.24zM412.15 169.4h1.24v0.07h-1.24zM413.34 169.4h1.24v0.28h-1.24zM414.52 169.4h1.24v1.31h-1.24zM415.7 169.4h1.24v0.84h-1.24zM416.88 169.4h1.24v1.31h-1.24zM418.07 169.4h1.24v0.32h-1.24zM419.25 169.4h1.24v0.17h-1.24zM420.43 169.4h1.24v0.78h-1.24zM421.61 169.4h1.24v1.12h-1.24zM422.79 169.4h1.24v0.66h-1.24zM423.98 169.4h1.24v0.87h-1.24zM425.16 169.4h1.24v0.15h-1.24zM426.34 169.4h1.24v0.16h-1.24zM427.52 169.4h1.24v0.53h-1.24zM428.71 169.4h1.24v1.1h-1.24zM429.89 169.4h1.24v1.2h-1.24zM431.07 169.4h1.24v0.55h-1.24zM432.25 169.4h1.24v1.21h-1.24zM433.44 169.4h1.24v1.16h-1.24zM434.62 169.4h1.24v1.28h-1.24zM435.8 169.4h1.24v0.6h-1.24zM436.98 169.4h1.24v0.06h-1.24zM438.17 169.4h1.24v0.75h-1.24zM439.35 169.4h1.24v0.71h-1.24zM440.53 169.4h1.24v0.59h-1.24zM441.71 169.4h1.24v1.39h-1.24zM442.9 169.4h1.24v0.92h-1.24zM444.08 169.4h1.24v1.37h-1.24zM445.26 169.4h1.24v0.72h-1.24zM446.44 169.4h1.24v0.91h-1.24zM447.63 169.4h1.24v0.8h-1.24zM448.81 169.4h1.24v0.75h-1.24zM449.99 169.4h1.24v0.83h-1.24zM451.17 169.4h1.24v0.32h-1.24zM452.35 169.4h1.24v0.05h-1.24zM453.54 169.4h1.24v0.27h-1.24zM454.72 169.4h1.24v0.79h-1.24zM455.9 169.4h1.24v0.19h-1.24zM457.08 169.4h1.24v0.22h-1.24zM458.27 169.4h1.24v0.6h-1.24zM459.45 169.4h1.24v0.34h-1.24zM460.63 169.4h1.24v1.22h-1.24zM461.81 169.4h1.24v0.69h-1.24zM463 169.4h1.24v0.54h-1.24zM464.18 169.4h1.24v0.24h-1.24zM465.36 169.4h1.24v0.91h-1.24zM466.54 169.4h1.24v1.12h-1.24zM467.73 169.4h1.24v0.16h-1.24zM468.91 169.4h1.24v0.95h-1.24zM470.09 169.4h1.24v0.62h-1.24zM471.27 169.4h1.24v1.13h-1.24zM472.46 169.4h1.24v0.81h-1.24zM473.64 169.4h1.24v0.73h-1.24zM474.82 169.4h1.24v0.62h-1.24zM476 169.4h1.24v1.18h-1.24zM477.19 169.4h1.24v0.87h-1.24zM478.37 169.4h1.24v0.13h-1.24zM479.55 169.4h1.24v0.66h-1.24zM480.73 169.4h1.24v1.17h-1.24zM481.91 169.4h1.24v0.9h-1.24zM483.1 169.4h1.24v0.73h-1.24zM484.28 169.4h1.24v0.77h-1.24zM485.46 169.4h1.24v0.42h-1.24zM486.64 169.4h1.24v0.36h-1.24zM487.83 169.4h1.24v0.39h-1.24zM489.01 169.4h1.24v0.28h-1.24zM490.19 169.4h1.24v0.66h-1.24zM491.37 169.4h1.24v0.99h-1.24zM492.56 169.4h1.24v0.66h-1.24zM493.74 169.4h1.24v0.2h-1.24zM494.92 169.4h1.24v0.91h-1.24zM496.1 169.4h1.24v0.6h-1.24zM497.29 169.4h1.24v0.53h-1.24zM498.47 169.4h1.24v0.23h-1.24zM499.65 169.4h1.24v0.88h-1.24zM500.83 169.4h1.24v0.46h-1.24zM502.02 169.4h1.24v1.05h-1.24zM503.2 169.4h1.24v0.35h-1.24zM504.38 169.4h1.24v0.79h-1.24zM505.56 169.4h1.24v0.95h-1.24zM506.74 169.4h1.24v0.21h-1.24zM507.93 169.4h1.24v0.18h-1.24zM509.11 169.4h1.24v0.09h-1.24zM510.29 169.4h1.24v0.18h-1.24zM511.47 169.4h1.24v0.3h-1.24zM512.66 169.4h1.24v0.97h-1.24zM513.84 169.4h1.24v1.03h-1.24zM515.02 169.4h1.24v0.24h-1.24zM516.2 169.4h1.24v0.9h-1.24zM517.39 169.4h1.24v0.51h-1.24zM518.57 169.4h1.24v0.08h-1.24zM519.75 169.4h1.24v1.04h-1.24zM520.93 169.4h1.24v0.87h-1.24zM522.12 169.4h1.24v0.32h-1.24zM523.3 169.4h1.24v0.56h-1.24zM524.48 169.4h1.24v0.86h-1.24zM525.66 169.4h1.24v0.81h-1.24zM526.85 169.4h1.24v1.25h-1.24zM528.03 169.4h1.24v1.32h-1.24zM529.21 169.4h1.24v0.16h-1.24zM530.39 169.4h1.24v0.61h-1.24zM531.58 169.4h1.24v0.89h-1.24zM532.76 169.4h1.24v0.62h-1.24zM533.94 169.4h1.24v1.18h-1.24zM535.12 169.4h1.24v1.25h-1.24zM536.3 169.4h1.24v0.3h-1.24zM537.49 169.4h1.24v1.21h-1.24zM538.67 169.4h1.24v0.97h-1.24zM539.85 169.4h1.24v1.1h-1.24zM541.03 169.4h1.24v0.19h-1.24zM542.22 169.4h1.24v0.86h-1.24zM543.4 169.4h1.24v1.01h-1.24zM544.58 169.4h1.24v0.33h-1.24zM545.76 169.4h1.24v0.06h-1.24zM546.95 169.4h1.24v0.98h-1.24zM548.13 169.4h1.24v1.17h-1.24zM549.31 169.4h1.24v0.61h-1.24zM550.49 169.4h1.24v0.53h-1.24zM551.68 169.4h1.24v0.72h-1.24zM552.86 169.4h1.24v0.41h-1.24zM554.04 169.4h1.24v0.29h-1.24zM555.22 169.4h1.24v0.34h-1.24zM556.41 169.4h1.24v0.73h-1.24zM557.59 169.4h1.24v0.97h-1.24zM558.77 169.4h1.24v0.17h-1.24zM559.95 169.4h1.24v0.86h-1.24zM561.14 169.4h1.24v0.97h-1.24zM562.32 169.4h1.24v0.68h-1.24z"/>
<rect x="578.6" y="177.1" width="2.8" height="2.8" fill="#ea4a3a"/>
<text transform="translate(584.8 180.7) scale(0.92 1)" font-size="6.4" fill="#222">C&gt;T</text>
<rect x="578.6" y="184.4" width="2.8" height="2.8" fill="#4147a8"/>
<text transform="translate(584.8 188) scale(0.92 1)" font-size="6.4" fill="#222">C&gt;G</text>
<rect x="578.6" y="191.7" width="2.8" height="2.8" fill="#3d9de8"/>
<text transform="translate(584.8 195.3) scale(0.92 1)" font-size="6.4" fill="#222">C&gt;A</text>
<rect x="601.6" y="177.1" width="2.8" height="2.8" fill="#4cae4c"/>
<text transform="translate(608 180.7) scale(0.92 1)" font-size="6.4" fill="#222">T&gt;A</text>
<rect x="601.6" y="184.4" width="2.8" height="2.8" fill="#f7c81a"/>
<text transform="translate(608 188) scale(0.92 1)" font-size="6.4" fill="#222">T&gt;C</text>
<rect x="601.6" y="191.7" width="2.8" height="2.8" fill="#f49a1e"/>
<text transform="translate(608 195.3) scale(0.92 1)" font-size="6.4" fill="#222">T&gt;G</text>
<rect x="222.6" y="215.55" width="2.5" height="2.5" fill="#3d3b8e"/>
<text transform="translate(229.7 219) scale(0.9 1)" font-size="6.5" fill="#222">Missense_Mutation</text>
<rect x="222.6" y="222.85" width="2.5" height="2.5" fill="#21a08a"/>
<text transform="translate(229.7 226.3) scale(0.9 1)" font-size="6.5" fill="#222">Nonsense_Mutation</text>
<rect x="222.6" y="230.15" width="2.5" height="2.5" fill="#74c95a"/>
<text transform="translate(229.7 233.6) scale(0.9 1)" font-size="6.5" fill="#222">Splice_Site</text>
<rect x="222.6" y="237.45" width="2.5" height="2.5" fill="#f7e21f"/>
<text transform="translate(229.7 240.9) scale(0.9 1)" font-size="6.5" fill="#222">Frame_Shift_Del</text>
<rect x="286.7" y="215.55" width="2.5" height="2.5" fill="#c2df23"/>
<text transform="translate(293.8 219) scale(0.9 1)" font-size="6.5" fill="#222">Frame_Shift_Ins</text>
<rect x="286.7" y="222.85" width="2.5" height="2.5" fill="#3a5f96"/>
<text transform="translate(293.8 226.3) scale(0.9 1)" font-size="6.5" fill="#222">In_Frame_Ins</text>
<rect x="286.7" y="230.15" width="2.5" height="2.5" fill="#2b7f8e"/>
<text transform="translate(293.8 233.6) scale(0.9 1)" font-size="6.5" fill="#222">In_Frame_Del</text>
<rect x="286.7" y="237.45" width="2.5" height="2.5" fill="#3fba6f"/>
<text transform="translate(293.8 240.9) scale(0.9 1)" font-size="6.5" fill="#222">Multi_Hit</text>
<text transform="translate(366 220.3) scale(0.9 1)" font-size="6.5" fill="#222">Risk_Category</text>
<rect x="374.7" y="226.15" width="2.5" height="2.5" fill="#dd620b"/>
<text transform="translate(381 229.6) scale(0.9 1)" font-size="6.5" fill="#222">High</text>
<rect x="374.7" y="233.25" width="2.5" height="2.5" fill="#56b0e6"/>
<text transform="translate(381 236.7) scale(0.9 1)" font-size="6.5" fill="#222">Int-High</text>
<rect x="374.7" y="240.35" width="2.5" height="2.5" fill="#1b9e6e"/>
<text transform="translate(381 243.8) scale(0.9 1)" font-size="6.5" fill="#222">Low</text>
<rect x="374.7" y="247.45" width="2.5" height="2.5" fill="#d47fb3"/>
<text transform="translate(381 250.9) scale(0.9 1)" font-size="6.5" fill="#222">Low-Int</text>
<text transform="translate(20.4 278.3) scale(0.9 1)" font-size="16.8">C</text>
<text transform="translate(40.9 295.7) scale(0.9 1)" font-size="4.8" font-weight="bold" fill="#111">High Risk [N=67]</text>
<text transform="translate(187.2 296.2) scale(0.9 1)" font-size="4.8" text-anchor="end" font-weight="bold" fill="#111">Low Risk [N=67]</text>
<text transform="translate(39.2 304.6) scale(0.87 1)" font-size="4.6" text-anchor="end" font-style="italic" fill="#444">KRAS</text>
<rect x="59.9" y="300.85" width="54.5" height="4.3" fill="#3f4796"/>
<rect x="114.4" y="300.85" width="32.4" height="4.3" fill="#3f4796"/>
<text transform="translate(59.1 304.6) scale(0.93 1)" font-size="4.6" text-anchor="end" fill="#222">30%</text>
<text transform="translate(147.6 304.6) scale(0.93 1)" font-size="4.6" fill="#222">19%</text>
<text transform="translate(39.2 310.56) scale(0.87 1)" font-size="4.6" text-anchor="end" font-style="italic" fill="#444">NF1</text>
<rect x="87.1" y="306.81" width="2.7" height="4.3" fill="#26b084"/>
<rect x="89.8" y="306.81" width="16" height="4.3" fill="#3f4796"/>
<rect x="105.8" y="306.81" width="8.6" height="4.3" fill="#f2de20"/>
<rect x="114.4" y="306.81" width="2.5" height="4.3" fill="#f2de20"/>
<rect x="116.9" y="306.81" width="13.7" height="4.3" fill="#3f4796"/>
<rect x="130.6" y="306.81" width="2.6" height="4.3" fill="#26b084"/>
<text transform="translate(86.3 310.56) scale(0.93 1)" font-size="4.6" text-anchor="end" fill="#222">15%</text>
<text transform="translate(134 310.56) scale(0.93 1)" font-size="4.6" fill="#222">10%</text>
<text transform="translate(39.2 316.52) scale(0.87 1)" font-size="4.6" text-anchor="end" font-style="italic" fill="#444">MET_Amp</text>
<rect x="95.6" y="312.77" width="18.8" height="4.3" fill="#3e1a6e"/>
<text transform="translate(94.8 316.52) scale(0.93 1)" font-size="4.6" text-anchor="end" fill="#222">10%</text>
<text transform="translate(115.2 316.52) scale(0.93 1)" font-size="4.6" fill="#222">0%</text>
<text transform="translate(39.2 322.48) scale(0.87 1)" font-size="4.6" text-anchor="end" font-style="italic" fill="#444">ALK</text>
<rect x="98.2" y="318.73" width="2.4" height="4.3" fill="#26b084"/>
<rect x="100.6" y="318.73" width="13.8" height="4.3" fill="#3f4796"/>
<rect x="114.4" y="318.73" width="2.1" height="4.3" fill="#3f4796"/>
<text transform="translate(97.4 322.48) scale(0.93 1)" font-size="4.6" text-anchor="end" fill="#222">9%</text>
<text transform="translate(117.3 322.48) scale(0.93 1)" font-size="4.6" fill="#222">1%</text>
<text transform="translate(39.2 328.44) scale(0.87 1)" font-size="4.6" text-anchor="end" font-style="italic" fill="#444">BRAF</text>
<rect x="101" y="324.69" width="13.4" height="4.3" fill="#3f4796"/>
<rect x="114.4" y="324.69" width="13.6" height="4.3" fill="#3f4796"/>
<text transform="translate(100.2 328.44) scale(0.93 1)" font-size="4.6" text-anchor="end" fill="#222">7%</text>
<text transform="translate(128.8 328.44) scale(0.93 1)" font-size="4.6" fill="#222">9%</text>
<text transform="translate(39.2 334.4) scale(0.87 1)" font-size="4.6" text-anchor="end" font-style="italic" fill="#444">EGFR</text>
<rect x="109.1" y="330.65" width="5.3" height="4.3" fill="#3f4796"/>
<rect x="114.4" y="330.65" width="19.2" height="4.3" fill="#2a8a8e"/>
<rect x="133.6" y="330.65" width="13.2" height="4.3" fill="#3f4796"/>
<text transform="translate(108.3 334.4) scale(0.93 1)" font-size="4.6" text-anchor="end" fill="#222">4%</text>
<text transform="translate(147.6 334.4) scale(0.93 1)" font-size="4.6" fill="#222">15%</text>
<text transform="translate(39.2 340.36) scale(0.87 1)" font-size="4.6" text-anchor="end" font-style="italic" fill="#444">FGFR2</text>
<rect x="106.5" y="336.61" width="7.9" height="4.3" fill="#3f4796"/>
<rect x="114.4" y="336.61" width="2" height="4.3" fill="#3f4796"/>
<text transform="translate(105.7 340.36) scale(0.93 1)" font-size="4.6" text-anchor="end" fill="#222">4%</text>
<text transform="translate(117.2 340.36) scale(0.93 1)" font-size="4.6" fill="#222">1%</text>
<text transform="translate(39.2 346.32) scale(0.87 1)" font-size="4.6" text-anchor="end" font-style="italic" fill="#444">MET</text>
<rect x="106.5" y="342.57" width="7.9" height="4.3" fill="#3f4796"/>
<rect x="114.4" y="342.57" width="2.3" height="4.3" fill="#f2de20"/>
<rect x="116.7" y="342.57" width="2.8" height="4.3" fill="#3f4796"/>
<text transform="translate(105.7 346.32) scale(0.93 1)" font-size="4.6" text-anchor="end" fill="#222">4%</text>
<text transform="translate(120.3 346.32) scale(0.93 1)" font-size="4.6" fill="#222">3%</text>
<text transform="translate(39.2 352.28) scale(0.87 1)" font-size="4.6" text-anchor="end" font-style="italic" fill="#444">ROS1</text>
<rect x="106.5" y="348.53" width="7.9" height="4.3" fill="#3f4796"/>
<text transform="translate(105.7 352.28) scale(0.93 1)" font-size="4.6" text-anchor="end" fill="#222">4%</text>
<text transform="translate(115.2 352.28) scale(0.93 1)" font-size="4.6" fill="#222">0%</text>
<text transform="translate(39.2 358.24) scale(0.87 1)" font-size="4.6" text-anchor="end" font-style="italic" fill="#444">ERBB2_Amp</text>
<rect x="106.5" y="354.49" width="7.9" height="4.3" fill="#3e1a6e"/>
<text transform="translate(105.7 358.24) scale(0.93 1)" font-size="4.6" text-anchor="end" fill="#222">4%</text>
<text transform="translate(115.2 358.24) scale(0.93 1)" font-size="4.6" fill="#222">0%</text>
<text transform="translate(39.2 364.2) scale(0.87 1)" font-size="4.6" text-anchor="end" font-style="italic" fill="#444">NRAS</text>
<rect x="108.7" y="360.45" width="2.8" height="4.3" fill="#7ccf54"/>
<rect x="111.5" y="360.45" width="2.9" height="4.3" fill="#3f4796"/>
<text transform="translate(107.9 364.2) scale(0.93 1)" font-size="4.6" text-anchor="end" fill="#222">3%</text>
<text transform="translate(115.2 364.2) scale(0.93 1)" font-size="4.6" fill="#222">0%</text>
<text transform="translate(39.2 370.16) scale(0.87 1)" font-size="4.6" text-anchor="end" font-style="italic" fill="#444">RET</text>
<rect x="108.7" y="366.41" width="2.8" height="4.3" fill="#3f4796"/>
<rect x="111.5" y="366.41" width="2.9" height="4.3" fill="#bcd936"/>
<text transform="translate(107.9 370.16) scale(0.93 1)" font-size="4.6" text-anchor="end" fill="#222">3%</text>
<text transform="translate(115.2 370.16) scale(0.93 1)" font-size="4.6" fill="#222">0%</text>
<text transform="translate(39.2 376.12) scale(0.87 1)" font-size="4.6" text-anchor="end" font-style="italic" fill="#444">ERBB2</text>
<rect x="112" y="372.37" width="2.4" height="4.3" fill="#3a5f96"/>
<text transform="translate(111.2 376.12) scale(0.93 1)" font-size="4.6" text-anchor="end" fill="#222">1%</text>
<text transform="translate(115.2 376.12) scale(0.93 1)" font-size="4.6" fill="#222">0%</text>
<text transform="translate(39.2 382.08) scale(0.87 1)" font-size="4.6" text-anchor="end" font-style="italic" fill="#444">RIT1</text>
<rect x="112" y="378.33" width="2.4" height="4.3" fill="#3f4796"/>
<rect x="114.4" y="378.33" width="2" height="4.3" fill="#3f4796"/>
<text transform="translate(111.2 382.08) scale(0.93 1)" font-size="4.6" text-anchor="end" fill="#222">1%</text>
<text transform="translate(117.2 382.08) scale(0.93 1)" font-size="4.6" fill="#222">1%</text>
<text transform="translate(39.2 388.04) scale(0.87 1)" font-size="4.6" text-anchor="end" font-style="italic" fill="#444">RET_Fusion</text>
<rect x="112" y="384.29" width="2.4" height="4.3" fill="#2b0b4e"/>
<text transform="translate(111.2 388.04) scale(0.93 1)" font-size="4.6" text-anchor="end" fill="#222">1%</text>
<text transform="translate(115.2 388.04) scale(0.93 1)" font-size="4.6" fill="#222">0%</text>
<text transform="translate(39.2 394) scale(0.87 1)" font-size="4.6" text-anchor="end" font-style="italic" fill="#444">MAP2K1</text>
<rect x="114.4" y="390.25" width="2" height="4.3" fill="#3f4796"/>
<text transform="translate(113.6 394) scale(0.93 1)" font-size="4.6" text-anchor="end" fill="#222">0%</text>
<text transform="translate(117.2 394) scale(0.93 1)" font-size="4.6" fill="#222">1%</text>
<text transform="translate(39.2 399.96) scale(0.87 1)" font-size="4.6" text-anchor="end" font-style="italic" fill="#444">HRAS</text>
<text transform="translate(113.6 399.96) scale(0.93 1)" font-size="4.6" text-anchor="end" fill="#222">0%</text>
<text transform="translate(115.2 399.96) scale(0.93 1)" font-size="4.6" fill="#222">0%</text>
<text transform="translate(39.2 405.92) scale(0.87 1)" font-size="4.6" text-anchor="end" font-style="italic" fill="#444">FGFR1</text>
<rect x="114.4" y="402.17" width="2" height="4.3" fill="#3f4796"/>
<text transform="translate(113.6 405.92) scale(0.93 1)" font-size="4.6" text-anchor="end" fill="#222">0%</text>
<text transform="translate(117.2 405.92) scale(0.93 1)" font-size="4.6" fill="#222">1%</text>
<text transform="translate(39.2 411.88) scale(0.87 1)" font-size="4.6" text-anchor="end" font-style="italic" fill="#444">ALK_Fusion</text>
<rect x="114.4" y="408.13" width="2" height="4.3" fill="#2b0b4e"/>
<text transform="translate(113.6 411.88) scale(0.93 1)" font-size="4.6" text-anchor="end" fill="#222">0%</text>
<text transform="translate(117.2 411.88) scale(0.93 1)" font-size="4.6" fill="#222">1%</text>
<text transform="translate(39.2 417.84) scale(0.87 1)" font-size="4.6" text-anchor="end" font-style="italic" fill="#444">ROS1_Fusion</text>
<text transform="translate(113.6 417.84) scale(0.93 1)" font-size="4.6" text-anchor="end" fill="#222">0%</text>
<text transform="translate(115.2 417.84) scale(0.93 1)" font-size="4.6" fill="#222">0%</text>
<line x1="114.4" y1="300" x2="114.4" y2="310" stroke="#ddd" stroke-width="0.35" opacity="0.8"/>
<line x1="114.4" y1="321" x2="114.4" y2="337" stroke="#ddd" stroke-width="0.35" opacity="0.8"/>
<line x1="41.3" y1="423.4" x2="186.7" y2="423.4" stroke="#777" stroke-width="0.5"/>
<line x1="41.3" y1="423.4" x2="41.3" y2="425.2" stroke="#777" stroke-width="0.5"/>
<text x="41.3" y="429.9" font-size="4.4" text-anchor="middle" fill="#333">40%</text>
<line x1="77.6" y1="423.4" x2="77.6" y2="425.2" stroke="#777" stroke-width="0.5"/>
<text x="77.6" y="429.9" font-size="4.4" text-anchor="middle" fill="#333">20%</text>
<line x1="114.4" y1="423.4" x2="114.4" y2="425.2" stroke="#777" stroke-width="0.5"/>
<text x="114.4" y="429.9" font-size="4.4" text-anchor="middle" fill="#333">0%</text>
<line x1="150.6" y1="423.4" x2="150.6" y2="425.2" stroke="#777" stroke-width="0.5"/>
<text x="150.6" y="429.9" font-size="4.4" text-anchor="middle" fill="#333">20%</text>
<line x1="186.7" y1="423.4" x2="186.7" y2="425.2" stroke="#777" stroke-width="0.5"/>
<text x="186.7" y="429.9" font-size="4.4" text-anchor="middle" fill="#333">40%</text>
<text x="114.4" y="433.4" font-size="3.3" text-anchor="middle" fill="#444">Percent of cases</text>
<rect x="16.2" y="438.8" width="2" height="2" fill="#3e1a6e"/>
<text transform="translate(22.3 441.5) scale(0.91 1)" font-size="4.8" fill="#333">Amplification</text>
<rect x="64.3" y="438.8" width="2" height="2" fill="#3a5f96"/>
<text transform="translate(70.5 441.5) scale(0.91 1)" font-size="4.8" fill="#333">In_Frame_Ins</text>
<rect x="110" y="438.8" width="2" height="2" fill="#7ccf54"/>
<text transform="translate(115.8 441.5) scale(0.91 1)" font-size="4.8" fill="#333">Splice_Site</text>
<rect x="16.2" y="447" width="2" height="2" fill="#f2de20"/>
<text transform="translate(22.3 449.7) scale(0.91 1)" font-size="4.8" fill="#333">Frame_Shift_Del</text>
<rect x="64.3" y="447" width="2" height="2" fill="#3f4796"/>
<text transform="translate(70.5 449.7) scale(0.91 1)" font-size="4.8" fill="#333">Missense_Mutation</text>
<rect x="110" y="447" width="2" height="2" fill="#2a8a8e"/>
<text transform="translate(115.8 449.7) scale(0.91 1)" font-size="4.8" fill="#333">In_Frame_Del</text>
<rect x="16.2" y="454.9" width="2" height="2" fill="#bcd936"/>
<text transform="translate(22.3 457.6) scale(0.91 1)" font-size="4.8" fill="#333">Frame_Shift_Ins</text>
<rect x="16.2" y="462.8" width="2" height="2" fill="#2b0b4e"/>
<text transform="translate(22.3 465.5) scale(0.91 1)" font-size="4.8" fill="#333">Fusion</text>
<rect x="64.3" y="462.8" width="2" height="2" fill="#26b084"/>
<text transform="translate(70.5 465.5) scale(0.91 1)" font-size="4.8" fill="#333">Nonsense_Mutation</text>
<text transform="translate(207 278.3) scale(0.9 1)" font-size="16.8">D</text>
<line x1="279.7" y1="286.6" x2="279.7" y2="433.6" stroke="#555" stroke-width="1.6"/>
<line x1="279.1" y1="433" x2="426.2" y2="433" stroke="#555" stroke-width="1.6"/>
<line x1="276.7" y1="433" x2="279.7" y2="433" stroke="#555" stroke-width="1"/>
<text x="275.9" y="435.6" font-size="7.3" text-anchor="end" font-weight="bold" fill="#111">0</text>
<line x1="277.5" y1="422.08" x2="279.7" y2="422.08" stroke="#555" stroke-width="1"/>
<line x1="277.5" y1="411.16" x2="279.7" y2="411.16" stroke="#555" stroke-width="1"/>
<line x1="277.5" y1="400.24" x2="279.7" y2="400.24" stroke="#555" stroke-width="1"/>
<line x1="277.5" y1="389.32" x2="279.7" y2="389.32" stroke="#555" stroke-width="1"/>
<line x1="276.7" y1="378.4" x2="279.7" y2="378.4" stroke="#555" stroke-width="1"/>
<text x="275.9" y="381" font-size="7.3" text-anchor="end" font-weight="bold" fill="#111">1000</text>
<line x1="277.5" y1="367.48" x2="279.7" y2="367.48" stroke="#555" stroke-width="1"/>
<line x1="277.5" y1="356.56" x2="279.7" y2="356.56" stroke="#555" stroke-width="1"/>
<line x1="277.5" y1="345.64" x2="279.7" y2="345.64" stroke="#555" stroke-width="1"/>
<line x1="277.5" y1="334.72" x2="279.7" y2="334.72" stroke="#555" stroke-width="1"/>
<line x1="276.7" y1="323.8" x2="279.7" y2="323.8" stroke="#555" stroke-width="1"/>
<text x="275.9" y="326.4" font-size="7.3" text-anchor="end" font-weight="bold" fill="#111">2000</text>
<line x1="277.5" y1="312.88" x2="279.7" y2="312.88" stroke="#555" stroke-width="1"/>
<line x1="277.5" y1="301.96" x2="279.7" y2="301.96" stroke="#555" stroke-width="1"/>
<line x1="277.5" y1="291.04" x2="279.7" y2="291.04" stroke="#555" stroke-width="1"/>
<text transform="translate(248.8 360) rotate(-90)" font-size="8" text-anchor="middle" font-weight="bold" fill="#111">Relative Copy Number Alterations</text>
<line x1="301.8" y1="433" x2="301.8" y2="436" stroke="#555" stroke-width="1.1"/>
<text transform="translate(303.4 440.8) rotate(-45)" font-size="7.1" text-anchor="end" font-weight="bold" fill="#111">Low</text>
<line x1="335.6" y1="433" x2="335.6" y2="436" stroke="#555" stroke-width="1.1"/>
<text transform="translate(337.2 440.8) rotate(-45)" font-size="7.1" text-anchor="end" font-weight="bold" fill="#111">Low-Int</text>
<line x1="369.8" y1="433" x2="369.8" y2="436" stroke="#555" stroke-width="1.1"/>
<text transform="translate(371.4 440.8) rotate(-45)" font-size="7.1" text-anchor="end" font-weight="bold" fill="#111">Int-High</text>
<line x1="404" y1="433" x2="404" y2="436" stroke="#555" stroke-width="1.1"/>
<text transform="translate(405.6 440.8) rotate(-45)" font-size="7.1" text-anchor="end" font-weight="bold" fill="#111">High</text>
<text transform="translate(352.7 471.5) scale(0.94 1)" font-size="8.2" text-anchor="middle" font-weight="bold" fill="#111">Risk Category</text>
<path d="M301.8 293 V288.9 H404 V293" fill="none" stroke="#444" stroke-width="0.9"/>
<text x="352.9" y="288" font-size="8.6" text-anchor="middle" font-weight="bold">***</text>
<circle cx="301.8" cy="432.99" r="1.45" fill="#17a673"/>
<circle cx="305.8" cy="432.4" r="1.45" fill="#17a673"/>
<circle cx="297.8" cy="432.05" r="1.45" fill="#17a673"/>
<circle cx="309.8" cy="431.71" r="1.45" fill="#17a673"/>
<circle cx="301.8" cy="426.41" r="1.45" fill="#17a673"/>
<circle cx="305.3" cy="424.81" r="1.45" fill="#17a673"/>
<circle cx="298.3" cy="424.6" r="1.45" fill="#17a673"/>
<circle cx="301.8" cy="419.03" r="1.45" fill="#17a673"/>
<circle cx="305.8" cy="418.97" r="1.45" fill="#17a673"/>
<circle cx="297.8" cy="417.73" r="1.45" fill="#17a673"/>
<circle cx="309.3" cy="417.21" r="1.45" fill="#17a673"/>
<circle cx="301.8" cy="410.22" r="1.45" fill="#17a673"/>
<circle cx="305.8" cy="410.18" r="1.45" fill="#17a673"/>
<circle cx="297.8" cy="410.04" r="1.45" fill="#17a673"/>
<circle cx="309.8" cy="409.1" r="1.45" fill="#17a673"/>
<circle cx="293.8" cy="409.1" r="1.45" fill="#17a673"/>
<circle cx="312.9" cy="407.81" r="1.45" fill="#17a673"/>
<circle cx="303.8" cy="406.89" r="1.45" fill="#17a673"/>
<circle cx="301.8" cy="403.5" r="1.45" fill="#17a673"/>
<circle cx="305.8" cy="403.12" r="1.45" fill="#17a673"/>
<circle cx="297.8" cy="402.64" r="1.45" fill="#17a673"/>
<circle cx="309.8" cy="402.52" r="1.45" fill="#17a673"/>
<circle cx="293.8" cy="401.72" r="1.45" fill="#17a673"/>
<circle cx="305.36" cy="401.71" r="1.45" fill="#17a673"/>
<circle cx="310.05" cy="401.35" r="1.45" fill="#17a673"/>
<circle cx="290.3" cy="399.89" r="1.45" fill="#17a673"/>
<circle cx="301.8" cy="394.43" r="1.45" fill="#17a673"/>
<circle cx="305.8" cy="394.06" r="1.45" fill="#17a673"/>
<circle cx="297.8" cy="392.97" r="1.45" fill="#17a673"/>
<circle cx="309.3" cy="392.37" r="1.45" fill="#17a673"/>
<circle cx="293.8" cy="392.31" r="1.45" fill="#17a673"/>
<circle cx="313.3" cy="391.42" r="1.45" fill="#17a673"/>
<circle cx="310" cy="391.22" r="1.45" fill="#17a673"/>
<circle cx="313.11" cy="391.13" r="1.45" fill="#17a673"/>
<circle cx="297.18" cy="391.1" r="1.45" fill="#17a673"/>
<circle cx="301.8" cy="380.25" r="1.45" fill="#17a673"/>
<circle cx="301.8" cy="375.21" r="1.45" fill="#17a673"/>
<circle cx="305.8" cy="375.2" r="1.45" fill="#17a673"/>
<circle cx="298.3" cy="373.52" r="1.45" fill="#17a673"/>
<circle cx="301.8" cy="369.11" r="1.45" fill="#17a673"/>
<circle cx="305.8" cy="368.5" r="1.45" fill="#17a673"/>
<circle cx="297.8" cy="368.44" r="1.45" fill="#17a673"/>
<circle cx="309.8" cy="368.33" r="1.45" fill="#17a673"/>
<circle cx="294.3" cy="366.08" r="1.45" fill="#17a673"/>
<circle cx="302.8" cy="365.36" r="1.45" fill="#17a673"/>
<circle cx="312.3" cy="365.2" r="1.45" fill="#17a673"/>
<circle cx="307.3" cy="364.84" r="1.45" fill="#17a673"/>
<circle cx="301.8" cy="354.33" r="1.45" fill="#17a673"/>
<circle cx="305.8" cy="353.67" r="1.45" fill="#17a673"/>
<circle cx="297.8" cy="353.46" r="1.45" fill="#17a673"/>
<circle cx="309.8" cy="352.5" r="1.45" fill="#17a673"/>
<circle cx="294.3" cy="351.37" r="1.45" fill="#17a673"/>
<circle cx="301.8" cy="348.92" r="1.45" fill="#17a673"/>
<circle cx="305.8" cy="348.27" r="1.45" fill="#17a673"/>
<circle cx="299.3" cy="345.94" r="1.45" fill="#17a673"/>
<circle cx="303.3" cy="345.16" r="1.45" fill="#17a673"/>
<circle cx="307.3" cy="344.22" r="1.45" fill="#17a673"/>
<circle cx="301.8" cy="338.02" r="1.45" fill="#17a673"/>
<circle cx="301.8" cy="332.44" r="1.45" fill="#17a673"/>
<circle cx="305.8" cy="331.01" r="1.45" fill="#17a673"/>
<circle cx="298.3" cy="330.11" r="1.45" fill="#17a673"/>
<circle cx="294.3" cy="329.51" r="1.45" fill="#17a673"/>
<circle cx="309.8" cy="329.45" r="1.45" fill="#17a673"/>
<circle cx="301.8" cy="320.43" r="1.45" fill="#17a673"/>
<circle cx="305.8" cy="320.1" r="1.45" fill="#17a673"/>
<circle cx="301.8" cy="303.88" r="1.45" fill="#17a673"/>
<circle cx="305.8" cy="303.62" r="1.45" fill="#17a673"/>
<line x1="290.8" y1="374.58" x2="312.8" y2="374.58" stroke="#000" stroke-width="1.1"/>
<circle cx="335.6" cy="431.27" r="1.45" fill="#d97fb4"/>
<circle cx="339.6" cy="430.86" r="1.45" fill="#d97fb4"/>
<circle cx="335.6" cy="416.28" r="1.45" fill="#d97fb4"/>
<circle cx="339.6" cy="416.13" r="1.45" fill="#d97fb4"/>
<circle cx="331.6" cy="415.07" r="1.45" fill="#d97fb4"/>
<circle cx="335.6" cy="403.06" r="1.45" fill="#d97fb4"/>
<circle cx="339.6" cy="401.55" r="1.45" fill="#d97fb4"/>
<circle cx="333.1" cy="400.1" r="1.45" fill="#d97fb4"/>
<circle cx="329.1" cy="399.91" r="1.45" fill="#d97fb4"/>
<circle cx="335.6" cy="395.84" r="1.45" fill="#d97fb4"/>
<circle cx="339.6" cy="395.77" r="1.45" fill="#d97fb4"/>
<circle cx="331.6" cy="394.48" r="1.45" fill="#d97fb4"/>
<circle cx="343.6" cy="394.24" r="1.45" fill="#d97fb4"/>
<circle cx="335.6" cy="390.07" r="1.45" fill="#d97fb4"/>
<circle cx="339.6" cy="389.31" r="1.45" fill="#d97fb4"/>
<circle cx="331.6" cy="389.06" r="1.45" fill="#d97fb4"/>
<circle cx="335.6" cy="385.29" r="1.45" fill="#d97fb4"/>
<circle cx="339.6" cy="383.87" r="1.45" fill="#d97fb4"/>
<circle cx="332.6" cy="382.82" r="1.45" fill="#d97fb4"/>
<circle cx="328.6" cy="382.24" r="1.45" fill="#d97fb4"/>
<circle cx="343.1" cy="381.71" r="1.45" fill="#d97fb4"/>
<circle cx="336.1" cy="380.56" r="1.45" fill="#d97fb4"/>
<circle cx="335.6" cy="372.46" r="1.45" fill="#d97fb4"/>
<circle cx="339.6" cy="372.39" r="1.45" fill="#d97fb4"/>
<circle cx="331.6" cy="371.35" r="1.45" fill="#d97fb4"/>
<circle cx="343.1" cy="370.61" r="1.45" fill="#d97fb4"/>
<circle cx="337.6" cy="368.95" r="1.45" fill="#d97fb4"/>
<circle cx="328.6" cy="368.79" r="1.45" fill="#d97fb4"/>
<circle cx="346.6" cy="368.46" r="1.45" fill="#d97fb4"/>
<circle cx="333.6" cy="367.7" r="1.45" fill="#d97fb4"/>
<circle cx="341.1" cy="367.1" r="1.45" fill="#d97fb4"/>
<circle cx="336.6" cy="364.82" r="1.45" fill="#d97fb4"/>
<circle cx="332.6" cy="363.94" r="1.45" fill="#d97fb4"/>
<circle cx="340.1" cy="363.24" r="1.45" fill="#d97fb4"/>
<circle cx="328.6" cy="363.14" r="1.45" fill="#d97fb4"/>
<circle cx="335.6" cy="358.44" r="1.45" fill="#d97fb4"/>
<circle cx="339.6" cy="358.29" r="1.45" fill="#d97fb4"/>
<circle cx="331.6" cy="357.66" r="1.45" fill="#d97fb4"/>
<circle cx="343.6" cy="357.35" r="1.45" fill="#d97fb4"/>
<circle cx="328.1" cy="355.88" r="1.45" fill="#d97fb4"/>
<circle cx="324.1" cy="355.83" r="1.45" fill="#d97fb4"/>
<circle cx="347.1" cy="355.58" r="1.45" fill="#d97fb4"/>
<circle cx="326.63" cy="355.57" r="1.45" fill="#d97fb4"/>
<circle cx="335.6" cy="353.34" r="1.45" fill="#d97fb4"/>
<circle cx="339.6" cy="352.62" r="1.45" fill="#d97fb4"/>
<circle cx="332.1" cy="351.76" r="1.45" fill="#d97fb4"/>
<circle cx="335.6" cy="349.26" r="1.45" fill="#d97fb4"/>
<circle cx="341.6" cy="349.2" r="1.45" fill="#d97fb4"/>
<circle cx="335.6" cy="344.29" r="1.45" fill="#d97fb4"/>
<circle cx="339.6" cy="343.78" r="1.45" fill="#d97fb4"/>
<circle cx="332.1" cy="342.1" r="1.45" fill="#d97fb4"/>
<circle cx="343.1" cy="342.03" r="1.45" fill="#d97fb4"/>
<circle cx="328.1" cy="340.82" r="1.45" fill="#d97fb4"/>
<circle cx="335.6" cy="339.24" r="1.45" fill="#d97fb4"/>
<circle cx="339.6" cy="339.04" r="1.45" fill="#d97fb4"/>
<circle cx="345.6" cy="338.89" r="1.45" fill="#d97fb4"/>
<circle cx="324.6" cy="338.45" r="1.45" fill="#d97fb4"/>
<circle cx="331.6" cy="337.95" r="1.45" fill="#d97fb4"/>
<circle cx="332.06" cy="337.86" r="1.45" fill="#d97fb4"/>
<circle cx="335.85" cy="337.83" r="1.45" fill="#d97fb4"/>
<circle cx="335.6" cy="330.58" r="1.45" fill="#d97fb4"/>
<circle cx="339.6" cy="329.66" r="1.45" fill="#d97fb4"/>
<circle cx="335.6" cy="321.12" r="1.45" fill="#d97fb4"/>
<circle cx="335.6" cy="308.36" r="1.45" fill="#d97fb4"/>
<circle cx="339.6" cy="307.92" r="1.45" fill="#d97fb4"/>
<line x1="324.6" y1="365.84" x2="346.6" y2="365.84" stroke="#000" stroke-width="1.1"/>
<circle cx="369.8" cy="424.29" r="1.45" fill="#4ba9e3"/>
<circle cx="373.8" cy="423.37" r="1.45" fill="#4ba9e3"/>
<circle cx="369.8" cy="412.77" r="1.45" fill="#4ba9e3"/>
<circle cx="369.8" cy="404.41" r="1.45" fill="#4ba9e3"/>
<circle cx="373.8" cy="404.31" r="1.45" fill="#4ba9e3"/>
<circle cx="365.8" cy="403.62" r="1.45" fill="#4ba9e3"/>
<circle cx="377.8" cy="403.18" r="1.45" fill="#4ba9e3"/>
<circle cx="369.8" cy="391.19" r="1.45" fill="#4ba9e3"/>
<circle cx="373.3" cy="389.15" r="1.45" fill="#4ba9e3"/>
<circle cx="367.8" cy="387.84" r="1.45" fill="#4ba9e3"/>
<circle cx="363.8" cy="387.15" r="1.45" fill="#4ba9e3"/>
<circle cx="376.3" cy="386.61" r="1.45" fill="#4ba9e3"/>
<circle cx="359.8" cy="386.2" r="1.45" fill="#4ba9e3"/>
<circle cx="369.8" cy="377.36" r="1.45" fill="#4ba9e3"/>
<circle cx="373.8" cy="376.89" r="1.45" fill="#4ba9e3"/>
<circle cx="365.8" cy="376.83" r="1.45" fill="#4ba9e3"/>
<circle cx="377.8" cy="376.35" r="1.45" fill="#4ba9e3"/>
<circle cx="362.8" cy="374.31" r="1.45" fill="#4ba9e3"/>
<circle cx="369.8" cy="371.43" r="1.45" fill="#4ba9e3"/>
<circle cx="373.8" cy="371.33" r="1.45" fill="#4ba9e3"/>
<circle cx="366.8" cy="368.82" r="1.45" fill="#4ba9e3"/>
<circle cx="371.3" cy="367.84" r="1.45" fill="#4ba9e3"/>
<circle cx="369.8" cy="353.71" r="1.45" fill="#4ba9e3"/>
<circle cx="373.8" cy="353.69" r="1.45" fill="#4ba9e3"/>
<circle cx="365.8" cy="352.77" r="1.45" fill="#4ba9e3"/>
<circle cx="376.8" cy="351.29" r="1.45" fill="#4ba9e3"/>
<circle cx="361.8" cy="351.26" r="1.45" fill="#4ba9e3"/>
<circle cx="380.8" cy="350.92" r="1.45" fill="#4ba9e3"/>
<circle cx="378.27" cy="350.52" r="1.45" fill="#4ba9e3"/>
<circle cx="371.3" cy="350.03" r="1.45" fill="#4ba9e3"/>
<circle cx="373.85" cy="349.87" r="1.45" fill="#4ba9e3"/>
<circle cx="376.42" cy="349.78" r="1.45" fill="#4ba9e3"/>
<circle cx="358.3" cy="349.66" r="1.45" fill="#4ba9e3"/>
<circle cx="373.14" cy="349.44" r="1.45" fill="#4ba9e3"/>
<circle cx="367.3" cy="348.57" r="1.45" fill="#4ba9e3"/>
<circle cx="369.8" cy="344.45" r="1.45" fill="#4ba9e3"/>
<circle cx="373.3" cy="342.49" r="1.45" fill="#4ba9e3"/>
<circle cx="366.3" cy="342.25" r="1.45" fill="#4ba9e3"/>
<circle cx="377.3" cy="342.14" r="1.45" fill="#4ba9e3"/>
<circle cx="362.3" cy="341.57" r="1.45" fill="#4ba9e3"/>
<circle cx="369.8" cy="340.57" r="1.45" fill="#4ba9e3"/>
<circle cx="380.8" cy="340.07" r="1.45" fill="#4ba9e3"/>
<circle cx="358.8" cy="339.79" r="1.45" fill="#4ba9e3"/>
<circle cx="365.16" cy="339.23" r="1.45" fill="#4ba9e3"/>
<circle cx="378.69" cy="339.05" r="1.45" fill="#4ba9e3"/>
<circle cx="374.8" cy="338.89" r="1.45" fill="#4ba9e3"/>
<circle cx="377.86" cy="338.78" r="1.45" fill="#4ba9e3"/>
<circle cx="372.3" cy="338.33" r="1.45" fill="#4ba9e3"/>
<circle cx="373.71" cy="338.24" r="1.45" fill="#4ba9e3"/>
<circle cx="368.3" cy="336.8" r="1.45" fill="#4ba9e3"/>
<circle cx="369.8" cy="327.34" r="1.45" fill="#4ba9e3"/>
<circle cx="373.3" cy="325.64" r="1.45" fill="#4ba9e3"/>
<circle cx="366.3" cy="325.03" r="1.45" fill="#4ba9e3"/>
<circle cx="377.3" cy="324.81" r="1.45" fill="#4ba9e3"/>
<circle cx="362.3" cy="323.53" r="1.45" fill="#4ba9e3"/>
<circle cx="369.8" cy="322.35" r="1.45" fill="#4ba9e3"/>
<circle cx="380.3" cy="322" r="1.45" fill="#4ba9e3"/>
<circle cx="373.8" cy="321.72" r="1.45" fill="#4ba9e3"/>
<circle cx="365.8" cy="320.98" r="1.45" fill="#4ba9e3"/>
<circle cx="359.3" cy="320.91" r="1.45" fill="#4ba9e3"/>
<circle cx="380.41" cy="320.87" r="1.45" fill="#4ba9e3"/>
<circle cx="380.46" cy="320.12" r="1.45" fill="#4ba9e3"/>
<circle cx="369.18" cy="319.26" r="1.45" fill="#4ba9e3"/>
<circle cx="376.78" cy="318.99" r="1.45" fill="#4ba9e3"/>
<circle cx="370.8" cy="315.74" r="1.45" fill="#4ba9e3"/>
<circle cx="369.8" cy="301.09" r="1.45" fill="#4ba9e3"/>
<circle cx="373.8" cy="300.53" r="1.45" fill="#4ba9e3"/>
<line x1="358.8" y1="351.1" x2="380.8" y2="351.1" stroke="#000" stroke-width="1.1"/>
<circle cx="404" cy="429.14" r="1.45" fill="#d9650f"/>
<circle cx="408" cy="428.92" r="1.45" fill="#d9650f"/>
<circle cx="404" cy="405.72" r="1.45" fill="#d9650f"/>
<circle cx="404" cy="389.75" r="1.45" fill="#d9650f"/>
<circle cx="408" cy="389.33" r="1.45" fill="#d9650f"/>
<circle cx="400" cy="388.94" r="1.45" fill="#d9650f"/>
<circle cx="412" cy="387.83" r="1.45" fill="#d9650f"/>
<circle cx="396.5" cy="387.17" r="1.45" fill="#d9650f"/>
<circle cx="404" cy="385.11" r="1.45" fill="#d9650f"/>
<circle cx="404" cy="381.12" r="1.45" fill="#d9650f"/>
<circle cx="408" cy="380.53" r="1.45" fill="#d9650f"/>
<circle cx="400" cy="380.38" r="1.45" fill="#d9650f"/>
<circle cx="404" cy="375.66" r="1.45" fill="#d9650f"/>
<circle cx="408" cy="374.79" r="1.45" fill="#d9650f"/>
<circle cx="400" cy="374.52" r="1.45" fill="#d9650f"/>
<circle cx="411.5" cy="372.59" r="1.45" fill="#d9650f"/>
<circle cx="404" cy="371.04" r="1.45" fill="#d9650f"/>
<circle cx="408" cy="370.63" r="1.45" fill="#d9650f"/>
<circle cx="400" cy="370.51" r="1.45" fill="#d9650f"/>
<circle cx="411.5" cy="368.37" r="1.45" fill="#d9650f"/>
<circle cx="404" cy="364.84" r="1.45" fill="#d9650f"/>
<circle cx="407.5" cy="362.55" r="1.45" fill="#d9650f"/>
<circle cx="401" cy="362.35" r="1.45" fill="#d9650f"/>
<circle cx="397.5" cy="360.23" r="1.45" fill="#d9650f"/>
<circle cx="404" cy="359.88" r="1.45" fill="#d9650f"/>
<circle cx="410.5" cy="359.74" r="1.45" fill="#d9650f"/>
<circle cx="414.5" cy="359.37" r="1.45" fill="#d9650f"/>
<circle cx="400.5" cy="357.51" r="1.45" fill="#d9650f"/>
<circle cx="406.5" cy="356.63" r="1.45" fill="#d9650f"/>
<circle cx="411" cy="355.94" r="1.45" fill="#d9650f"/>
<circle cx="397" cy="355.82" r="1.45" fill="#d9650f"/>
<circle cx="404" cy="351.27" r="1.45" fill="#d9650f"/>
<circle cx="408" cy="350.66" r="1.45" fill="#d9650f"/>
<circle cx="400" cy="350.45" r="1.45" fill="#d9650f"/>
<circle cx="411" cy="348.13" r="1.45" fill="#d9650f"/>
<circle cx="397" cy="347.77" r="1.45" fill="#d9650f"/>
<circle cx="404" cy="347.3" r="1.45" fill="#d9650f"/>
<circle cx="414.5" cy="345.99" r="1.45" fill="#d9650f"/>
<circle cx="407.5" cy="345.62" r="1.45" fill="#d9650f"/>
<circle cx="400.5" cy="345.28" r="1.45" fill="#d9650f"/>
<circle cx="404" cy="343.15" r="1.45" fill="#d9650f"/>
<circle cx="410.5" cy="343.02" r="1.45" fill="#d9650f"/>
<circle cx="399" cy="341.7" r="1.45" fill="#d9650f"/>
<circle cx="404" cy="337.44" r="1.45" fill="#d9650f"/>
<circle cx="408" cy="337.18" r="1.45" fill="#d9650f"/>
<circle cx="400" cy="336.06" r="1.45" fill="#d9650f"/>
<circle cx="412" cy="335.97" r="1.45" fill="#d9650f"/>
<circle cx="396" cy="335.63" r="1.45" fill="#d9650f"/>
<circle cx="413.68" cy="335.32" r="1.45" fill="#d9650f"/>
<circle cx="397.5" cy="335.02" r="1.45" fill="#d9650f"/>
<circle cx="413.3" cy="334.54" r="1.45" fill="#d9650f"/>
<circle cx="401.44" cy="334.35" r="1.45" fill="#d9650f"/>
<circle cx="413.61" cy="334.32" r="1.45" fill="#d9650f"/>
<circle cx="405.5" cy="333.89" r="1.45" fill="#d9650f"/>
<circle cx="409.5" cy="332.94" r="1.45" fill="#d9650f"/>
<circle cx="393" cy="332.77" r="1.45" fill="#d9650f"/>
<circle cx="403.5" cy="330.55" r="1.45" fill="#d9650f"/>
<circle cx="406.5" cy="327.99" r="1.45" fill="#d9650f"/>
<circle cx="400.5" cy="327.73" r="1.45" fill="#d9650f"/>
<circle cx="410.5" cy="327.43" r="1.45" fill="#d9650f"/>
<circle cx="396.5" cy="326.62" r="1.45" fill="#d9650f"/>
<circle cx="404" cy="317.54" r="1.45" fill="#d9650f"/>
<circle cx="408" cy="316.48" r="1.45" fill="#d9650f"/>
<circle cx="402.5" cy="314.01" r="1.45" fill="#d9650f"/>
<circle cx="398.5" cy="313.67" r="1.45" fill="#d9650f"/>
<circle cx="404" cy="301.25" r="1.45" fill="#d9650f"/>
<line x1="393" y1="353.28" x2="415" y2="353.28" stroke="#000" stroke-width="1.1"/>
<text transform="translate(486.4 277.6) scale(0.9 1)" font-size="16.8">E</text>
<path d="M653.99 370.21 A73.6 73.6 0 0 1 645.99 402.44 L630.21 394.41 A55.9 55.9 0 0 0 636.29 369.93 Z" fill="#fff" stroke="#b9b9b9" stroke-width="0.9"/>
<path d="M634.89 369.91 A54.5 54.5 0 0 1 628.97 393.78 L613.37 385.84 A37 37 0 0 0 617.4 369.63 Z" fill="#fff" stroke="#b9b9b9" stroke-width="0.85"/>
<path d="M645.09 404.15 A73.6 73.6 0 0 1 623.73 428.55 L613.31 414.24 A55.9 55.9 0 0 0 629.53 395.71 Z" fill="#fff" stroke="#b9b9b9" stroke-width="0.9"/>
<path d="M628.3 395.04 A54.5 54.5 0 0 1 612.48 413.11 L602.18 398.96 A37 37 0 0 0 612.92 386.7 Z" fill="#fff" stroke="#b9b9b9" stroke-width="0.85"/>
<path d="M622.15 429.66 A73.6 73.6 0 0 1 597.98 440.52 L593.75 423.33 A55.9 55.9 0 0 0 612.11 415.08 Z" fill="#fff" stroke="#b9b9b9" stroke-width="0.9"/>
<path d="M611.32 413.93 A54.5 54.5 0 0 1 593.42 421.97 L589.24 404.98 A37 37 0 0 0 601.39 399.52 Z" fill="#fff" stroke="#b9b9b9" stroke-width="0.85"/>
<path d="M596.1 440.95 A73.6 73.6 0 0 1 570.56 441.99 L572.92 424.45 A55.9 55.9 0 0 0 592.33 423.66 Z" fill="#fff" stroke="#b9b9b9" stroke-width="0.9"/>
<path d="M592.03 422.29 A54.5 54.5 0 0 1 573.11 423.06 L575.45 405.72 A37 37 0 0 0 588.3 405.2 Z" fill="#fff" stroke="#b9b9b9" stroke-width="0.85"/>
<path d="M568.65 441.71 A73.6 73.6 0 0 1 545.68 433.95 L554.03 418.34 A55.9 55.9 0 0 0 571.48 424.23 Z" fill="#fff" stroke="#b9b9b9" stroke-width="0.9"/>
<path d="M571.7 422.85 A54.5 54.5 0 0 1 554.69 417.1 L562.95 401.67 A37 37 0 0 0 574.49 405.58 Z" fill="#fff" stroke="#b9b9b9" stroke-width="0.85"/>
<path d="M543.99 433.01 A73.6 73.6 0 0 1 526.08 418.72 L539.15 406.77 A55.9 55.9 0 0 0 552.75 417.63 Z" fill="#fff" stroke="#b9b9b9" stroke-width="0.9"/>
<path d="M553.44 416.42 A54.5 54.5 0 0 1 540.18 405.83 L553.09 394.02 A37 37 0 0 0 562.1 401.21 Z" fill="#fff" stroke="#b9b9b9" stroke-width="0.85"/>
<path d="M524.8 417.28 A73.6 73.6 0 0 1 513.31 399.32 L529.45 392.04 A55.9 55.9 0 0 0 538.17 405.68 Z" fill="#fff" stroke="#b9b9b9" stroke-width="0.9"/>
<path d="M539.23 404.76 A54.5 54.5 0 0 1 530.72 391.46 L546.67 384.27 A37 37 0 0 0 552.45 393.29 Z" fill="#fff" stroke="#b9b9b9" stroke-width="0.85"/>
<path d="M512.54 397.55 A73.6 73.6 0 0 1 507.43 378.64 L524.98 376.34 A55.9 55.9 0 0 0 528.86 390.7 Z" fill="#fff" stroke="#b9b9b9" stroke-width="0.9"/>
<path d="M530.15 390.16 A54.5 54.5 0 0 1 526.37 376.15 L543.72 373.87 A37 37 0 0 0 546.29 383.38 Z" fill="#fff" stroke="#b9b9b9" stroke-width="0.85"/>
<path d="M507.2 376.73 A73.6 73.6 0 0 1 507.66 357.82 L525.16 360.52 A55.9 55.9 0 0 0 524.81 374.88 Z" fill="#fff" stroke="#b9b9b9" stroke-width="0.9"/>
<path d="M526.2 374.74 A54.5 54.5 0 0 1 526.54 360.73 L543.83 363.4 A37 37 0 0 0 543.6 372.91 Z" fill="#fff" stroke="#b9b9b9" stroke-width="0.85"/>
<path d="M507.98 355.92 A73.6 73.6 0 0 1 513.44 338.5 L529.54 345.85 A55.9 55.9 0 0 0 525.4 359.07 Z" fill="#fff" stroke="#b9b9b9" stroke-width="0.9"/>
<path d="M526.77 359.32 A54.5 54.5 0 0 1 530.82 346.43 L546.74 353.69 A37 37 0 0 0 543.99 362.45 Z" fill="#fff" stroke="#b9b9b9" stroke-width="0.85"/>
<path d="M514.26 336.76 A73.6 73.6 0 0 1 524.16 321.58 L537.68 332.99 A55.9 55.9 0 0 0 530.17 344.52 Z" fill="#fff" stroke="#b9b9b9" stroke-width="0.9"/>
<path d="M531.43 345.14 A54.5 54.5 0 0 1 538.75 333.9 L552.13 345.18 A37 37 0 0 0 547.15 352.82 Z" fill="#fff" stroke="#b9b9b9" stroke-width="0.85"/>
<path d="M525.42 320.12 A73.6 73.6 0 0 1 538.93 308.25 L548.9 322.87 A55.9 55.9 0 0 0 538.64 331.89 Z" fill="#fff" stroke="#b9b9b9" stroke-width="0.9"/>
<path d="M539.69 332.82 A54.5 54.5 0 0 1 549.69 324.03 L559.55 338.48 A37 37 0 0 0 552.76 344.45 Z" fill="#fff" stroke="#b9b9b9" stroke-width="0.85"/>
<path d="M540.54 307.18 A73.6 73.6 0 0 1 554.33 300.22 L560.6 316.78 A55.9 55.9 0 0 0 550.12 322.06 Z" fill="#fff" stroke="#b9b9b9" stroke-width="0.9"/>
<path d="M550.88 323.24 A54.5 54.5 0 0 1 561.09 318.08 L567.29 334.45 A37 37 0 0 0 560.36 337.95 Z" fill="#fff" stroke="#b9b9b9" stroke-width="0.85"/>
<path d="M556.14 299.56 A73.6 73.6 0 0 1 570.11 296.17 L572.58 313.7 A55.9 55.9 0 0 0 561.97 316.28 Z" fill="#fff" stroke="#b9b9b9" stroke-width="0.9"/>
<path d="M562.43 317.6 A54.5 54.5 0 0 1 572.78 315.09 L575.22 332.41 A37 37 0 0 0 568.2 334.12 Z" fill="#fff" stroke="#b9b9b9" stroke-width="0.85"/>
<path d="M572.02 295.93 A73.6 73.6 0 0 1 585.85 295.65 L584.54 313.3 A55.9 55.9 0 0 0 574.03 313.51 Z" fill="#fff" stroke="#b9b9b9" stroke-width="0.9"/>
<path d="M574.19 314.9 A54.5 54.5 0 0 1 584.44 314.7 L583.14 332.15 A37 37 0 0 0 576.19 332.29 Z" fill="#fff" stroke="#b9b9b9" stroke-width="0.85"/>
<path d="M587.77 295.82 A73.6 73.6 0 0 1 599.67 298.02 L595.03 315.1 A55.9 55.9 0 0 0 586 313.43 Z" fill="#fff" stroke="#b9b9b9" stroke-width="0.9"/>
<path d="M585.86 314.82 A54.5 54.5 0 0 1 594.67 316.45 L590.09 333.34 A37 37 0 0 0 584.11 332.24 Z" fill="#fff" stroke="#b9b9b9" stroke-width="0.85"/>
<path d="M601.52 298.55 A73.6 73.6 0 0 1 611.69 302.43 L604.17 318.45 A55.9 55.9 0 0 0 596.44 315.5 Z" fill="#fff" stroke="#b9b9b9" stroke-width="0.9"/>
<path d="M596.04 316.84 A54.5 54.5 0 0 1 603.57 319.72 L596.13 335.56 A37 37 0 0 0 591.02 333.61 Z" fill="#fff" stroke="#b9b9b9" stroke-width="0.85"/>
<path d="M613.43 303.28 A73.6 73.6 0 0 1 622.44 308.64 L612.33 323.17 A55.9 55.9 0 0 0 605.48 319.09 Z" fill="#fff" stroke="#b9b9b9" stroke-width="0.9"/>
<path d="M604.86 320.34 A54.5 54.5 0 0 1 611.53 324.32 L601.53 338.68 A37 37 0 0 0 597 335.98 Z" fill="#fff" stroke="#b9b9b9" stroke-width="0.85"/>
<path d="M624.01 309.76 A73.6 73.6 0 0 1 630.14 314.8 L618.17 327.84 A55.9 55.9 0 0 0 613.52 324.02 Z" fill="#fff" stroke="#b9b9b9" stroke-width="0.9"/>
<path d="M612.69 325.15 A54.5 54.5 0 0 1 617.23 328.88 L605.4 341.78 A37 37 0 0 0 602.32 339.24 Z" fill="#fff" stroke="#b9b9b9" stroke-width="0.85"/>
<path d="M631.54 316.12 A73.6 73.6 0 0 1 637.28 322.35 L623.6 333.58 A55.9 55.9 0 0 0 619.24 328.85 Z" fill="#fff" stroke="#b9b9b9" stroke-width="0.9"/>
<path d="M618.27 329.85 A54.5 54.5 0 0 1 622.52 334.47 L609 345.57 A37 37 0 0 0 606.11 342.44 Z" fill="#fff" stroke="#b9b9b9" stroke-width="0.85"/>
<path d="M638.49 323.85 A73.6 73.6 0 0 1 642.22 329.12 L627.36 338.72 A55.9 55.9 0 0 0 624.52 334.72 Z" fill="#fff" stroke="#b9b9b9" stroke-width="0.9"/>
<path d="M623.41 335.58 A54.5 54.5 0 0 1 626.18 339.48 L611.48 348.97 A37 37 0 0 0 609.6 346.33 Z" fill="#fff" stroke="#b9b9b9" stroke-width="0.85"/>
<path d="M643.25 330.75 A73.6 73.6 0 0 1 646.54 336.77 L630.64 344.53 A55.9 55.9 0 0 0 628.13 339.96 Z" fill="#fff" stroke="#b9b9b9" stroke-width="0.9"/>
<path d="M626.94 340.69 A54.5 54.5 0 0 1 629.38 345.14 L613.65 352.82 A37 37 0 0 0 612 349.79 Z" fill="#fff" stroke="#b9b9b9" stroke-width="0.85"/>
<path d="M647.36 338.51 A73.6 73.6 0 0 1 653.23 358.45 L635.72 361 A55.9 55.9 0 0 0 631.26 345.85 Z" fill="#fff" stroke="#b9b9b9" stroke-width="0.9"/>
<path d="M629.99 346.43 A54.5 54.5 0 0 1 634.33 361.2 L617.01 363.72 A37 37 0 0 0 614.06 353.7 Z" fill="#fff" stroke="#b9b9b9" stroke-width="0.85"/>
<path d="M653.49 360.36 A73.6 73.6 0 0 1 654 368.28 L636.3 368.46 A55.9 55.9 0 0 0 635.91 362.45 Z" fill="#fff" stroke="#b9b9b9" stroke-width="0.9"/>
<path d="M634.52 362.62 A54.5 54.5 0 0 1 634.9 368.48 L617.4 368.66 A37 37 0 0 0 617.14 364.68 Z" fill="#fff" stroke="#b9b9b9" stroke-width="0.85"/>
<circle cx="580.4" cy="369.05" r="55.2" fill="none" stroke="#c8c8c8" stroke-width="0.6"/>
<circle cx="580.4" cy="369.05" r="37.0" fill="#fff" stroke="#aaa" stroke-width="0.6"/>
<path d="M658.09 370.27 A77.7 77.7 0 0 1 649.64 404.31 L646.88 402.9 A74.6 74.6 0 0 0 654.99 370.22 Z" fill="#f4f4f4" stroke="#888" stroke-width="0.4"/>
<path d="M657.89 370.27 A77.5 77.5 0 0 1 657.85 371.85 L655.15 371.75 A74.8 74.8 0 0 0 655.19 370.22 Z" fill="#111"/>
<path d="M657.67 374.97 A77.5 77.5 0 0 1 657.53 376.58 L654.85 376.32 A74.8 74.8 0 0 0 654.98 374.76 Z" fill="#111"/>
<path d="M657.17 379.64 A77.5 77.5 0 0 1 656.94 381.21 L654.27 380.79 A74.8 74.8 0 0 0 654.5 379.27 Z" fill="#aaa"/>
<path d="M656.39 384.28 A77.5 77.5 0 0 1 655.99 386.16 L653.35 385.57 A74.8 74.8 0 0 0 653.74 383.75 Z" fill="#d99"/>
<path d="M655.89 386.58 A77.5 77.5 0 0 1 655.43 388.48 L652.81 387.8 A74.8 74.8 0 0 0 653.26 385.97 Z" fill="#aaa"/>
<path d="M651.47 399.96 A77.5 77.5 0 0 1 650.72 401.63 L648.27 400.5 A74.8 74.8 0 0 0 648.99 398.88 Z" fill="#111"/>
<path d="M650.5 402.1 A77.5 77.5 0 0 1 650.08 402.98 L647.65 401.8 A74.8 74.8 0 0 0 648.06 400.95 Z" fill="#222"/>
<path d="M648.69 406.11 A77.7 77.7 0 0 1 626.14 431.86 L624.31 429.36 A74.6 74.6 0 0 0 645.97 404.63 Z" fill="#f4f4f4" stroke="#888" stroke-width="0.4"/>
<path d="M648.52 406.01 A77.5 77.5 0 0 1 647.67 407.53 L645.33 406.19 A74.8 74.8 0 0 0 646.15 404.72 Z" fill="#666"/>
<path d="M644.97 411.91 A77.5 77.5 0 0 1 643.94 413.43 L641.72 411.88 A74.8 74.8 0 0 0 642.72 410.42 Z" fill="#d99"/>
<path d="M642.32 415.66 A77.5 77.5 0 0 1 641.51 416.72 L639.38 415.06 A74.8 74.8 0 0 0 640.16 414.03 Z" fill="#111"/>
<path d="M640.91 417.47 A77.5 77.5 0 0 1 640.18 418.38 L638.09 416.66 A74.8 74.8 0 0 0 638.8 415.78 Z" fill="#666"/>
<path d="M636.38 422.65 A77.5 77.5 0 0 1 635.06 423.99 L633.16 422.07 A74.8 74.8 0 0 0 634.43 420.78 Z" fill="#111"/>
<path d="M633.11 425.87 A77.5 77.5 0 0 1 632.23 426.67 L630.43 424.66 A74.8 74.8 0 0 0 631.27 423.89 Z" fill="#111"/>
<path d="M624.48 433.04 A77.7 77.7 0 0 1 598.96 444.5 L598.22 441.49 A74.6 74.6 0 0 0 622.72 430.48 Z" fill="#f4f4f4" stroke="#888" stroke-width="0.4"/>
<path d="M620.44 435.41 A77.5 77.5 0 0 1 618.76 436.39 L617.43 434.04 A74.8 74.8 0 0 0 619.04 433.1 Z" fill="#333"/>
<path d="M616.36 437.7 A77.5 77.5 0 0 1 614.66 438.56 L613.47 436.14 A74.8 74.8 0 0 0 615.11 435.31 Z" fill="#222"/>
<path d="M614.28 438.75 A77.5 77.5 0 0 1 613.37 439.19 L612.22 436.75 A74.8 74.8 0 0 0 613.1 436.33 Z" fill="#d99"/>
<path d="M612.16 439.74 A77.5 77.5 0 0 1 610.44 440.49 L609.4 438 A74.8 74.8 0 0 0 611.05 437.28 Z" fill="#666"/>
<path d="M607.84 441.53 A77.5 77.5 0 0 1 606.49 442.03 L605.58 439.48 A74.8 74.8 0 0 0 606.88 439.01 Z" fill="#666"/>
<path d="M603.42 443.05 A77.5 77.5 0 0 1 601.83 443.53 L601.09 440.93 A74.8 74.8 0 0 0 602.62 440.47 Z" fill="#111"/>
<path d="M601.17 443.71 A77.5 77.5 0 0 1 599.61 444.13 L598.94 441.52 A74.8 74.8 0 0 0 600.45 441.11 Z" fill="#222"/>
<path d="M596.98 444.96 A77.7 77.7 0 0 1 570.01 446.05 L570.42 442.98 A74.6 74.6 0 0 0 596.32 441.93 Z" fill="#f4f4f4" stroke="#888" stroke-width="0.4"/>
<path d="M592.51 445.6 A77.5 77.5 0 0 1 591.53 445.75 L591.14 443.07 A74.8 74.8 0 0 0 592.08 442.93 Z" fill="#111"/>
<path d="M585.78 446.36 A77.5 77.5 0 0 1 584.59 446.44 L584.44 443.74 A74.8 74.8 0 0 0 585.6 443.67 Z" fill="#111"/>
<path d="M581.28 446.55 A77.5 77.5 0 0 1 579.97 446.55 L579.99 443.85 A74.8 74.8 0 0 0 581.25 443.85 Z" fill="#888"/>
<path d="M576.77 446.46 A77.5 77.5 0 0 1 575.35 446.39 L575.53 443.69 A74.8 74.8 0 0 0 576.9 443.77 Z" fill="#666"/>
<path d="M567.99 445.75 A77.7 77.7 0 0 1 543.75 437.56 L545.21 434.83 A74.6 74.6 0 0 0 568.49 442.69 Z" fill="#f4f4f4" stroke="#888" stroke-width="0.4"/>
<path d="M558.93 443.52 A77.5 77.5 0 0 1 557.23 443.01 L558.04 440.43 A74.8 74.8 0 0 0 559.68 440.92 Z" fill="#aaa"/>
<path d="M554.49 442.09 A77.5 77.5 0 0 1 553.33 441.67 L554.28 439.14 A74.8 74.8 0 0 0 555.4 439.55 Z" fill="#222"/>
<path d="M550.15 440.4 A77.5 77.5 0 0 1 548.85 439.84 L549.95 437.37 A74.8 74.8 0 0 0 551.2 437.92 Z" fill="#111"/>
<path d="M548.02 439.46 A77.5 77.5 0 0 1 546.52 438.75 L547.7 436.33 A74.8 74.8 0 0 0 549.14 437.01 Z" fill="#888"/>
<path d="M545.91 438.45 A77.5 77.5 0 0 1 544.43 437.7 L545.68 435.31 A74.8 74.8 0 0 0 547.11 436.04 Z" fill="#d99"/>
<path d="M541.96 436.58 A77.7 77.7 0 0 1 523.06 421.48 L525.35 419.39 A74.6 74.6 0 0 0 543.5 433.88 Z" fill="#f4f4f4" stroke="#888" stroke-width="0.4"/>
<path d="M542.06 436.4 A77.5 77.5 0 0 1 540.27 435.35 L541.67 433.04 A74.8 74.8 0 0 0 543.4 434.06 Z" fill="#222"/>
<path d="M537.93 433.88 A77.5 77.5 0 0 1 537.06 433.3 L538.57 431.06 A74.8 74.8 0 0 0 539.41 431.62 Z" fill="#111"/>
<path d="M533.96 431.1 A77.5 77.5 0 0 1 532.75 430.17 L534.41 428.04 A74.8 74.8 0 0 0 535.58 428.93 Z" fill="#111"/>
<path d="M532.05 429.61 A77.5 77.5 0 0 1 531.12 428.86 L532.84 426.78 A74.8 74.8 0 0 0 533.73 427.5 Z" fill="#111"/>
<path d="M528.36 426.47 A77.5 77.5 0 0 1 526.95 425.17 L528.81 423.21 A74.8 74.8 0 0 0 530.17 424.47 Z" fill="#333"/>
<path d="M524.87 423.11 A77.5 77.5 0 0 1 523.72 421.91 L525.7 420.07 A74.8 74.8 0 0 0 526.8 421.23 Z" fill="#888"/>
<path d="M521.71 419.96 A77.7 77.7 0 0 1 509.58 401.01 L512.4 399.73 A74.6 74.6 0 0 0 524.05 417.93 Z" fill="#f4f4f4" stroke="#888" stroke-width="0.4"/>
<path d="M521.86 419.83 A77.5 77.5 0 0 1 521.11 418.96 L523.17 417.22 A74.8 74.8 0 0 0 523.9 418.06 Z" fill="#222"/>
<path d="M520.41 418.11 A77.5 77.5 0 0 1 519.71 417.24 L521.82 415.57 A74.8 74.8 0 0 0 522.5 416.4 Z" fill="#666"/>
<path d="M517.66 414.54 A77.5 77.5 0 0 1 516.74 413.25 L518.96 411.71 A74.8 74.8 0 0 0 519.84 412.96 Z" fill="#111"/>
<path d="M515.12 410.82 A77.5 77.5 0 0 1 514.16 409.28 L516.47 407.88 A74.8 74.8 0 0 0 517.39 409.36 Z" fill="#888"/>
<path d="M513.93 408.9 A77.5 77.5 0 0 1 513.06 407.4 L515.4 406.07 A74.8 74.8 0 0 0 516.25 407.52 Z" fill="#aaa"/>
<path d="M511.73 404.97 A77.5 77.5 0 0 1 511.2 403.95 L513.61 402.73 A74.8 74.8 0 0 0 514.12 403.72 Z" fill="#333"/>
<path d="M510.71 402.96 A77.5 77.5 0 0 1 509.87 401.17 L512.33 400.05 A74.8 74.8 0 0 0 513.14 401.78 Z" fill="#111"/>
<path d="M508.76 399.14 A77.7 77.7 0 0 1 503.36 379.18 L506.44 378.77 A74.6 74.6 0 0 0 511.62 397.94 Z" fill="#f4f4f4" stroke="#888" stroke-width="0.4"/>
<path d="M507.29 394.77 A77.5 77.5 0 0 1 506.89 393.6 L509.45 392.75 A74.8 74.8 0 0 0 509.84 393.88 Z" fill="#333"/>
<path d="M505.9 390.39 A77.5 77.5 0 0 1 505.61 389.37 L508.22 388.66 A74.8 74.8 0 0 0 508.49 389.65 Z" fill="#222"/>
<path d="M504.3 383.69 A77.5 77.5 0 0 1 504 382.07 L506.66 381.62 A74.8 74.8 0 0 0 506.95 383.18 Z" fill="#222"/>
<path d="M503.89 381.43 A77.5 77.5 0 0 1 503.69 380.05 L506.36 379.67 A74.8 74.8 0 0 0 506.56 381 Z" fill="#666"/>
<path d="M503.12 377.16 A77.7 77.7 0 0 1 503.61 357.19 L506.67 357.66 A74.6 74.6 0 0 0 506.21 376.84 Z" fill="#f4f4f4" stroke="#888" stroke-width="0.4"/>
<path d="M503.32 377.14 A77.5 77.5 0 0 1 503.24 376.25 L505.92 376 A74.8 74.8 0 0 0 506.01 376.86 Z" fill="#666"/>
<path d="M502.9 368.27 A77.5 77.5 0 0 1 502.93 366.88 L505.63 366.95 A74.8 74.8 0 0 0 505.6 368.3 Z" fill="#222"/>
<path d="M503.95 355.18 A77.7 77.7 0 0 1 509.71 336.8 L512.53 338.08 A74.6 74.6 0 0 0 507 355.74 Z" fill="#f4f4f4" stroke="#888" stroke-width="0.4"/>
<path d="M504.61 352.86 A77.5 77.5 0 0 1 504.88 351.63 L507.51 352.24 A74.8 74.8 0 0 0 507.25 353.42 Z" fill="#111"/>
<path d="M510.58 334.96 A77.7 77.7 0 0 1 521.02 318.93 L523.39 320.93 A74.6 74.6 0 0 0 513.36 336.32 Z" fill="#f4f4f4" stroke="#888" stroke-width="0.4"/>
<path d="M510.76 335.04 A77.5 77.5 0 0 1 511.59 333.39 L513.99 334.64 A74.8 74.8 0 0 0 513.19 336.23 Z" fill="#888"/>
<path d="M512.99 330.81 A77.5 77.5 0 0 1 513.48 329.97 L515.81 331.33 A74.8 74.8 0 0 0 515.34 332.15 Z" fill="#666"/>
<path d="M514.2 328.75 A77.5 77.5 0 0 1 515.29 327.02 L517.56 328.48 A74.8 74.8 0 0 0 516.51 330.16 Z" fill="#333"/>
<path d="M515.47 326.73 A77.5 77.5 0 0 1 516.17 325.68 L518.41 327.19 A74.8 74.8 0 0 0 517.74 328.2 Z" fill="#d99"/>
<path d="M518.21 322.81 A77.5 77.5 0 0 1 518.94 321.83 L521.08 323.48 A74.8 74.8 0 0 0 520.37 324.42 Z" fill="#333"/>
<path d="M522.36 317.39 A77.7 77.7 0 0 1 536.62 304.86 L538.37 307.42 A74.6 74.6 0 0 0 524.67 319.46 Z" fill="#f4f4f4" stroke="#888" stroke-width="0.4"/>
<path d="M524.11 315.78 A77.5 77.5 0 0 1 525.43 314.42 L527.34 316.33 A74.8 74.8 0 0 0 526.07 317.63 Z" fill="#888"/>
<path d="M527.48 312.43 A77.5 77.5 0 0 1 528.73 311.29 L530.53 313.3 A74.8 74.8 0 0 0 529.32 314.41 Z" fill="#666"/>
<path d="M529.24 310.84 A77.5 77.5 0 0 1 530.2 310.01 L531.95 312.06 A74.8 74.8 0 0 0 531.02 312.87 Z" fill="#222"/>
<path d="M534.79 306.39 A77.5 77.5 0 0 1 535.88 305.62 L537.43 307.83 A74.8 74.8 0 0 0 536.38 308.57 Z" fill="#111"/>
<path d="M538.31 303.73 A77.7 77.7 0 0 1 552.87 296.39 L553.97 299.29 A74.6 74.6 0 0 0 539.99 306.34 Z" fill="#f4f4f4" stroke="#888" stroke-width="0.4"/>
<path d="M542.41 301.5 A77.5 77.5 0 0 1 543.27 301.02 L544.57 303.39 A74.8 74.8 0 0 0 543.73 303.85 Z" fill="#d99"/>
<path d="M548.64 298.36 A77.5 77.5 0 0 1 550.03 297.75 L551.09 300.23 A74.8 74.8 0 0 0 549.75 300.82 Z" fill="#111"/>
<path d="M550.78 297.43 A77.5 77.5 0 0 1 551.72 297.05 L552.72 299.56 A74.8 74.8 0 0 0 551.81 299.93 Z" fill="#666"/>
<path d="M554.78 295.69 A77.7 77.7 0 0 1 569.53 292.11 L569.97 295.18 A74.6 74.6 0 0 0 555.81 298.62 Z" fill="#f4f4f4" stroke="#888" stroke-width="0.4"/>
<path d="M559.67 294.37 A77.5 77.5 0 0 1 560.88 294.05 L561.56 296.66 A74.8 74.8 0 0 0 560.39 296.97 Z" fill="#111"/>
<path d="M562.12 293.74 A77.5 77.5 0 0 1 563.26 293.47 L563.86 296.1 A74.8 74.8 0 0 0 562.75 296.36 Z" fill="#111"/>
<path d="M567.06 292.71 A77.5 77.5 0 0 1 568.16 292.52 L568.59 295.19 A74.8 74.8 0 0 0 567.53 295.37 Z" fill="#888"/>
<path d="M571.55 291.86 A77.7 77.7 0 0 1 586.16 291.56 L585.93 294.66 A74.6 74.6 0 0 0 571.9 294.94 Z" fill="#f4f4f4" stroke="#888" stroke-width="0.4"/>
<path d="M571.57 292.05 A77.5 77.5 0 0 1 573.1 291.89 L573.35 294.58 A74.8 74.8 0 0 0 571.88 294.74 Z" fill="#666"/>
<path d="M576.42 291.65 A77.5 77.5 0 0 1 578.47 291.57 L578.54 294.27 A74.8 74.8 0 0 0 576.56 294.35 Z" fill="#111"/>
<path d="M578.85 291.57 A77.5 77.5 0 0 1 580.43 291.55 L580.43 294.25 A74.8 74.8 0 0 0 578.9 294.26 Z" fill="#111"/>
<path d="M581.28 291.56 A77.5 77.5 0 0 1 583.1 291.6 L583.01 294.3 A74.8 74.8 0 0 0 581.25 294.25 Z" fill="#d99"/>
<path d="M583.71 291.62 A77.5 77.5 0 0 1 584.95 291.68 L584.79 294.38 A74.8 74.8 0 0 0 583.6 294.32 Z" fill="#222"/>
<path d="M588.18 291.74 A77.7 77.7 0 0 1 600.74 294.06 L599.93 297.05 A74.6 74.6 0 0 0 587.87 294.83 Z" fill="#f4f4f4" stroke="#888" stroke-width="0.4"/>
<path d="M590.7 292.24 A77.5 77.5 0 0 1 592.24 292.46 L591.83 295.13 A74.8 74.8 0 0 0 590.34 294.91 Z" fill="#666"/>
<path d="M593.22 292.62 A77.5 77.5 0 0 1 594.26 292.8 L593.78 295.46 A74.8 74.8 0 0 0 592.77 295.28 Z" fill="#111"/>
<path d="M595.73 293.08 A77.5 77.5 0 0 1 597.84 293.54 L597.23 296.17 A74.8 74.8 0 0 0 595.19 295.73 Z" fill="#222"/>
<path d="M598.22 293.63 A77.5 77.5 0 0 1 600.06 294.09 L599.38 296.7 A74.8 74.8 0 0 0 597.6 296.25 Z" fill="#666"/>
<path d="M602.7 294.62 A77.7 77.7 0 0 1 613.44 298.72 L612.12 301.53 A74.6 74.6 0 0 0 601.81 297.59 Z" fill="#f4f4f4" stroke="#888" stroke-width="0.4"/>
<path d="M609.14 297.08 A77.5 77.5 0 0 1 610.61 297.68 L609.56 300.17 A74.8 74.8 0 0 0 608.14 299.58 Z" fill="#111"/>
<path d="M611.26 297.96 A77.5 77.5 0 0 1 612.35 298.44 L611.23 300.9 A74.8 74.8 0 0 0 610.18 300.44 Z" fill="#666"/>
<path d="M615.27 299.61 A77.7 77.7 0 0 1 624.78 305.27 L623.01 307.82 A74.6 74.6 0 0 0 613.87 302.38 Z" fill="#f4f4f4" stroke="#888" stroke-width="0.4"/>
<path d="M615.18 299.79 A77.5 77.5 0 0 1 616.27 300.35 L615.02 302.75 A74.8 74.8 0 0 0 613.96 302.2 Z" fill="#333"/>
<path d="M620.02 302.44 A77.5 77.5 0 0 1 621.93 303.62 L620.48 305.9 A74.8 74.8 0 0 0 618.64 304.76 Z" fill="#111"/>
<path d="M626.44 306.46 A77.7 77.7 0 0 1 632.91 311.78 L630.81 314.06 A74.6 74.6 0 0 0 624.6 308.95 Z" fill="#f4f4f4" stroke="#888" stroke-width="0.4"/>
<path d="M626.32 306.62 A77.5 77.5 0 0 1 628.14 308 L626.48 310.13 A74.8 74.8 0 0 0 624.72 308.79 Z" fill="#d99"/>
<path d="M634.39 313.17 A77.7 77.7 0 0 1 640.45 319.74 L638.06 321.71 A74.6 74.6 0 0 0 632.23 315.4 Z" fill="#f4f4f4" stroke="#888" stroke-width="0.4"/>
<path d="M637.37 316.51 A77.5 77.5 0 0 1 638.54 317.8 L636.51 319.59 A74.8 74.8 0 0 0 635.38 318.34 Z" fill="#aaa"/>
<path d="M638.86 318.17 A77.5 77.5 0 0 1 639.98 319.48 L637.9 321.21 A74.8 74.8 0 0 0 636.82 319.94 Z" fill="#111"/>
<path d="M641.72 321.33 A77.7 77.7 0 0 1 645.67 326.89 L643.06 328.57 A74.6 74.6 0 0 0 639.28 323.24 Z" fill="#f4f4f4" stroke="#888" stroke-width="0.4"/>
<path d="M644.24 325.11 A77.5 77.5 0 0 1 644.8 325.94 L642.56 327.44 A74.8 74.8 0 0 0 642.02 326.64 Z" fill="#888"/>
<path d="M646.75 328.61 A77.7 77.7 0 0 1 650.23 334.97 L647.44 336.33 A74.6 74.6 0 0 0 644.1 330.23 Z" fill="#f4f4f4" stroke="#888" stroke-width="0.4"/>
<path d="M647.8 330.79 A77.5 77.5 0 0 1 648.67 332.38 L646.29 333.65 A74.8 74.8 0 0 0 645.45 332.13 Z" fill="#666"/>
<path d="M648.96 332.91 A77.5 77.5 0 0 1 649.73 334.41 L647.31 335.61 A74.8 74.8 0 0 0 646.57 334.17 Z" fill="#111"/>
<path d="M651.09 336.81 A77.7 77.7 0 0 1 657.29 357.86 L654.22 358.31 A74.6 74.6 0 0 0 648.27 338.09 Z" fill="#f4f4f4" stroke="#888" stroke-width="0.4"/>
<path d="M652.8 341.39 A77.5 77.5 0 0 1 653.24 342.58 L650.7 343.5 A74.8 74.8 0 0 0 650.27 342.36 Z" fill="#666"/>
<path d="M655.08 348.34 A77.5 77.5 0 0 1 655.51 349.96 L652.89 350.62 A74.8 74.8 0 0 0 652.48 349.06 Z" fill="#d99"/>
<path d="M655.7 350.7 A77.5 77.5 0 0 1 656.03 352.13 L653.4 352.72 A74.8 74.8 0 0 0 653.07 351.34 Z" fill="#888"/>
<path d="M656.24 353.08 A77.5 77.5 0 0 1 656.55 354.64 L653.9 355.14 A74.8 74.8 0 0 0 653.6 353.64 Z" fill="#d99"/>
<path d="M657.56 359.88 A77.7 77.7 0 0 1 658.1 368.24 L655 368.27 A74.6 74.6 0 0 0 654.48 360.24 Z" fill="#f4f4f4" stroke="#888" stroke-width="0.4"/>
<path d="M657.64 362.67 A77.5 77.5 0 0 1 657.78 364.78 L655.09 364.93 A74.8 74.8 0 0 0 654.95 362.89 Z" fill="#888"/>
<path d="M657.82 365.45 A77.5 77.5 0 0 1 657.89 367.61 L655.19 367.66 A74.8 74.8 0 0 0 655.12 365.58 Z" fill="#888"/>
<text x="662.41" y="389.41" font-size="6.8" text-anchor="middle" dominant-baseline="central" fill="#222" transform="rotate(-76.06 662.41 389.41)">1</text>
<text x="660.69" y="370.31" font-size="2.6" text-anchor="middle" dominant-baseline="central" fill="#555" transform="rotate(-89.1 660.69 370.31)">0Mb</text>
<text x="660.24" y="377.64" font-size="2.6" text-anchor="middle" dominant-baseline="central" fill="#555" transform="rotate(-83.86 660.24 377.64)">50Mb</text>
<text x="659.12" y="384.89" font-size="2.6" text-anchor="middle" dominant-baseline="central" fill="#555" transform="rotate(-78.62 659.12 384.89)">100Mb</text>
<text x="657.35" y="392.01" font-size="2.6" text-anchor="middle" dominant-baseline="central" fill="#555" transform="rotate(-73.39 657.35 392.01)">150Mb</text>
<text x="654.93" y="398.94" font-size="2.6" text-anchor="middle" dominant-baseline="central" fill="#555" transform="rotate(-68.15 654.93 398.94)">200Mb</text>
<text x="643.97" y="424.72" font-size="6.8" text-anchor="middle" dominant-baseline="central" fill="#222" transform="rotate(-48.79 643.97 424.72)">2</text>
<text x="650.98" y="407.35" font-size="2.6" text-anchor="middle" dominant-baseline="central" fill="#555" transform="rotate(-61.52 650.98 407.35)">0Mb</text>
<text x="647.19" y="413.63" font-size="2.6" text-anchor="middle" dominant-baseline="central" fill="#555" transform="rotate(-56.28 647.19 413.63)">50Mb</text>
<text x="642.84" y="419.54" font-size="2.6" text-anchor="middle" dominant-baseline="central" fill="#555" transform="rotate(-51.04 642.84 419.54)">100Mb</text>
<text x="637.97" y="425.03" font-size="2.6" text-anchor="middle" dominant-baseline="central" fill="#555" transform="rotate(-45.8 637.97 425.03)">150Mb</text>
<text x="632.62" y="430.05" font-size="2.6" text-anchor="middle" dominant-baseline="central" fill="#555" transform="rotate(-40.57 632.62 430.05)">200Mb</text>
<text x="615.03" y="446.13" font-size="6.8" text-anchor="middle" dominant-baseline="central" fill="#222" transform="rotate(-24.19 615.03 446.13)">3</text>
<text x="625.95" y="435.18" font-size="2.6" text-anchor="middle" dominant-baseline="central" fill="#555" transform="rotate(-34.56 625.95 435.18)">0Mb</text>
<text x="619.73" y="439.06" font-size="2.6" text-anchor="middle" dominant-baseline="central" fill="#555" transform="rotate(-29.32 619.73 439.06)">50Mb</text>
<text x="613.17" y="442.36" font-size="2.6" text-anchor="middle" dominant-baseline="central" fill="#555" transform="rotate(-24.09 613.17 442.36)">100Mb</text>
<text x="606.34" y="445.04" font-size="2.6" text-anchor="middle" dominant-baseline="central" fill="#555" transform="rotate(-18.85 606.34 445.04)">150Mb</text>
<text x="583.82" y="453.48" font-size="6.8" text-anchor="middle" dominant-baseline="central" fill="#222" transform="rotate(-2.32 583.82 453.48)">4</text>
<text x="597.53" y="447.5" font-size="2.6" text-anchor="middle" dominant-baseline="central" fill="#555" transform="rotate(-12.32 597.53 447.5)">0Mb</text>
<text x="590.3" y="448.74" font-size="2.6" text-anchor="middle" dominant-baseline="central" fill="#555" transform="rotate(-7.08 590.3 448.74)">50Mb</text>
<text x="582.99" y="449.31" font-size="2.6" text-anchor="middle" dominant-baseline="central" fill="#555" transform="rotate(-1.85 582.99 449.31)">100Mb</text>
<text x="575.65" y="449.21" font-size="2.6" text-anchor="middle" dominant-baseline="central" fill="#555" transform="rotate(3.39 575.65 449.21)">150Mb</text>
<text x="553.35" y="449.1" font-size="6.8" text-anchor="middle" dominant-baseline="central" fill="#222" transform="rotate(18.67 553.35 449.1)">5</text>
<text x="567.58" y="448.32" font-size="2.6" text-anchor="middle" dominant-baseline="central" fill="#555" transform="rotate(9.19 567.58 448.32)">0Mb</text>
<text x="560.4" y="446.82" font-size="2.6" text-anchor="middle" dominant-baseline="central" fill="#555" transform="rotate(14.42 560.4 446.82)">50Mb</text>
<text x="553.38" y="444.67" font-size="2.6" text-anchor="middle" dominant-baseline="central" fill="#555" transform="rotate(19.66 553.38 444.67)">100Mb</text>
<text x="546.59" y="441.89" font-size="2.6" text-anchor="middle" dominant-baseline="central" fill="#555" transform="rotate(24.9 546.59 441.89)">150Mb</text>
<text x="527.68" y="435.09" font-size="6.8" text-anchor="middle" dominant-baseline="central" fill="#222" transform="rotate(38.6 527.68 435.09)">6</text>
<text x="540.68" y="438.84" font-size="2.6" text-anchor="middle" dominant-baseline="central" fill="#555" transform="rotate(29.65 540.68 438.84)">0Mb</text>
<text x="534.47" y="434.92" font-size="2.6" text-anchor="middle" dominant-baseline="central" fill="#555" transform="rotate(34.88 534.47 434.92)">50Mb</text>
<text x="528.65" y="430.45" font-size="2.6" text-anchor="middle" dominant-baseline="central" fill="#555" transform="rotate(40.12 528.65 430.45)">100Mb</text>
<text x="523.26" y="425.47" font-size="2.6" text-anchor="middle" dominant-baseline="central" fill="#555" transform="rotate(45.36 523.26 425.47)">150Mb</text>
<text x="509.22" y="414.59" font-size="6.8" text-anchor="middle" dominant-baseline="central" fill="#222" transform="rotate(57.39 509.22 414.59)">7</text>
<text x="519.74" y="421.67" font-size="2.6" text-anchor="middle" dominant-baseline="central" fill="#555" transform="rotate(49.06 519.74 421.67)">0Mb</text>
<text x="515.19" y="415.91" font-size="2.6" text-anchor="middle" dominant-baseline="central" fill="#555" transform="rotate(54.3 515.19 415.91)">50Mb</text>
<text x="511.19" y="409.76" font-size="2.6" text-anchor="middle" dominant-baseline="central" fill="#555" transform="rotate(59.54 511.19 409.76)">100Mb</text>
<text x="507.76" y="403.27" font-size="2.6" text-anchor="middle" dominant-baseline="central" fill="#555" transform="rotate(64.77 507.76 403.27)">150Mb</text>
<text x="498.83" y="391.12" font-size="6.8" text-anchor="middle" dominant-baseline="central" fill="#222" transform="rotate(74.86 498.83 391.12)">8</text>
<text x="506.37" y="400.15" font-size="2.6" text-anchor="middle" dominant-baseline="central" fill="#555" transform="rotate(67.22 506.37 400.15)">0Mb</text>
<text x="503.84" y="393.26" font-size="2.6" text-anchor="middle" dominant-baseline="central" fill="#555" transform="rotate(72.45 503.84 393.26)">50Mb</text>
<text x="501.95" y="386.17" font-size="2.6" text-anchor="middle" dominant-baseline="central" fill="#555" transform="rotate(77.69 501.95 386.17)">100Mb</text>
<text x="495.93" y="366.99" font-size="6.8" text-anchor="middle" dominant-baseline="central" fill="#222" transform="rotate(271.39 495.93 366.99)">9</text>
<text x="500.54" y="377.43" font-size="2.6" text-anchor="middle" dominant-baseline="central" fill="#555" transform="rotate(84.01 500.54 377.43)">0Mb</text>
<text x="500.11" y="370.1" font-size="2.6" text-anchor="middle" dominant-baseline="central" fill="#555" transform="rotate(89.25 500.11 370.1)">50Mb</text>
<text x="500.35" y="362.77" font-size="2.6" text-anchor="middle" dominant-baseline="central" fill="#555" transform="rotate(274.48 500.35 362.77)">100Mb</text>
<text x="499.77" y="343.78" font-size="6.8" text-anchor="middle" dominant-baseline="central" fill="#222" transform="rotate(287.4 499.77 343.78)">10</text>
<text x="501.39" y="354.72" font-size="2.6" text-anchor="middle" dominant-baseline="central" fill="#555" transform="rotate(280.28 501.39 354.72)">0Mb</text>
<text x="503.03" y="347.57" font-size="2.6" text-anchor="middle" dominant-baseline="central" fill="#555" transform="rotate(285.52 503.03 347.57)">50Mb</text>
<text x="505.31" y="340.59" font-size="2.6" text-anchor="middle" dominant-baseline="central" fill="#555" transform="rotate(290.75 505.31 340.59)">100Mb</text>
<text x="509.61" y="322.91" font-size="6.8" text-anchor="middle" dominant-baseline="central" fill="#222" transform="rotate(303.1 509.61 322.91)">11</text>
<text x="508.24" y="333.82" font-size="2.6" text-anchor="middle" dominant-baseline="central" fill="#555" transform="rotate(296.03 508.24 333.82)">0Mb</text>
<text x="511.76" y="327.38" font-size="2.6" text-anchor="middle" dominant-baseline="central" fill="#555" transform="rotate(301.26 511.76 327.38)">50Mb</text>
<text x="515.85" y="321.28" font-size="2.6" text-anchor="middle" dominant-baseline="central" fill="#555" transform="rotate(306.5 515.85 321.28)">100Mb</text>
<text x="524.61" y="305.58" font-size="6.8" text-anchor="middle" dominant-baseline="central" fill="#222" transform="rotate(318.69 524.61 305.58)">12</text>
<text x="520.41" y="315.67" font-size="2.6" text-anchor="middle" dominant-baseline="central" fill="#555" transform="rotate(311.67 520.41 315.67)">0Mb</text>
<text x="525.54" y="310.41" font-size="2.6" text-anchor="middle" dominant-baseline="central" fill="#555" transform="rotate(316.91 525.54 310.41)">50Mb</text>
<text x="531.12" y="305.65" font-size="2.6" text-anchor="middle" dominant-baseline="central" fill="#555" transform="rotate(322.14 531.12 305.65)">100Mb</text>
<text x="542.34" y="293.61" font-size="6.8" text-anchor="middle" dominant-baseline="central" fill="#222" transform="rotate(333.23 542.34 293.61)">13</text>
<text x="536.91" y="301.55" font-size="2.6" text-anchor="middle" dominant-baseline="central" fill="#555" transform="rotate(327.2 536.91 301.55)">0Mb</text>
<text x="543.25" y="297.86" font-size="2.6" text-anchor="middle" dominant-baseline="central" fill="#555" transform="rotate(332.44 543.25 297.86)">50Mb</text>
<text x="549.9" y="294.77" font-size="2.6" text-anchor="middle" dominant-baseline="central" fill="#555" transform="rotate(337.68 549.9 294.77)">100Mb</text>
<text x="560.47" y="286.93" font-size="6.8" text-anchor="middle" dominant-baseline="central" fill="#222" transform="rotate(346.36 560.47 286.93)">14</text>
<text x="553.93" y="293.24" font-size="2.6" text-anchor="middle" dominant-baseline="central" fill="#555" transform="rotate(340.75 553.93 293.24)">0Mb</text>
<text x="560.96" y="291.14" font-size="2.6" text-anchor="middle" dominant-baseline="central" fill="#555" transform="rotate(345.99 560.96 291.14)">50Mb</text>
<text x="568.15" y="289.69" font-size="2.6" text-anchor="middle" dominant-baseline="central" fill="#555" transform="rotate(351.23 568.15 289.69)">100Mb</text>
<text x="578.71" y="284.57" font-size="6.8" text-anchor="middle" dominant-baseline="central" fill="#222" transform="rotate(358.85 578.71 284.57)">15</text>
<text x="571.25" y="289.27" font-size="2.6" text-anchor="middle" dominant-baseline="central" fill="#555" transform="rotate(353.46 571.25 289.27)">0Mb</text>
<text x="578.57" y="288.77" font-size="2.6" text-anchor="middle" dominant-baseline="central" fill="#555" transform="rotate(358.7 578.57 288.77)">50Mb</text>
<text x="585.91" y="288.94" font-size="2.6" text-anchor="middle" dominant-baseline="central" fill="#555" transform="rotate(363.93 585.91 288.94)">100Mb</text>
<text x="595.75" y="285.96" font-size="6.8" text-anchor="middle" dominant-baseline="central" fill="#222" transform="rotate(370.46 595.75 285.96)">16</text>
<text x="588.44" y="289.15" font-size="2.6" text-anchor="middle" dominant-baseline="central" fill="#555" transform="rotate(365.75 588.44 289.15)">0Mb</text>
<text x="595.7" y="290.22" font-size="2.6" text-anchor="middle" dominant-baseline="central" fill="#555" transform="rotate(370.99 595.7 290.22)">50Mb</text>
<text x="610.57" y="290.12" font-size="6.8" text-anchor="middle" dominant-baseline="central" fill="#222" transform="rotate(380.92 610.57 290.12)">17</text>
<text x="603.44" y="292.13" font-size="2.6" text-anchor="middle" dominant-baseline="central" fill="#555" transform="rotate(376.68 603.44 292.13)">0Mb</text>
<text x="610.37" y="294.55" font-size="2.6" text-anchor="middle" dominant-baseline="central" fill="#555" transform="rotate(381.91 610.37 294.55)">50Mb</text>
<text x="623.6" y="296.43" font-size="6.8" text-anchor="middle" dominant-baseline="central" fill="#222" transform="rotate(390.75 623.6 296.43)">18</text>
<text x="616.43" y="297.29" font-size="2.6" text-anchor="middle" dominant-baseline="central" fill="#555" transform="rotate(386.66 616.43 297.29)">0Mb</text>
<text x="622.83" y="300.88" font-size="2.6" text-anchor="middle" dominant-baseline="central" fill="#555" transform="rotate(391.9 622.83 300.88)">50Mb</text>
<text x="634.06" y="303.78" font-size="6.8" text-anchor="middle" dominant-baseline="central" fill="#222" transform="rotate(399.42 634.06 303.78)">19</text>
<text x="627.98" y="304.36" font-size="2.6" text-anchor="middle" dominant-baseline="central" fill="#555" transform="rotate(396.33 627.98 304.36)">0Mb</text>
<text x="633.68" y="308.97" font-size="2.6" text-anchor="middle" dominant-baseline="central" fill="#555" transform="rotate(401.57 633.68 308.97)">50Mb</text>
<text x="642.51" y="311.76" font-size="6.8" text-anchor="middle" dominant-baseline="central" fill="#222" transform="rotate(407.31 642.51 311.76)">20</text>
<text x="636.19" y="311.3" font-size="2.6" text-anchor="middle" dominant-baseline="central" fill="#555" transform="rotate(404.01 636.19 311.3)">0Mb</text>
<text x="641.23" y="316.63" font-size="2.6" text-anchor="middle" dominant-baseline="central" fill="#555" transform="rotate(409.25 641.23 316.63)">50Mb</text>
<text x="649.3" y="320.13" font-size="6.8" text-anchor="middle" dominant-baseline="central" fill="#222" transform="rotate(414.63 649.3 320.13)">21</text>
<text x="643.77" y="319.74" font-size="2.6" text-anchor="middle" dominant-baseline="central" fill="#555" transform="rotate(412.11 643.77 319.74)">0Mb</text>
<text x="654.53" y="328.49" font-size="6.8" text-anchor="middle" dominant-baseline="central" fill="#222" transform="rotate(421.31 654.53 328.49)">22</text>
<text x="648.97" y="327.26" font-size="2.6" text-anchor="middle" dominant-baseline="central" fill="#555" transform="rotate(418.64 648.97 327.26)">0Mb</text>
<text x="652.5" y="333.7" font-size="2.6" text-anchor="middle" dominant-baseline="central" fill="#555" transform="rotate(423.88 652.5 333.7)">50Mb</text>
<text x="661.46" y="345.19" font-size="6.8" text-anchor="middle" dominant-baseline="central" fill="#222" transform="rotate(433.6 661.46 345.19)">X</text>
<text x="653.46" y="335.73" font-size="2.6" text-anchor="middle" dominant-baseline="central" fill="#555" transform="rotate(425.48 653.46 335.73)">0Mb</text>
<text x="656.2" y="342.54" font-size="2.6" text-anchor="middle" dominant-baseline="central" fill="#555" transform="rotate(430.72 656.2 342.54)">50Mb</text>
<text x="658.3" y="349.57" font-size="2.6" text-anchor="middle" dominant-baseline="central" fill="#555" transform="rotate(435.96 658.3 349.57)">100Mb</text>
<text x="659.75" y="356.76" font-size="2.6" text-anchor="middle" dominant-baseline="central" fill="#555" transform="rotate(441.2 659.75 356.76)">150Mb</text>
<text x="664.72" y="363.61" font-size="6.8" text-anchor="middle" dominant-baseline="central" fill="#222" transform="rotate(446.31 664.72 363.61)">Y</text>
<text x="660.14" y="359.57" font-size="2.6" text-anchor="middle" dominant-baseline="central" fill="#555" transform="rotate(443.22 660.14 359.57)">0Mb</text>
<text x="660.67" y="366.89" font-size="2.6" text-anchor="middle" dominant-baseline="central" fill="#555" transform="rotate(448.46 660.67 366.89)">50Mb</text>
<circle cx="562.5" cy="320.8" r="1.55" fill="#1a1aff"/>
<circle cx="566.3" cy="319.2" r="1.55" fill="#1a1aff"/>
<circle cx="581.1" cy="317.7" r="1.55" fill="#1a1aff"/>
<circle cx="596.3" cy="320.2" r="1.55" fill="#1a1aff"/>
<circle cx="599.9" cy="321.3" r="1.55" fill="#1a1aff"/>
<circle cx="609.8" cy="326.9" r="1.55" fill="#1a1aff"/>
<circle cx="612.6" cy="328.6" r="1.55" fill="#1a1aff"/>
<circle cx="615.1" cy="330.9" r="1.55" fill="#1a1aff"/>
<circle cx="617.7" cy="333.5" r="1.55" fill="#1a1aff"/>
<circle cx="627.3" cy="347.9" r="1.55" fill="#1a1aff"/>
<circle cx="628.6" cy="349.2" r="1.55" fill="#1a1aff"/>
<circle cx="630.4" cy="355.8" r="1.55" fill="#1a1aff"/>
<circle cx="630.1" cy="385" r="1.55" fill="#1a1aff"/>
<circle cx="627.3" cy="391.1" r="1.55" fill="#1a1aff"/>
<circle cx="626.8" cy="392.9" r="1.55" fill="#1a1aff"/>
<circle cx="626.1" cy="394.4" r="1.55" fill="#1a1aff"/>
<circle cx="620.2" cy="403.6" r="1.55" fill="#1a1aff"/>
<circle cx="618.4" cy="405.1" r="1.55" fill="#1a1aff"/>
<circle cx="615.9" cy="407.7" r="1.55" fill="#1a1aff"/>
<circle cx="608.3" cy="413.5" r="1.55" fill="#1a1aff"/>
<circle cx="589.7" cy="420.6" r="1.55" fill="#1a1aff"/>
<circle cx="587.4" cy="421.1" r="1.55" fill="#1a1aff"/>
<circle cx="585.4" cy="421.4" r="1.55" fill="#1a1aff"/>
<circle cx="579.3" cy="421.6" r="1.55" fill="#1a1aff"/>
<circle cx="567.6" cy="419.9" r="1.55" fill="#1a1aff"/>
<circle cx="566.3" cy="419.6" r="1.55" fill="#1a1aff"/>
<circle cx="559.2" cy="416.8" r="1.55" fill="#1a1aff"/>
<circle cx="558" cy="416.1" r="1.55" fill="#1a1aff"/>
<circle cx="539.7" cy="401.3" r="1.55" fill="#1a1aff"/>
<circle cx="538.4" cy="400" r="1.55" fill="#1a1aff"/>
<circle cx="532.8" cy="391.1" r="1.55" fill="#1a1aff"/>
<circle cx="531.5" cy="388.1" r="1.55" fill="#1a1aff"/>
<circle cx="529.5" cy="381.7" r="1.55" fill="#1a1aff"/>
<circle cx="528.7" cy="372.1" r="1.55" fill="#1a1aff"/>
<circle cx="534.6" cy="345.1" r="1.55" fill="#1a1aff"/>
<circle cx="536.4" cy="340.8" r="1.55" fill="#1a1aff"/>
<circle cx="540.4" cy="336" r="1.55" fill="#1a1aff"/>
<circle cx="544.2" cy="332.7" r="1.55" fill="#1a1aff"/>
<circle cx="547.8" cy="328.9" r="1.55" fill="#1a1aff"/>
<circle cx="567.1" cy="324.3" r="1.55" fill="#22dd22"/>
<circle cx="577.8" cy="322.5" r="1.55" fill="#22dd22"/>
<circle cx="589.7" cy="323.3" r="1.55" fill="#22dd22"/>
<circle cx="627.3" cy="361.9" r="1.55" fill="#22dd22"/>
<circle cx="625.3" cy="383.5" r="1.55" fill="#22dd22"/>
<circle cx="622.8" cy="391.1" r="1.55" fill="#22dd22"/>
<circle cx="616.7" cy="400" r="1.55" fill="#22dd22"/>
<circle cx="612.6" cy="404.4" r="1.55" fill="#22dd22"/>
<circle cx="549.8" cy="405.6" r="1.55" fill="#22dd22"/>
<circle cx="558.7" cy="411.5" r="1.55" fill="#22dd22"/>
<circle cx="583.6" cy="417.1" r="1.55" fill="#22dd22"/>
<circle cx="539.7" cy="393.2" r="1.55" fill="#22dd22"/>
<circle cx="541.7" cy="396.2" r="1.55" fill="#22dd22"/>
<circle cx="543.5" cy="399" r="1.55" fill="#22dd22"/>
<circle cx="534.6" cy="380.5" r="1.55" fill="#22dd22"/>
<circle cx="534.6" cy="358.9" r="1.55" fill="#22dd22"/>
<circle cx="537.1" cy="349.7" r="1.55" fill="#22dd22"/>
<circle cx="540.9" cy="343.6" r="1.55" fill="#22dd22"/>
<circle cx="546.8" cy="336.3" r="1.55" fill="#22dd22"/>
<circle cx="550.8" cy="339.6" r="1.55" fill="#ee1111"/>
<circle cx="608.3" cy="401.6" r="1.55" fill="#ee1111"/>
<circle cx="570.2" cy="333.5" r="1.55" fill="#ffbb00"/>
<circle cx="592.3" cy="334" r="1.55" fill="#ffbb00"/>
<circle cx="605.7" cy="342.4" r="1.55" fill="#ffbb00"/>
<circle cx="544" cy="361.4" r="1.55" fill="#ffbb00"/>
<circle cx="607.5" cy="395.7" r="1.55" fill="#ffbb00"/>
<text x="563.2" y="355.3" font-size="3.1" fill="#333">CNVs</text>
<circle cx="565.4" cy="358.2" r="0.6" fill="#ee1111"/>
<text x="568.1" y="359.2" font-size="2.8" fill="#444">Amp</text>
<circle cx="565.4" cy="361.5" r="0.6" fill="#1a9e1a"/>
<text x="568.1" y="362.5" font-size="2.8" fill="#444">Del</text>
<text x="563" y="372.9" font-size="3.1" fill="#333">Mutations</text>
<circle cx="565.4" cy="375.5" r="0.6" fill="#1a1aff"/>
<text x="568.1" y="376.5" font-size="2.8" fill="#444">Missense_Mutation</text>
<circle cx="565.4" cy="378.9" r="0.6" fill="#22dd22"/>
<text x="568.1" y="379.9" font-size="2.8" fill="#444">Silent</text>
<circle cx="565.4" cy="382.3" r="0.6" fill="#ee1111"/>
<text x="568.1" y="383.3" font-size="2.8" fill="#444">RNA</text>
<circle cx="565.4" cy="385.7" r="0.6" fill="#ffbb00"/>
<text x="568.1" y="386.7" font-size="2.8" fill="#444">Nonsense_Mutation</text>
<text transform="translate(18.8 506.5) scale(0.9 1)" font-size="16.8">F</text>
<line x1="26.9" y1="522.5" x2="30.5" y2="522.5" stroke="#555" stroke-width="0.7"/>
<text transform="translate(21.8 522.5) rotate(-90)" font-size="6.2" text-anchor="middle" fill="#333">4</text>
<line x1="26.9" y1="541.1" x2="30.5" y2="541.1" stroke="#555" stroke-width="0.7"/>
<text transform="translate(21.8 541.1) rotate(-90)" font-size="6.2" text-anchor="middle" fill="#333">2</text>
<line x1="26.9" y1="559.7" x2="30.5" y2="559.7" stroke="#555" stroke-width="0.7"/>
<text transform="translate(21.8 559.7) rotate(-90)" font-size="6.2" text-anchor="middle" fill="#333">0</text>
<line x1="26.9" y1="578.3" x2="30.5" y2="578.3" stroke="#555" stroke-width="0.7"/>
<text transform="translate(21.8 578.3) rotate(-90)" font-size="6.2" text-anchor="middle" fill="#333">-2</text>
<line x1="26.9" y1="596.9" x2="30.5" y2="596.9" stroke="#555" stroke-width="0.7"/>
<text transform="translate(21.8 596.9) rotate(-90)" font-size="6.2" text-anchor="middle" fill="#333">-4</text>
<text transform="translate(8 559.7) rotate(-90)" font-size="6.6" text-anchor="middle" fill="#333">Score</text>
<line x1="30.5" y1="550.4" x2="463.4" y2="550.4" stroke="#f2b55a" stroke-width="0.8"/>
<line x1="30.5" y1="569" x2="463.4" y2="569" stroke="#f2b55a" stroke-width="0.8"/>
<path fill="#f29696" d="M238.8 535.24h3v24.46h-3zM258 547.61h20.5v12.09h-20.5zM297 535.24h2.5v24.46h-2.5zM321.6 538.31h3v21.39h-3zM367.3 535.24h7.2v24.46h-7.2zM388.8 545.29h11.8v14.42h-11.8z"/>
<path fill="#9494f2" d="M46 559.7h2.6v24.46h-2.6zM244.8 559.7h9.6v16.09h-9.6zM418.3 559.7h13.2v24.46h-13.2z"/>
<path fill="#f45a5a" d="M258 548.64h0.45v11.06h-0.45zM259 549.67h0.45v10.03h-0.45zM259.5 550.02h0.45v9.68h-0.45zM260 549.89h0.45v9.81h-0.45zM262 549.08h0.45v10.62h-0.45zM263 550.16h0.45v9.54h-0.45zM264.5 550.17h0.45v9.53h-0.45zM265 547.28h0.45v12.42h-0.45zM265.5 548.36h0.45v11.34h-0.45zM266.5 549.14h0.45v10.56h-0.45zM267 547.42h0.45v12.28h-0.45zM267.5 549.56h0.45v10.14h-0.45zM268 550.24h0.45v9.46h-0.45zM269.5 550.28h0.45v9.42h-0.45zM271.5 547.7h0.45v12h-0.45zM273.5 548.92h0.45v10.78h-0.45zM275 547.73h0.45v11.97h-0.45zM276 549.89h0.45v9.81h-0.45zM276.5 550.35h0.45v9.35h-0.45zM389.3 549.29h0.45v10.41h-0.45zM389.8 548.5h0.45v11.2h-0.45zM391.3 547.98h0.45v11.72h-0.45zM391.8 546.92h0.45v12.78h-0.45zM392.3 549.4h0.45v10.3h-0.45zM394.3 546.8h0.45v12.9h-0.45zM394.8 550.36h0.45v9.34h-0.45zM395.3 546.56h0.45v13.14h-0.45zM396.3 545.71h0.45v13.99h-0.45zM397.3 545.04h0.45v14.66h-0.45zM397.8 550.04h0.45v9.66h-0.45zM400.3 548.81h0.45v10.89h-0.45zM54 547.04h0.45v12.66h-0.45zM55.5 547.6h0.45v12.1h-0.45zM57 546.9h0.45v12.8h-0.45zM58.5 545.18h0.45v14.52h-0.45zM59.5 546.56h0.45v13.14h-0.45zM60.5 545.93h0.45v13.77h-0.45zM61.5 547.53h0.45v12.17h-0.45zM62.5 545.03h0.45v14.67h-0.45zM63 547.68h0.45v12.02h-0.45zM64.5 547.33h0.45v12.37h-0.45zM66 545.15h0.45v14.55h-0.45zM68 544.96h0.45v14.74h-0.45zM70 545.97h0.45v13.73h-0.45zM71 547.38h0.45v12.32h-0.45zM72 548.06h0.45v11.64h-0.45zM72.5 548.48h0.45v11.22h-0.45zM73 547.08h0.45v12.62h-0.45zM74.5 548.06h0.45v11.64h-0.45z"/>
<path fill="#5050f0" d="M115.6 559.7h0.45v9.04h-0.45zM116.1 559.7h0.45v9.35h-0.45zM117.1 559.7h0.45v10.1h-0.45zM117.6 559.7h0.45v6.04h-0.45zM118.1 559.7h0.45v8.88h-0.45zM119.6 559.7h0.45v8.19h-0.45zM121.6 559.7h0.45v7.38h-0.45zM122.1 559.7h0.45v7.32h-0.45zM122.6 559.7h0.45v10.1h-0.45zM123.6 559.7h0.45v6.88h-0.45zM124.1 559.7h0.45v10.59h-0.45zM124.6 559.7h0.45v10.06h-0.45zM126.1 559.7h0.45v7.92h-0.45zM126.6 559.7h0.45v10.13h-0.45zM127.1 559.7h0.45v6.96h-0.45zM128.1 559.7h0.45v9.29h-0.45zM128.6 559.7h0.45v6.17h-0.45zM129.1 559.7h0.45v8.19h-0.45zM129.6 559.7h0.45v7.37h-0.45zM130.6 559.7h0.45v5.98h-0.45zM131.6 559.7h0.45v6.85h-0.45zM133.1 559.7h0.45v9.65h-0.45zM134.1 559.7h0.45v8.54h-0.45zM134.6 559.7h0.45v9.03h-0.45zM135.1 559.7h0.45v9.35h-0.45zM136.1 559.7h0.45v9.43h-0.45zM137.1 559.7h0.45v10.11h-0.45zM137.6 559.7h0.45v10.87h-0.45zM138.1 559.7h0.45v7.95h-0.45zM138.6 559.7h0.45v7.3h-0.45zM139.6 559.7h0.45v7.82h-0.45zM140.6 559.7h0.45v6.05h-0.45zM142.6 559.7h0.45v10.87h-0.45zM143.1 559.7h0.45v7.14h-0.45zM144.1 559.7h0.45v6.11h-0.45zM144.6 559.7h0.45v6.03h-0.45zM146.1 559.7h0.45v10.1h-0.45zM148.1 559.7h0.45v9.56h-0.45zM148.6 559.7h0.45v10.78h-0.45zM151.1 559.7h0.45v6.54h-0.45zM151.6 559.7h0.45v10.74h-0.45zM152.1 559.7h0.45v7.28h-0.45zM152.6 559.7h0.45v7.16h-0.45zM153.6 559.7h0.45v6.4h-0.45zM154.1 559.7h0.45v9.58h-0.45zM154.6 559.7h0.45v6.97h-0.45zM155.1 559.7h0.45v9.58h-0.45zM155.6 559.7h0.45v6.02h-0.45zM156.1 559.7h0.45v6.95h-0.45zM157.1 559.7h0.45v8.14h-0.45zM157.6 559.7h0.45v6.16h-0.45zM158.1 559.7h0.45v9.25h-0.45zM158.6 559.7h0.45v9.01h-0.45zM159.1 559.7h0.45v6.17h-0.45zM161.6 559.7h0.45v9.76h-0.45zM162.1 559.7h0.45v9.07h-0.45zM163.1 559.7h0.45v9.15h-0.45zM164.1 559.7h0.45v7.2h-0.45zM165.6 559.7h0.45v7.38h-0.45zM166.1 559.7h0.45v6.4h-0.45zM168.1 559.7h0.45v10.33h-0.45zM169.6 559.7h0.45v10.73h-0.45zM170.6 559.7h0.45v10.68h-0.45zM171.1 559.7h0.45v10.76h-0.45zM171.6 559.7h0.45v8.04h-0.45zM172.1 559.7h0.45v7.89h-0.45zM172.6 559.7h0.45v6.19h-0.45zM173.1 559.7h0.45v10.65h-0.45zM173.6 559.7h0.45v6.07h-0.45zM174.1 559.7h0.45v9.26h-0.45zM175.6 559.7h0.45v10.92h-0.45zM176.1 559.7h0.45v6.78h-0.45zM176.6 559.7h0.45v9.32h-0.45zM177.1 559.7h0.45v10.04h-0.45zM177.6 559.7h0.45v5.95h-0.45zM178.1 559.7h0.45v9.29h-0.45zM178.6 559.7h0.45v6.92h-0.45zM179.6 559.7h0.45v11.1h-0.45zM180.6 559.7h0.45v6.12h-0.45zM181.1 559.7h0.45v8.21h-0.45zM181.6 559.7h0.45v8.2h-0.45zM182.1 559.7h0.45v7.51h-0.45zM182.6 559.7h0.45v9.88h-0.45zM183.1 559.7h0.45v9.25h-0.45zM183.6 559.7h0.45v9.99h-0.45zM184.6 559.7h0.45v9.63h-0.45zM185.1 559.7h0.45v10.29h-0.45zM207.1 559.7h0.45v9.48h-0.45zM207.6 559.7h0.45v9.35h-0.45zM208.1 559.7h0.45v11.19h-0.45zM208.6 559.7h0.45v13.03h-0.45zM209.1 559.7h0.45v11.94h-0.45zM210.1 559.7h0.45v13.15h-0.45zM210.6 559.7h0.45v10.39h-0.45zM211.1 559.7h0.45v13.48h-0.45zM211.6 559.7h0.45v10.79h-0.45zM212.6 559.7h0.45v7.95h-0.45zM213.6 559.7h0.45v8.26h-0.45zM214.1 559.7h0.45v7.51h-0.45zM214.6 559.7h0.45v7.81h-0.45zM215.6 559.7h0.45v7.64h-0.45zM216.6 559.7h0.45v13.18h-0.45zM217.1 559.7h0.45v8.23h-0.45zM217.6 559.7h0.45v12.8h-0.45zM219.1 559.7h0.45v9.86h-0.45zM220.7 559.7h0.45v6.12h-0.45zM221.2 559.7h0.45v9.56h-0.45zM222.2 559.7h0.45v8.87h-0.45zM222.7 559.7h0.45v9.52h-0.45zM223.2 559.7h0.45v9.17h-0.45zM223.7 559.7h0.45v8.47h-0.45zM224.2 559.7h0.45v7.4h-0.45zM224.7 559.7h0.45v6.09h-0.45zM225.2 559.7h0.45v8.82h-0.45zM226.7 559.7h0.45v8.47h-0.45zM228.2 559.7h0.45v9.15h-0.45zM230.2 559.7h0.45v9.43h-0.45zM232.2 559.7h0.45v6.26h-0.45zM233.7 559.7h0.45v6.15h-0.45zM234.2 559.7h0.45v8.74h-0.45zM234.7 559.7h0.45v8.93h-0.45zM235.2 559.7h0.45v8.72h-0.45zM235.7 559.7h0.45v6.95h-0.45zM351.7 559.7h0.45v14.41h-0.45zM352.7 559.7h0.45v10.14h-0.45zM353.7 559.7h0.45v16.21h-0.45zM355.2 559.7h0.45v10.07h-0.45zM356.2 559.7h0.45v9.54h-0.45zM356.7 559.7h0.45v11.42h-0.45zM357.2 559.7h0.45v9.57h-0.45zM358.2 559.7h0.45v11.44h-0.45zM360.2 559.7h0.45v10.57h-0.45zM362.7 559.7h0.45v14.64h-0.45zM401.1 559.7h0.45v8.54h-0.45zM401.6 559.7h0.45v7.18h-0.45zM402.1 559.7h0.45v7.79h-0.45zM403.6 559.7h0.45v8.12h-0.45zM404.1 559.7h0.45v8.67h-0.45zM405.1 559.7h0.45v8.73h-0.45zM406.1 559.7h0.45v8.77h-0.45zM406.6 559.7h0.45v8.63h-0.45zM407.1 559.7h0.45v7.98h-0.45zM408.1 559.7h0.45v7.89h-0.45zM408.6 559.7h0.45v8.3h-0.45zM410.1 559.7h0.45v8.62h-0.45zM410.6 559.7h0.45v7.35h-0.45zM411.1 559.7h0.45v7.37h-0.45zM411.6 559.7h0.45v8.02h-0.45zM335.3 559.7h0.45v12.43h-0.45zM337.3 559.7h0.45v18.9h-0.45zM338.8 559.7h0.45v17.79h-0.45zM339.3 559.7h0.45v18.7h-0.45zM342.3 559.7h0.45v18.09h-0.45zM342.8 559.7h0.45v14.8h-0.45zM344.8 559.7h0.45v15.84h-0.45z"/>
<path fill="#ee1111" d="M54.1 535.24h1.2v24.46h-1.2zM58 535.24h1v24.46h-1zM54.1 544.73h3.9v14.97h-3.9zM58 547.61h3v12.09h-3zM61 552.54h1.7v7.16h-1.7zM62.7 548.35h5.3v11.35h-5.3zM68 545.75h3v13.95h-3zM71 547.15h6.4v12.56h-6.4zM85.2 552.54h1.2v7.16h-1.2zM86.4 535.24h1.7v24.46h-1.7zM88.1 544.73h1.1v14.97h-1.1zM89.2 550.68h2.2v9.02h-2.2zM91.4 548.35h15.3v11.35h-15.3zM104.4 535.24h1.2v24.46h-1.2zM185 535.24h3v24.46h-3zM188 544.73h1.2v14.97h-1.2zM235.8 535.24h3v24.46h-3zM238.8 544.08h6v15.62h-6zM258 550.68h20.5v9.02h-20.5zM295.9 541.66h6.6v18.04h-6.6zM302.5 535.24h3.5v24.46h-3.5zM319.2 535.24h1.2v24.46h-1.2zM320.4 538.31h1.2v21.39h-1.2zM321.6 541.1h3v18.6h-3zM324.6 545.94h4.2v13.76h-4.2zM345.8 548.35h1.8v11.35h-1.8zM366.3 542.4h9v17.3h-9zM375.3 550.4h1.2v9.3h-1.2zM377.5 553.1h3v6.6h-3zM388.8 550.68h11.8v9.02h-11.8zM431.5 535.24h1.8v24.46h-1.8zM433.9 551.89h2.4v7.81h-2.4zM443.8 544.17h2v15.53h-2zM445.8 535.24h1.2v24.46h-1.2z"/>
<path fill="#1212ee" d="M46 559.7h7.8v11.9h-7.8zM50.2 559.7h2.6v24.46h-2.6zM77.7 559.7h2.4v24.46h-2.4zM80.1 559.7h4.8v6.6h-4.8zM106.7 559.7h8.9v13.67h-8.9zM109 559.7h5.5v24.46h-5.5zM115.6 559.7h69.7v5.95h-69.7zM189.2 559.7h46.6v5.95h-46.6zM192.2 559.7h3v9.3h-3zM195.2 559.7h1.8v13.67h-1.8zM197 559.7h3.6v17.86h-3.6zM200.6 559.7h2.4v24.46h-2.4zM203 559.7h4.1v16.09h-4.1zM244.8 559.7h13.2v10.23h-13.2zM279.1 559.7h16.5v7.81h-16.5zM289.9 559.7h3v24.46h-3zM292.9 559.7h1.6v17.67h-1.6zM306 559.7h12.6v7.81h-12.6zM313.2 559.7h2.4v24.46h-2.4zM328.8 559.7h17v9.02h-17zM334.8 559.7h11v11.9h-11zM347.6 559.7h18.5v5.95h-18.5zM353 559.7h9v11.16h-9zM376.3 559.7h1.2v24.46h-1.2zM380.5 559.7h7.7v8.37h-7.7zM382.3 559.7h4.1v21.39h-4.1zM384 559.7h2.4v24.46h-2.4zM400.6 559.7h17.7v7.16h-17.7zM418.3 559.7h13.2v20.93h-13.2zM436.3 559.7h7.5v13.11h-7.5zM437 559.7h5.3v24.46h-5.3z"/>
<path fill="#ee1111" d="M265.5 535.24h0.8v24.46h-0.8zM266.1 535.24h0.8v24.46h-0.8zM273.2 535.24h0.8v24.46h-0.8zM274.1 535.24h0.8v24.46h-0.8zM115 535.24h0.8v24.46h-0.8zM346.1 535.24h0.8v24.46h-0.8zM394.2 535.24h0.8v24.46h-0.8zM60.1 543.89h0.8v15.81h-0.8zM63.6 544.82h0.8v14.88h-0.8zM66.1 544.82h0.8v14.88h-0.8z"/>
<path fill="#1212ee" d="M150.35 559.7h0.7v24.46h-0.7zM155.45 559.7h0.7v24.46h-0.7zM160.45 559.7h0.7v24.46h-0.7zM189.15 559.7h0.7v18.51h-0.7zM239.05 559.7h0.7v15.53h-0.7zM250.45 559.7h0.7v24.46h-0.7zM256.45 559.7h0.7v24.46h-0.7zM279.65 559.7h0.7v16.74h-0.7zM281.65 559.7h0.7v17.67h-0.7zM284.15 559.7h0.7v24.46h-0.7zM287.75 559.7h0.7v18.51h-0.7zM288.95 559.7h0.7v18.51h-0.7zM329.05 559.7h0.7v24.46h-0.7zM335.05 559.7h0.7v24.46h-0.7zM337.15 559.7h0.7v24.46h-0.7zM339.65 559.7h0.7v24.46h-0.7zM342.15 559.7h0.7v24.46h-0.7zM344.15 559.7h0.7v24.46h-0.7zM351.95 559.7h0.7v24.46h-0.7zM356.65 559.7h0.7v24.46h-0.7zM358.65 559.7h0.7v24.46h-0.7zM348.45 559.7h0.7v15.81h-0.7zM408.05 559.7h0.7v24.46h-0.7zM415.95 559.7h0.7v24.46h-0.7zM432.45 559.7h0.7v24.46h-0.7zM211.65 559.7h0.7v13.02h-0.7zM216.65 559.7h0.7v13.95h-0.7zM225.65 559.7h0.7v17.67h-0.7zM228.65 559.7h0.7v14.88h-0.7zM232.65 559.7h0.7v17.67h-0.7z"/>
<line x1="30.5" y1="559.7" x2="463.4" y2="559.7" stroke="#444" stroke-width="0.8"/>
<path d="M77.7 513.4V606.3M79.4 513.4V606.3M91.4 513.4V606.3M115.5 513.4V606.3M185.5 513.4V606.3M235.8 513.4V606.3M256.8 513.4V606.3M278.5 513.4V606.3M295.6 513.4V606.3M318.6 513.4V606.3M341.9 513.4V606.3M347.6 513.4V606.3M366.3 513.4V606.3M376.6 513.4V606.3M377.9 513.4V606.3M385.2 513.4V606.3M400.5 513.4V606.3M418.3 513.4V606.3M437.5 513.4V606.3M447 513.4V606.3" stroke="#333" stroke-width="0.75" stroke-dasharray="1.5 1.1" fill="none"/>
<path d="M432.6 513.4V606.3M433.9 513.4V606.3" stroke="#111" stroke-width="1.0" stroke-dasharray="1.6 1.0" fill="none"/>
<rect x="30.5" y="513.4" width="432.9" height="92.9" fill="none" stroke="#555" stroke-width="0.9"/>
<line x1="61.8" y1="606.3" x2="61.8" y2="609.3" stroke="#555" stroke-width="0.6"/>
<text x="61.8" y="619.4" font-size="5.6" text-anchor="middle" fill="#222">1</text>
<line x1="77.6" y1="606.3" x2="77.6" y2="609.3" stroke="#555" stroke-width="0.6"/>
<text x="77.6" y="619.4" font-size="5.6" text-anchor="middle" fill="#222">2</text>
<line x1="85.4" y1="606.3" x2="85.4" y2="609.3" stroke="#555" stroke-width="0.6"/>
<text x="85.4" y="619.4" font-size="5.6" text-anchor="middle" fill="#222">3</text>
<line x1="103.3" y1="606.3" x2="103.3" y2="609.3" stroke="#555" stroke-width="0.6"/>
<text x="103.3" y="619.4" font-size="5.6" text-anchor="middle" fill="#222">4</text>
<line x1="150.3" y1="606.3" x2="150.3" y2="609.3" stroke="#555" stroke-width="0.6"/>
<text x="150.3" y="619.4" font-size="5.6" text-anchor="middle" fill="#222">5</text>
<line x1="210.5" y1="606.3" x2="210.5" y2="609.3" stroke="#555" stroke-width="0.6"/>
<text x="210.5" y="619.4" font-size="5.6" text-anchor="middle" fill="#222">6</text>
<line x1="245.8" y1="606.3" x2="245.8" y2="609.3" stroke="#555" stroke-width="0.6"/>
<text x="245.8" y="619.4" font-size="5.6" text-anchor="middle" fill="#222">7</text>
<line x1="267.4" y1="606.3" x2="267.4" y2="609.3" stroke="#555" stroke-width="0.6"/>
<text x="267.4" y="619.4" font-size="5.6" text-anchor="middle" fill="#222">8</text>
<line x1="287.3" y1="606.3" x2="287.3" y2="609.3" stroke="#555" stroke-width="0.6"/>
<text x="287.3" y="619.4" font-size="5.6" text-anchor="middle" fill="#222">9</text>
<line x1="307.4" y1="606.3" x2="307.4" y2="609.3" stroke="#555" stroke-width="0.6"/>
<text x="307.4" y="619.4" font-size="5.6" text-anchor="middle" fill="#222">10</text>
<line x1="330.4" y1="606.3" x2="330.4" y2="609.3" stroke="#555" stroke-width="0.6"/>
<text x="330.4" y="619.4" font-size="5.6" text-anchor="middle" fill="#222">11</text>
<line x1="345" y1="606.3" x2="345" y2="609.3" stroke="#555" stroke-width="0.6"/>
<text x="345" y="619.4" font-size="5.6" text-anchor="middle" fill="#222">12</text>
<line x1="356.7" y1="606.3" x2="356.7" y2="609.3" stroke="#555" stroke-width="0.6"/>
<text x="356.7" y="619.4" font-size="5.6" text-anchor="middle" fill="#222">13</text>
<line x1="371.2" y1="606.3" x2="371.2" y2="609.3" stroke="#555" stroke-width="0.6"/>
<text x="371.2" y="619.4" font-size="5.6" text-anchor="middle" fill="#222">14</text>
<line x1="376.9" y1="606.3" x2="376.9" y2="609.3" stroke="#555" stroke-width="0.6"/>
<text x="376.9" y="619.4" font-size="5.6" text-anchor="middle" fill="#222">15</text>
<line x1="381.5" y1="606.3" x2="381.5" y2="609.3" stroke="#555" stroke-width="0.6"/>
<text x="381.5" y="619.4" font-size="5.6" text-anchor="middle" fill="#222">16</text>
<line x1="393" y1="606.3" x2="393" y2="609.3" stroke="#555" stroke-width="0.6"/>
<text x="393" y="619.4" font-size="5.6" text-anchor="middle" fill="#222">17</text>
<line x1="409.5" y1="606.3" x2="409.5" y2="609.3" stroke="#555" stroke-width="0.6"/>
<text x="409.5" y="619.4" font-size="5.6" text-anchor="middle" fill="#222">18</text>
<line x1="426.2" y1="606.3" x2="426.2" y2="609.3" stroke="#555" stroke-width="0.6"/>
<text x="426.2" y="619.4" font-size="5.6" text-anchor="middle" fill="#222">19</text>
<line x1="430.9" y1="606.3" x2="430.9" y2="609.3" stroke="#555" stroke-width="0.6"/>
<text x="430.9" y="619.4" font-size="5.6" text-anchor="middle" fill="#222">20</text>
<line x1="435.3" y1="606.3" x2="435.3" y2="609.3" stroke="#555" stroke-width="0.6"/>
<text x="435.3" y="619.4" font-size="5.6" text-anchor="middle" fill="#222">22</text>
<line x1="442.3" y1="606.3" x2="442.3" y2="609.3" stroke="#555" stroke-width="0.6"/>
<text x="442.3" y="619.4" font-size="5.6" text-anchor="middle" fill="#222">X</text>
<rect x="46.3" y="516.6" width="25.6" height="12.8" fill="#fff" stroke="#444" stroke-width="0.8"/>
<rect x="50.6" y="521.9" width="2.4" height="2.4" fill="#ee1111"/>
<text x="57.3" y="525.3" font-size="6.6" font-style="italic" fill="#222">Amp</text>
<rect x="46.3" y="589.4" width="22.4" height="12.6" fill="#fff" stroke="#444" stroke-width="0.8"/>
<rect x="50.6" y="594.6" width="2.4" height="2.4" fill="#1212ee"/>
<text x="57.6" y="598" font-size="6.6" font-style="italic" fill="#222">Del</text>
<text x="246.6" y="633.5" font-size="5.8" text-anchor="middle" fill="#222">Chromosome</text>
<text transform="translate(18.8 637.6) scale(0.9 1)" font-size="16.8">G</text>
<line x1="26.9" y1="653.6" x2="30.5" y2="653.6" stroke="#555" stroke-width="0.7"/>
<text transform="translate(21.8 653.6) rotate(-90)" font-size="6.2" text-anchor="middle" fill="#333">4</text>
<line x1="26.9" y1="672.4" x2="30.5" y2="672.4" stroke="#555" stroke-width="0.7"/>
<text transform="translate(21.8 672.4) rotate(-90)" font-size="6.2" text-anchor="middle" fill="#333">2</text>
<line x1="26.9" y1="691.2" x2="30.5" y2="691.2" stroke="#555" stroke-width="0.7"/>
<text transform="translate(21.8 691.2) rotate(-90)" font-size="6.2" text-anchor="middle" fill="#333">0</text>
<line x1="26.9" y1="710" x2="30.5" y2="710" stroke="#555" stroke-width="0.7"/>
<text transform="translate(21.8 710) rotate(-90)" font-size="6.2" text-anchor="middle" fill="#333">-2</text>
<line x1="26.9" y1="728.8" x2="30.5" y2="728.8" stroke="#555" stroke-width="0.7"/>
<text transform="translate(21.8 728.8) rotate(-90)" font-size="6.2" text-anchor="middle" fill="#333">-4</text>
<text transform="translate(8 691.2) rotate(-90)" font-size="6.6" text-anchor="middle" fill="#333">Score</text>
<line x1="30.4" y1="681.8" x2="463.2" y2="681.8" stroke="#f2b55a" stroke-width="0.8"/>
<line x1="30.4" y1="700.6" x2="463.2" y2="700.6" stroke="#f2b55a" stroke-width="0.8"/>
<path fill="#f29696" d="M96.8 666.95h11.4v24.25h-11.4zM115.4 666.95h1.8v24.25h-1.8zM155.6 666.95h18.3v24.25h-18.3zM207.4 677.1h21.3v14.1h-21.3zM207.8 667.23h1.8v23.97h-1.8zM218 667.23h3v23.97h-3zM224 667.23h1.7v23.97h-1.7zM277.2 679.45h28.7v11.75h-28.7zM286 667.23h3.7v23.97h-3.7zM340 667.7h6v23.5h-6zM359 669.96h2.5v21.24h-2.5zM364 666.95h5.3v24.25h-5.3zM403 679.45h2.2v11.75h-2.2zM410 679.45h5v11.75h-5zM429.4 678.98h17.6v12.22h-17.6z"/>
<path fill="#9494f2" d="M46 691.2h16.7v17.58h-16.7zM62.7 691.2h10.2v24.82h-10.2zM121 691.2h34.6v10.34h-34.6zM175 691.2h32.2v15.04h-32.2zM250 691.2h23.6v24.16h-23.6zM351.4 691.2h3.6v24.44h-3.6zM374.1 691.2h25.1v9.87h-25.1zM393.2 691.2h5.4v24.44h-5.4zM423 691.2h5v24.16h-5z"/>
<path fill="#f45a5a" d="M308 674.21h0.45v16.99h-0.45zM308.5 676.24h0.45v14.96h-0.45zM309 680.71h0.45v10.49h-0.45zM309.5 679.26h0.45v11.94h-0.45zM310 670.73h0.45v20.47h-0.45zM310.5 672.34h0.45v18.86h-0.45zM311 670.02h0.45v21.18h-0.45zM312 669.3h0.45v21.9h-0.45zM313 675.3h0.45v15.9h-0.45zM314.5 677.43h0.45v13.77h-0.45zM316 679.64h0.45v11.56h-0.45zM317 675.59h0.45v15.61h-0.45zM321 680.04h0.45v11.16h-0.45zM322.5 672.32h0.45v18.88h-0.45zM323 674.05h0.45v17.15h-0.45zM324 675.21h0.45v15.99h-0.45zM325 674.65h0.45v16.55h-0.45zM325.5 675.62h0.45v15.58h-0.45zM327 669.16h0.45v22.04h-0.45zM328 676.93h0.45v14.27h-0.45zM328.5 678.37h0.45v12.83h-0.45zM329.5 667.98h0.45v23.22h-0.45zM330 672.35h0.45v18.85h-0.45zM330.5 675.92h0.45v15.28h-0.45zM331 674.87h0.45v16.33h-0.45zM331.5 667.62h0.45v23.58h-0.45zM332.5 671.82h0.45v19.38h-0.45zM333 678.83h0.45v12.37h-0.45zM333.5 667.64h0.45v23.56h-0.45zM334.5 672.54h0.45v18.66h-0.45zM336 679.06h0.45v12.14h-0.45zM336.5 672.64h0.45v18.56h-0.45zM337 671.38h0.45v19.82h-0.45zM338 669.29h0.45v21.91h-0.45zM338.5 669.5h0.45v21.7h-0.45zM339 675.38h0.45v15.82h-0.45zM339.5 671.18h0.45v20.02h-0.45zM340.5 672.82h0.45v18.38h-0.45zM342 675.89h0.45v15.31h-0.45zM343 667.86h0.45v23.34h-0.45zM343.5 673.77h0.45v17.43h-0.45zM345 669.04h0.45v22.16h-0.45zM278.7 679.84h0.45v11.36h-0.45zM279.2 682.73h0.45v8.47h-0.45zM279.7 681.05h0.45v10.15h-0.45zM283.7 680.43h0.45v10.77h-0.45zM287.2 682.15h0.45v9.05h-0.45zM288.2 681.34h0.45v9.86h-0.45zM289.2 681.96h0.45v9.24h-0.45zM292.7 680.89h0.45v10.31h-0.45zM296.7 680.02h0.45v11.18h-0.45zM298.2 681.29h0.45v9.91h-0.45zM300.7 683.16h0.45v8.04h-0.45zM302.2 681.94h0.45v9.26h-0.45zM304.7 680h0.45v11.2h-0.45zM429.4 673.85h0.45v17.35h-0.45zM429.9 680.37h0.45v10.83h-0.45zM433.4 668.41h0.45v22.79h-0.45zM434.9 674.07h0.45v17.13h-0.45zM436.4 680.03h0.45v11.17h-0.45zM440.9 681.23h0.45v9.97h-0.45z"/>

<path fill="#ee1111" d="M73.5 666.95h23.3v24.25h-23.3zM96.8 675.88h11.4v15.32h-11.4zM100.5 666.95h1.5v24.25h-1.5zM110.6 678.32h6v12.88h-6zM116.6 682.46h4.4v8.74h-4.4zM155.6 667.7h18.3v23.5h-18.3zM207.4 682.36h21.3v8.84h-21.3zM209 677.1h3.6v14.1h-3.6zM218 677.1h3v14.1h-3zM224 677.1h3.6v14.1h-3.6zM277.2 685.47h69.4v5.73h-69.4zM305.9 680.86h40.7v10.34h-40.7zM340 679.45h6v11.75h-6zM346 682.27h3.8v8.93h-3.8zM311 667.23h1.5v23.97h-1.5zM318 667.23h1.5v23.97h-1.5zM322.5 667.23h2.5v23.97h-2.5zM333.5 667.23h2.5v23.97h-2.5zM340.5 667.23h1.5v23.97h-1.5zM356.7 682.36h4.8v8.84h-4.8zM361.5 684.24h1.8v6.96h-1.8zM363.3 674.09h6v17.11h-6zM369.3 684.24h4.8v6.96h-4.8zM399.8 682.27h15.6v8.93h-15.6zM429.4 683.21h17.6v7.99h-17.6z"/>
<path fill="#1212ee" d="M46 691.2h16.7v13.44h-16.7zM62.7 691.2h10.2v17.58h-10.2zM108.2 691.2h1.8v11h-1.8zM121 691.2h34.6v6.58h-34.6zM173.9 691.2h33.3v9.31h-33.3zM228.7 691.2h48.5v8.65h-48.5zM349.8 691.2h6.9v9.87h-6.9zM374.1 691.2h25.1v8.08h-25.1zM415.5 691.2h13.9v9.02h-13.9zM423 691.2h5v15.23h-5zM246.7 691.2h27.5v20.59h-27.5z"/>
<path fill="#ee1111" d="M211.6 667.23h0.8v23.97h-0.8zM358.1 666.95h0.8v24.25h-0.8zM370.1 666.95h0.8v24.25h-0.8zM432.6 666.95h0.8v24.25h-0.8zM439.6 666.95h0.8v24.25h-0.8zM442.6 666.95h0.8v24.25h-0.8zM436.1 674.28h0.8v16.92h-0.8zM445.1 672.4h0.8v18.8h-0.8z"/>
<path fill="#1212ee" d="M46.85 691.2h0.7v24.82h-0.7zM108.25 691.2h0.7v23.5h-0.7zM115.25 691.2h0.7v23.5h-0.7zM204.15 691.2h0.7v24.16h-0.7zM231.35 691.2h0.7v24.16h-0.7zM238.15 691.2h0.7v24.16h-0.7zM239.65 691.2h0.7v24.16h-0.7zM241.15 691.2h0.7v18.8h-0.7zM242.65 691.2h0.7v24.16h-0.7zM244.15 691.2h0.7v18.8h-0.7zM274.65 691.2h0.7v20.59h-0.7zM361.65 691.2h0.7v24.44h-0.7zM398.25 691.2h0.7v16.36h-0.7z"/>
<line x1="30.4" y1="691.2" x2="463.2" y2="691.2" stroke="#444" stroke-width="0.8"/>
<path d="M107.5 644.7V738M109 644.7V738M115.6 644.7V738M155.6 644.7V738M207.4 644.7V738M235.6 644.7V738M346.6 644.7V738M349.8 644.7V738M374.1 644.7V738M398 644.7V738M415.4 644.7V738M423.1 644.7V738M429.4 644.7V738M447.2 644.7V738" stroke="#333" stroke-width="0.75" stroke-dasharray="1.5 1.1" fill="none"/>
<path d="M361.4 644.7V738M362.4 644.7V738" stroke="#111" stroke-width="1.0" stroke-dasharray="1.6 1.0" fill="none"/>
<rect x="30.4" y="644.7" width="432.8" height="93.3" fill="none" stroke="#555" stroke-width="0.9"/>
<line x1="76.7" y1="738" x2="76.7" y2="741" stroke="#555" stroke-width="0.6"/>
<text x="76.7" y="750.8" font-size="5.6" text-anchor="middle" fill="#222">1</text>
<line x1="107.9" y1="738" x2="107.9" y2="741" stroke="#555" stroke-width="0.6"/>
<text x="107.9" y="750.8" font-size="5.6" text-anchor="middle" fill="#222">2</text>
<line x1="111.6" y1="738" x2="111.6" y2="741" stroke="#555" stroke-width="0.6"/>
<text x="111.6" y="750.8" font-size="5.6" text-anchor="middle" fill="#222">4</text>
<line x1="135.5" y1="738" x2="135.5" y2="741" stroke="#555" stroke-width="0.6"/>
<text x="135.5" y="750.8" font-size="5.6" text-anchor="middle" fill="#222">5</text>
<line x1="181.3" y1="738" x2="181.3" y2="741" stroke="#555" stroke-width="0.6"/>
<text x="181.3" y="750.8" font-size="5.6" text-anchor="middle" fill="#222">6</text>
<line x1="221.5" y1="738" x2="221.5" y2="741" stroke="#555" stroke-width="0.6"/>
<text x="221.5" y="750.8" font-size="5.6" text-anchor="middle" fill="#222">7</text>
<line x1="291.1" y1="738" x2="291.1" y2="741" stroke="#555" stroke-width="0.6"/>
<text x="291.1" y="750.8" font-size="5.6" text-anchor="middle" fill="#222">8</text>
<line x1="347.5" y1="738" x2="347.5" y2="741" stroke="#555" stroke-width="0.6"/>
<text x="347.5" y="750.8" font-size="5.6" text-anchor="middle" fill="#222">11</text>
<line x1="355" y1="738" x2="355" y2="741" stroke="#555" stroke-width="0.6"/>
<text x="355" y="750.8" font-size="5.6" text-anchor="middle" fill="#222">12</text>
<line x1="361.6" y1="738" x2="361.6" y2="741" stroke="#555" stroke-width="0.6"/>
<text x="361.6" y="750.8" font-size="5.6" text-anchor="middle" fill="#222">13</text>
<line x1="368.2" y1="738" x2="368.2" y2="741" stroke="#555" stroke-width="0.6"/>
<text x="368.2" y="750.8" font-size="5.6" text-anchor="middle" fill="#222">14</text>
<line x1="386.1" y1="738" x2="386.1" y2="741" stroke="#555" stroke-width="0.6"/>
<text x="386.1" y="750.8" font-size="5.6" text-anchor="middle" fill="#222">16</text>
<line x1="406.6" y1="738" x2="406.6" y2="741" stroke="#555" stroke-width="0.6"/>
<text x="406.6" y="750.8" font-size="5.6" text-anchor="middle" fill="#222">17</text>
<path fill="#c8c8ff" d="M247.2 701.54h0.35v10.25h-0.35zM248.43 701.54h0.35v10.25h-0.35zM250.42 701.54h0.35v10.25h-0.35zM251.97 701.54h0.35v10.25h-0.35zM253.56 701.54h0.35v10.25h-0.35zM255.56 701.54h0.35v10.25h-0.35zM257.34 701.54h0.35v10.25h-0.35zM258.55 701.54h0.35v10.25h-0.35zM260.1 701.54h0.35v10.25h-0.35zM262.13 701.54h0.35v10.25h-0.35zM263.55 701.54h0.35v10.25h-0.35zM265.69 701.54h0.35v10.25h-0.35zM266.93 701.54h0.35v10.25h-0.35zM268.4 701.54h0.35v10.25h-0.35zM269.63 701.54h0.35v10.25h-0.35zM270.97 701.54h0.35v10.25h-0.35zM272.23 701.54h0.35v10.25h-0.35z"/>
<line x1="419.3" y1="738" x2="419.3" y2="741" stroke="#555" stroke-width="0.6"/>
<text x="419.3" y="750.8" font-size="5.6" text-anchor="middle" fill="#222">18</text>
<line x1="426" y1="738" x2="426" y2="741" stroke="#555" stroke-width="0.6"/>
<text x="426" y="750.8" font-size="5.6" text-anchor="middle" fill="#222">19</text>
<line x1="438.4" y1="738" x2="438.4" y2="741" stroke="#555" stroke-width="0.6"/>
<text x="438.4" y="750.8" font-size="5.6" text-anchor="middle" fill="#222">20</text>
<rect x="46.3" y="648.5" width="25.6" height="12.8" fill="#fff" stroke="#444" stroke-width="0.8"/>
<rect x="50.6" y="653.8" width="2.4" height="2.4" fill="#ee1111"/>
<text x="57.3" y="657.2" font-size="6.6" font-style="italic" fill="#222">Amp</text>
<rect x="46.3" y="720.7" width="22.4" height="12.6" fill="#fff" stroke="#444" stroke-width="0.8"/>
<rect x="50.6" y="725.9" width="2.4" height="2.4" fill="#1212ee"/>
<text x="57.6" y="729.3" font-size="6.6" font-style="italic" fill="#222">Del</text>
<text x="246.9" y="765.6" font-size="5.8" text-anchor="middle" fill="#222">Chromosome</text>
</svg>
</body></html>
